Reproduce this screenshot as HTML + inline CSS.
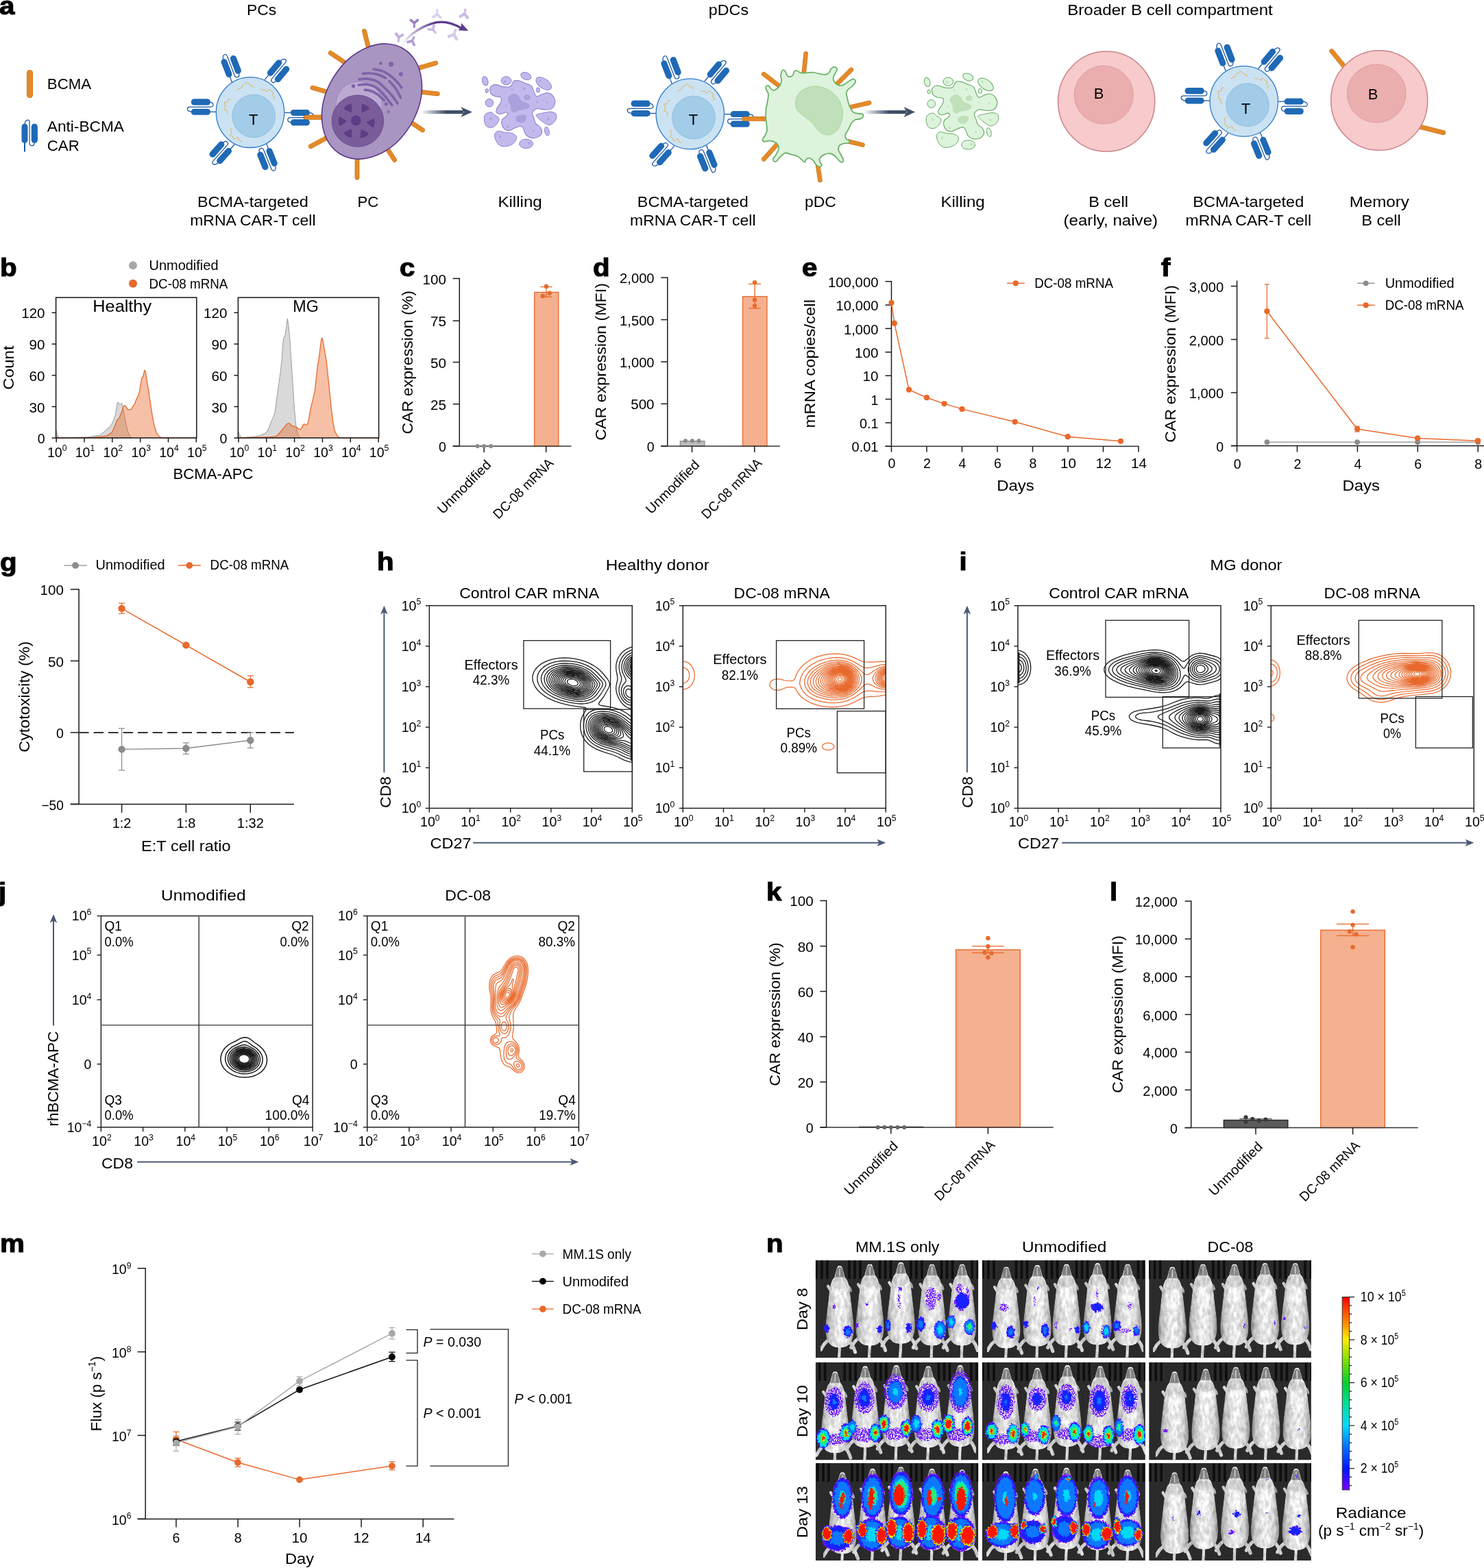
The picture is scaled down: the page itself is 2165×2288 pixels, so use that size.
<!DOCTYPE html>
<html lang="en">
<head>
<meta charset="utf-8">
<title>Figure</title>
<style>
html,body{margin:0;padding:0;background:#fff;}
body{width:2165px;height:2288px;overflow:hidden;}
svg{display:block;font-family:"Liberation Sans",sans-serif;}
svg text{white-space:pre;}
</style>
</head>
<body>
<svg width="2165" height="2288" viewBox="0 0 2165 2288">
<defs>
<g id="car"><path d="M0,0 H10.4" stroke="#1A56A6" stroke-width="1.3" fill="none"/><path d="M34.4,0 C39.4,0 42.0,1.6 42.0,4.6 C42.0,6.6 40.4,7.1 38.4,7.1 L7.9,7.1 C5.4,7.1 4.4,8.6 4.4,10.6 C4.4,13 6.9,14.2 10.4,14.2" stroke="#1A56A6" stroke-width="1.25" fill="none"/><rect x="8.4" y="-4.5" width="28.2" height="9" rx="4.4" fill="#1F69B6"/><rect x="8.4" y="9.7" width="28.2" height="9.2" rx="4.5" fill="#1F69B6"/></g>
<g id="tcell"><use href="#car" transform="translate(-49.6,-0.9) rotate(180)"/><use href="#car" transform="translate(-26.4,-43.7) rotate(-111)"/><use href="#car" transform="translate(21.1,-47.8) rotate(-50)"/><use href="#car" transform="translate(50.4,0.3) rotate(0)"/><use href="#car" transform="translate(-22.9,46.6) rotate(131.8)"/><use href="#car" transform="translate(23.2,44.4) rotate(68)"/><ellipse cx="0" cy="0" rx="49.7" ry="51.4" fill="#CBE2F3" stroke="#2C7BC9" stroke-width="1.3"/><circle cx="5.2" cy="5.2" r="31.3" fill="#A2CCE8" stroke="#8DBFE3" stroke-width="1"/><path d="M-19.4,-32.6 C-18.8,-33.0 -17.0,-34.3 -15.9,-34.9 C-14.7,-35.5 -13.1,-35.2 -12.4,-36.1 C-11.6,-37.0 -12.0,-39.3 -11.2,-40.2 C-10.4,-41.1 -8.6,-40.8 -7.7,-41.4 C-6.7,-41.9 -6.3,-43.6 -5.3,-43.7 C-4.3,-43.8 -2.7,-42.7 -1.8,-41.9 C-0.9,-41.2 -0.9,-39.4 -0.0,-39.0 C0.8,-38.6 2.8,-40.1 3.5,-39.6 C4.2,-39.1 4.0,-36.7 4.1,-36.1" fill="none" stroke="#E5A93C" stroke-width="0.9"/><path d="M15.2,-34.3 C15.7,-34.0 17.1,-32.8 18.1,-32.6 C19.2,-32.4 20.7,-33.5 21.7,-33.1 C22.6,-32.8 23.1,-30.1 24.0,-30.2 C24.9,-30.3 26.0,-33.5 26.9,-33.7 C27.9,-33.9 28.8,-32.2 29.9,-31.4 C30.9,-30.6 32.9,-30.2 33.4,-29.0 C33.9,-27.9 32.4,-25.5 32.8,-24.4 C33.2,-23.2 35.7,-22.9 35.7,-22.0 C35.7,-21.1 33.3,-19.6 32.8,-19.1" fill="none" stroke="#E5A93C" stroke-width="0.9"/><path d="M-28.8,-19.1 C-29.3,-19.2 -30.9,-20.3 -31.7,-19.7 C-32.5,-19.0 -32.5,-15.9 -33.5,-15.0 C-34.4,-14.1 -37.1,-15.4 -37.6,-14.4 C-38.1,-13.4 -36.4,-10.8 -36.4,-9.1 C-36.4,-7.4 -38.0,-5.4 -37.6,-4.4 C-37.2,-3.4 -34.7,-4.2 -34.0,-3.2 C-33.4,-2.3 -33.9,0.3 -33.5,1.4 C-33.1,2.6 -32.0,3.4 -31.7,3.8" fill="none" stroke="#E5A93C" stroke-width="0.9"/><path d="M-25.8,23.1 C-26.3,23.4 -28.6,23.8 -28.8,24.9 C-29.0,26.0 -27.0,28.2 -27.0,29.6 C-27.0,31.0 -29.1,32.1 -28.8,33.1 C-28.5,34.1 -26.0,34.5 -25.3,35.5 C-24.5,36.4 -24.9,38.6 -24.1,39.0 C-23.3,39.4 -21.6,38.2 -20.6,37.8 C-19.5,37.4 -18.4,36.1 -17.6,36.6 C-16.8,37.1 -16.8,39.8 -15.9,40.7 C-15.0,41.7 -12.9,42.2 -12.4,42.5" fill="none" stroke="#E5A93C" stroke-width="0.9"/></g>
<linearGradient id="arrg" x1="0" y1="0" x2="1" y2="0"><stop offset="0" stop-color="#3F4F69" stop-opacity="0"/><stop offset="0.6" stop-color="#3F4F69" stop-opacity="1"/><stop offset="1" stop-color="#3F4F69"/></linearGradient>
<linearGradient id="carr" gradientUnits="userSpaceOnUse" x1="585" y1="60" x2="680" y2="40"><stop offset="0" stop-color="#5B3A8C" stop-opacity="0"/><stop offset="0.55" stop-color="#5B3A8C" stop-opacity="1"/><stop offset="1" stop-color="#5B3A8C"/></linearGradient>
<g id="bigarrow"><rect x="614" y="161" width="62" height="5.1" fill="url(#arrg)"/><path d="M688.9,163.5 L672.2,156.1 L676.9,163.5 L672.2,171 Z" fill="#3F4F69"/></g>
<g id="killp"><ellipse cx="707.8" cy="118.3" rx="4.1" ry="6.7" transform="rotate(-15 707.8 118.3)" fill="#C4B9EC" stroke="#8E80CC" stroke-width="1"/><ellipse cx="738.5" cy="117.7" rx="7.4" ry="6.1" transform="rotate(0 738.5 117.7)" fill="#C4B9EC" stroke="#8E80CC" stroke-width="1"/><ellipse cx="767.3" cy="111.0" rx="7.7" ry="5.1" transform="rotate(20 767.3 111.0)" fill="#C4B9EC" stroke="#8E80CC" stroke-width="1"/><ellipse cx="793.2" cy="121.9" rx="12.8" ry="7.0" transform="rotate(35 793.2 121.9)" fill="#C4B9EC" stroke="#8E80CC" stroke-width="1"/><ellipse cx="784.9" cy="131.4" rx="2.6" ry="3.6" transform="rotate(0 784.9 131.4)" fill="#C4B9EC" stroke="#8E80CC" stroke-width="1"/><ellipse cx="710.3" cy="132.4" rx="2.2" ry="2.9" transform="rotate(0 710.3 132.4)" fill="#C4B9EC" stroke="#8E80CC" stroke-width="1"/><ellipse cx="713.9" cy="150.1" rx="5.8" ry="5.8" transform="rotate(0 713.9 150.1)" fill="#C4B9EC" stroke="#8E80CC" stroke-width="1"/><ellipse cx="797.9" cy="191.6" rx="3.2" ry="6.4" transform="rotate(-15 797.9 191.6)" fill="#C4B9EC" stroke="#8E80CC" stroke-width="1"/><ellipse cx="767.6" cy="209.8" rx="10.0" ry="6.7" transform="rotate(0 767.6 209.8)" fill="#C4B9EC" stroke="#8E80CC" stroke-width="1"/><path d="M706.2,172.7 C706.2,169.9 707.0,167.8 708.7,166.3 C710.4,164.8 714.3,163.5 716.4,163.7 C718.5,164.0 719.6,166.1 721.5,167.6 C723.4,169.1 727.2,170.8 727.9,172.7 C728.7,174.6 727.1,177.2 726.0,179.1 C724.9,181.0 723.3,183.0 721.5,184.2 C719.7,185.4 717.3,186.3 715.1,186.1 C713.0,185.9 710.2,185.2 708.7,182.9 C707.2,180.7 706.2,175.5 706.2,172.7 Z" fill="#C4B9EC" stroke="#8E80CC" stroke-width="1"/><path d="M782.3,167.6 C783.4,166.3 788.4,165.8 791.9,165.0 C795.4,164.3 800.2,162.9 803.4,163.1 C806.6,163.3 809.8,164.5 811.1,166.3 C812.4,168.1 811.9,171.6 811.1,174.0 C810.2,176.3 807.9,179.0 806.0,180.4 C804.0,181.8 801.9,182.7 799.6,182.3 C797.2,181.9 794.2,179.4 791.9,177.8 C789.5,176.2 787.1,174.4 785.5,172.7 C783.9,171.0 781.2,168.9 782.3,167.6 Z" fill="#C4B9EC" stroke="#8E80CC" stroke-width="1"/><path d="M721.5,197.0 C721.7,194.1 724.3,191.9 726.6,191.2 C729.0,190.6 732.2,192.6 735.6,193.2 C739.0,193.7 744.1,193.4 747.1,194.4 C750.1,195.5 752.9,197.4 753.5,199.6 C754.2,201.7 752.7,205.1 751.0,207.2 C749.2,209.4 746.3,211.3 743.3,212.4 C740.3,213.4 736.0,214.3 733.0,213.6 C730.1,213.0 727.3,211.3 725.4,208.5 C723.4,205.7 721.3,199.9 721.5,197.0 Z" fill="#C4B9EC" stroke="#8E80CC" stroke-width="1"/><path d="M715.1,127.9 C716.2,125.7 719.6,123.7 722.8,123.4 C726.0,123.2 730.7,126.2 734.3,126.6 C737.9,127.1 742.0,127.4 744.6,126.0 C747.1,124.6 747.5,119.7 749.7,118.3 C751.8,116.9 754.6,117.2 757.3,117.7 C760.1,118.2 763.3,120.3 766.3,121.5 C769.3,122.8 773.1,123.2 775.3,125.4 C777.4,127.5 777.8,131.8 779.1,134.3 C780.4,136.9 781.0,140.2 782.9,140.7 C784.9,141.3 787.8,138.4 790.6,137.5 C793.4,136.7 796.8,135.1 799.6,135.6 C802.3,136.1 805.5,138.4 807.2,140.7 C808.9,143.1 810.2,146.7 809.8,149.7 C809.4,152.7 807.2,156.9 804.7,158.6 C802.1,160.3 798.1,159.9 794.4,159.9 C790.8,159.9 785.9,157.8 782.9,158.6 C779.9,159.5 777.2,162.7 776.5,165.0 C775.9,167.4 778.2,170.1 779.1,172.7 C779.9,175.3 780.2,178.2 781.7,180.4 C783.1,182.5 786.6,183.4 788.1,185.5 C789.5,187.6 791.0,190.8 790.6,193.2 C790.2,195.5 787.8,198.2 785.5,199.6 C783.1,201.0 779.5,201.9 776.5,201.5 C773.6,201.1 769.7,199.2 767.6,197.0 C765.5,194.8 765.0,190.2 763.7,188.1 C762.5,185.9 762.0,184.4 759.9,184.2 C757.8,184.0 753.7,185.7 751.0,186.8 C748.2,187.8 745.8,190.4 743.3,190.6 C740.7,190.8 737.5,189.8 735.6,188.1 C733.7,186.3 732.2,182.7 731.8,180.4 C731.3,178.0 731.6,176.1 733.0,174.0 C734.5,171.8 739.9,169.3 740.7,167.6 C741.6,165.9 739.9,164.0 738.2,163.7 C736.5,163.5 732.8,166.3 730.5,166.3 C728.1,166.3 724.9,165.2 724.1,163.7 C723.2,162.3 724.3,159.7 725.4,157.3 C726.4,155.0 729.6,152.2 730.5,149.7 C731.3,147.1 731.8,143.5 730.5,142.0 C729.2,140.5 725.2,141.6 722.8,140.7 C720.5,139.9 717.7,139.0 716.4,136.9 C715.1,134.7 714.1,130.2 715.1,127.9 Z" fill="#C4B9EC" stroke="#8E80CC" stroke-width="1.1"/><path d="M740.7,143.3 C741.4,140.5 745.8,137.5 748.4,136.9 C751.0,136.2 753.9,137.7 756.1,139.4 C758.2,141.1 758.8,145.2 761.2,147.1 C763.5,149.0 768.2,149.5 770.1,151.0 C772.1,152.4 773.6,154.6 772.7,156.1 C771.8,157.6 767.8,159.1 765.0,159.9 C762.3,160.8 758.4,160.4 756.1,161.2 C753.7,161.9 752.7,164.4 751.0,164.4 C749.2,164.4 746.9,163.0 745.8,161.2 C744.8,159.4 745.4,156.5 744.6,153.5 C743.7,150.5 740.1,146.0 740.7,143.3 Z" fill="#A9A0DC"/><path d="M753.5,170.1 C754.8,168.6 758.8,167.8 761.2,167.6 C763.5,167.4 766.7,167.4 767.6,168.9 C768.4,170.4 767.6,174.8 766.3,176.5 C765.0,178.2 762.0,179.1 759.9,179.1 C757.8,179.1 754.6,178.0 753.5,176.5 C752.4,175.0 752.2,171.6 753.5,170.1 Z" fill="#A9A0DC"/><ellipse cx="768.9" cy="142.0" rx="4.9" ry="4.1" fill="#A9A0DC"/><circle cx="736.6" cy="118.7" r="1.8" fill="#ADA2E0"/><circle cx="788.1" cy="117.9" r="1.8" fill="#ADA2E0"/><circle cx="765.0" cy="129.2" r="1.9" fill="#ADA2E0"/><circle cx="747.1" cy="130.5" r="1.3" fill="#ADA2E0"/><circle cx="798.3" cy="149.4" r="1.5" fill="#ADA2E0"/><circle cx="715.8" cy="173.0" r="1.9" fill="#ADA2E0"/><circle cx="799.8" cy="173.7" r="1.8" fill="#ADA2E0"/><circle cx="740.7" cy="185.1" r="1.7" fill="#ADA2E0"/><circle cx="778.5" cy="190.9" r="1.5" fill="#ADA2E0"/><circle cx="729.8" cy="199.8" r="1.7" fill="#ADA2E0"/><circle cx="772.1" cy="209.3" r="2.0" fill="#ADA2E0"/><circle cx="738.2" cy="154.2" r="1.3" fill="#ADA2E0"/><circle cx="783.2" cy="148.4" r="1.2" fill="#ADA2E0"/></g>
<g id="killg"><ellipse cx="707.8" cy="118.3" rx="4.1" ry="6.7" transform="rotate(-15 707.8 118.3)" fill="#DDF3DC" stroke="#62A95F" stroke-width="1"/><ellipse cx="738.5" cy="117.7" rx="7.4" ry="6.1" transform="rotate(0 738.5 117.7)" fill="#DDF3DC" stroke="#62A95F" stroke-width="1"/><ellipse cx="767.3" cy="111.0" rx="7.7" ry="5.1" transform="rotate(20 767.3 111.0)" fill="#DDF3DC" stroke="#62A95F" stroke-width="1"/><ellipse cx="793.2" cy="121.9" rx="12.8" ry="7.0" transform="rotate(35 793.2 121.9)" fill="#DDF3DC" stroke="#62A95F" stroke-width="1"/><ellipse cx="784.9" cy="131.4" rx="2.6" ry="3.6" transform="rotate(0 784.9 131.4)" fill="#DDF3DC" stroke="#62A95F" stroke-width="1"/><ellipse cx="710.3" cy="132.4" rx="2.2" ry="2.9" transform="rotate(0 710.3 132.4)" fill="#DDF3DC" stroke="#62A95F" stroke-width="1"/><ellipse cx="713.9" cy="150.1" rx="5.8" ry="5.8" transform="rotate(0 713.9 150.1)" fill="#DDF3DC" stroke="#62A95F" stroke-width="1"/><ellipse cx="797.9" cy="191.6" rx="3.2" ry="6.4" transform="rotate(-15 797.9 191.6)" fill="#DDF3DC" stroke="#62A95F" stroke-width="1"/><ellipse cx="767.6" cy="209.8" rx="10.0" ry="6.7" transform="rotate(0 767.6 209.8)" fill="#DDF3DC" stroke="#62A95F" stroke-width="1"/><path d="M706.2,172.7 C706.2,169.9 707.0,167.8 708.7,166.3 C710.4,164.8 714.3,163.5 716.4,163.7 C718.5,164.0 719.6,166.1 721.5,167.6 C723.4,169.1 727.2,170.8 727.9,172.7 C728.7,174.6 727.1,177.2 726.0,179.1 C724.9,181.0 723.3,183.0 721.5,184.2 C719.7,185.4 717.3,186.3 715.1,186.1 C713.0,185.9 710.2,185.2 708.7,182.9 C707.2,180.7 706.2,175.5 706.2,172.7 Z" fill="#DDF3DC" stroke="#62A95F" stroke-width="1"/><path d="M782.3,167.6 C783.4,166.3 788.4,165.8 791.9,165.0 C795.4,164.3 800.2,162.9 803.4,163.1 C806.6,163.3 809.8,164.5 811.1,166.3 C812.4,168.1 811.9,171.6 811.1,174.0 C810.2,176.3 807.9,179.0 806.0,180.4 C804.0,181.8 801.9,182.7 799.6,182.3 C797.2,181.9 794.2,179.4 791.9,177.8 C789.5,176.2 787.1,174.4 785.5,172.7 C783.9,171.0 781.2,168.9 782.3,167.6 Z" fill="#DDF3DC" stroke="#62A95F" stroke-width="1"/><path d="M721.5,197.0 C721.7,194.1 724.3,191.9 726.6,191.2 C729.0,190.6 732.2,192.6 735.6,193.2 C739.0,193.7 744.1,193.4 747.1,194.4 C750.1,195.5 752.9,197.4 753.5,199.6 C754.2,201.7 752.7,205.1 751.0,207.2 C749.2,209.4 746.3,211.3 743.3,212.4 C740.3,213.4 736.0,214.3 733.0,213.6 C730.1,213.0 727.3,211.3 725.4,208.5 C723.4,205.7 721.3,199.9 721.5,197.0 Z" fill="#DDF3DC" stroke="#62A95F" stroke-width="1"/><path d="M715.1,127.9 C716.2,125.7 719.6,123.7 722.8,123.4 C726.0,123.2 730.7,126.2 734.3,126.6 C737.9,127.1 742.0,127.4 744.6,126.0 C747.1,124.6 747.5,119.7 749.7,118.3 C751.8,116.9 754.6,117.2 757.3,117.7 C760.1,118.2 763.3,120.3 766.3,121.5 C769.3,122.8 773.1,123.2 775.3,125.4 C777.4,127.5 777.8,131.8 779.1,134.3 C780.4,136.9 781.0,140.2 782.9,140.7 C784.9,141.3 787.8,138.4 790.6,137.5 C793.4,136.7 796.8,135.1 799.6,135.6 C802.3,136.1 805.5,138.4 807.2,140.7 C808.9,143.1 810.2,146.7 809.8,149.7 C809.4,152.7 807.2,156.9 804.7,158.6 C802.1,160.3 798.1,159.9 794.4,159.9 C790.8,159.9 785.9,157.8 782.9,158.6 C779.9,159.5 777.2,162.7 776.5,165.0 C775.9,167.4 778.2,170.1 779.1,172.7 C779.9,175.3 780.2,178.2 781.7,180.4 C783.1,182.5 786.6,183.4 788.1,185.5 C789.5,187.6 791.0,190.8 790.6,193.2 C790.2,195.5 787.8,198.2 785.5,199.6 C783.1,201.0 779.5,201.9 776.5,201.5 C773.6,201.1 769.7,199.2 767.6,197.0 C765.5,194.8 765.0,190.2 763.7,188.1 C762.5,185.9 762.0,184.4 759.9,184.2 C757.8,184.0 753.7,185.7 751.0,186.8 C748.2,187.8 745.8,190.4 743.3,190.6 C740.7,190.8 737.5,189.8 735.6,188.1 C733.7,186.3 732.2,182.7 731.8,180.4 C731.3,178.0 731.6,176.1 733.0,174.0 C734.5,171.8 739.9,169.3 740.7,167.6 C741.6,165.9 739.9,164.0 738.2,163.7 C736.5,163.5 732.8,166.3 730.5,166.3 C728.1,166.3 724.9,165.2 724.1,163.7 C723.2,162.3 724.3,159.7 725.4,157.3 C726.4,155.0 729.6,152.2 730.5,149.7 C731.3,147.1 731.8,143.5 730.5,142.0 C729.2,140.5 725.2,141.6 722.8,140.7 C720.5,139.9 717.7,139.0 716.4,136.9 C715.1,134.7 714.1,130.2 715.1,127.9 Z" fill="#DDF3DC" stroke="#62A95F" stroke-width="1.1"/><path d="M740.7,143.3 C741.4,140.5 745.8,137.5 748.4,136.9 C751.0,136.2 753.9,137.7 756.1,139.4 C758.2,141.1 758.8,145.2 761.2,147.1 C763.5,149.0 768.2,149.5 770.1,151.0 C772.1,152.4 773.6,154.6 772.7,156.1 C771.8,157.6 767.8,159.1 765.0,159.9 C762.3,160.8 758.4,160.4 756.1,161.2 C753.7,161.9 752.7,164.4 751.0,164.4 C749.2,164.4 746.9,163.0 745.8,161.2 C744.8,159.4 745.4,156.5 744.6,153.5 C743.7,150.5 740.1,146.0 740.7,143.3 Z" fill="#BFE0B8"/><path d="M753.5,170.1 C754.8,168.6 758.8,167.8 761.2,167.6 C763.5,167.4 766.7,167.4 767.6,168.9 C768.4,170.4 767.6,174.8 766.3,176.5 C765.0,178.2 762.0,179.1 759.9,179.1 C757.8,179.1 754.6,178.0 753.5,176.5 C752.4,175.0 752.2,171.6 753.5,170.1 Z" fill="#BFE0B8"/><ellipse cx="768.9" cy="142.0" rx="4.9" ry="4.1" fill="#BFE0B8"/><circle cx="736.6" cy="118.7" r="1.8" fill="#BFE3BA"/><circle cx="788.1" cy="117.9" r="1.8" fill="#BFE3BA"/><circle cx="765.0" cy="129.2" r="1.9" fill="#BFE3BA"/><circle cx="747.1" cy="130.5" r="1.3" fill="#BFE3BA"/><circle cx="798.3" cy="149.4" r="1.5" fill="#BFE3BA"/><circle cx="715.8" cy="173.0" r="1.9" fill="#BFE3BA"/><circle cx="799.8" cy="173.7" r="1.8" fill="#BFE3BA"/><circle cx="740.7" cy="185.1" r="1.7" fill="#BFE3BA"/><circle cx="778.5" cy="190.9" r="1.5" fill="#BFE3BA"/><circle cx="729.8" cy="199.8" r="1.7" fill="#BFE3BA"/><circle cx="772.1" cy="209.3" r="2.0" fill="#BFE3BA"/><circle cx="738.2" cy="154.2" r="1.3" fill="#BFE3BA"/><circle cx="783.2" cy="148.4" r="1.2" fill="#BFE3BA"/></g>
<clipPath id="cp1"><rect x="626.3" y="883.7" width="296.0" height="295.7"/></clipPath>
<clipPath id="cp2"><rect x="996.3" y="883.7" width="296.0" height="295.7"/></clipPath>
<clipPath id="cp3"><rect x="1485.0" y="883.7" width="296.0" height="295.7"/></clipPath>
<clipPath id="cp4"><rect x="1854.3" y="883.7" width="296.0" height="295.7"/></clipPath>
<clipPath id="cp5"><rect x="147.4" y="1336.5" width="308.7" height="308.3"/></clipPath>
<clipPath id="cp6"><rect x="535.7" y="1336.5" width="308.7" height="308.3"/></clipPath>
<linearGradient id="mbody" x1="0" y1="0" x2="1" y2="0"><stop offset="0" stop-color="#858585"/><stop offset="0.12" stop-color="#c2c2c2"/><stop offset="0.35" stop-color="#e6e6e6"/><stop offset="0.55" stop-color="#f2f2f2"/><stop offset="0.82" stop-color="#d6d6d6"/><stop offset="1" stop-color="#909090"/></linearGradient>
<g id="mouse"><path d="M-95,840 C-150,860 -175,900 -205,955" fill="none" stroke="#d2d2d2" stroke-width="40" stroke-linecap="round"/><path d="M95,860 C135,890 150,930 170,985" fill="none" stroke="#d2d2d2" stroke-width="40" stroke-linecap="round"/><path d="M0,900 L-8,1090" fill="none" stroke="#d8d8d8" stroke-width="34"/><path d="M-85,330 L-128,262" fill="none" stroke="#d0d0d0" stroke-width="34" stroke-linecap="round"/><ellipse cx="112" cy="290" rx="17" ry="42" transform="rotate(-25 112 290)" fill="#a8a8a8"/><path d="M0.0,40.0 C8.3,40.0 17.5,38.3 25.0,50.0 C32.5,61.7 39.5,91.7 45.0,110.0 C50.5,128.3 51.8,145.8 58.0,160.0 C64.2,174.2 74.7,179.2 82.0,195.0 C89.3,210.8 96.7,232.5 102.0,255.0 C107.3,277.5 110.3,302.5 114.0,330.0 C117.7,357.5 120.3,388.3 124.0,420.0 C127.7,451.7 132.0,486.7 136.0,520.0 C140.0,553.3 144.8,586.7 148.0,620.0 C151.2,653.3 154.7,690.0 155.0,720.0 C155.3,750.0 154.5,775.0 150.0,800.0 C145.5,825.0 139.3,850.3 128.0,870.0 C116.7,889.7 99.2,907.5 82.0,918.0 C64.8,928.5 42.8,930.5 25.0,933.0 C7.2,935.5 -7.2,935.5 -25.0,933.0 C-42.8,930.5 -64.8,928.5 -82.0,918.0 C-99.2,907.5 -116.7,889.7 -128.0,870.0 C-139.3,850.3 -145.5,825.0 -150.0,800.0 C-154.5,775.0 -155.3,750.0 -155.0,720.0 C-154.7,690.0 -151.2,653.3 -148.0,620.0 C-144.8,586.7 -140.0,553.3 -136.0,520.0 C-132.0,486.7 -127.7,451.7 -124.0,420.0 C-120.3,388.3 -117.7,357.5 -114.0,330.0 C-110.3,302.5 -107.3,277.5 -102.0,255.0 C-96.7,232.5 -89.3,210.8 -82.0,195.0 C-74.7,179.2 -64.2,174.2 -58.0,160.0 C-51.8,145.8 -50.5,128.3 -45.0,110.0 C-39.5,91.7 -32.5,61.7 -25.0,50.0 C-17.5,38.3 -8.3,40.0 0.0,40.0 Z" fill="url(#mbody)"/><ellipse cx="5" cy="400" rx="75" ry="140" fill="#fff" opacity="0.45"/><ellipse cx="0" cy="235" rx="85" ry="60" fill="#8a8a8a" opacity="0.2"/><path d="M-50,165 L-33,75 Q0,30 33,75 L50,165 Z" fill="#858585"/><rect x="-4" y="70" width="8" height="85" fill="#fff" opacity="0.8"/><path d="M-52,166 H52" stroke="#bdbdbd" stroke-width="8"/></g>
<filter id="msoft" x="0" y="0" width="100%" height="100%" color-interpolation-filters="sRGB"><feTurbulence type="fractalNoise" baseFrequency="0.22 0.1" numOctaves="3" seed="7" result="t"/><feColorMatrix in="t" type="matrix" values="1 0 0 0 0  1 0 0 0 0  1 0 0 0 0  0 0 0 0 1" result="g"/><feGaussianBlur in="SourceGraphic" stdDeviation="0.7" result="b"/><feComposite in="b" in2="g" operator="arithmetic" k1="0.4" k2="0.78" k3="0" k4="0" result="m"/><feComposite in="m" in2="b" operator="in"/></filter>
<filter id="rough" x="-10%" y="-10%" width="120%" height="120%"><feTurbulence type="fractalNoise" baseFrequency="0.35" numOctaves="2" seed="3" result="n"/><feDisplacementMap in="SourceGraphic" in2="n" scale="7" xChannelSelector="R" yChannelSelector="G"/></filter>
<filter id="speck" x="-10%" y="-10%" width="120%" height="120%"><feTurbulence type="fractalNoise" baseFrequency="0.55" numOctaves="1" seed="11" result="n"/><feColorMatrix in="n" type="matrix" values="0 0 0 0 0  0 0 0 0 0  0 0 0 0 0  0 0 0 10 -4.3" result="m"/><feDisplacementMap in="SourceGraphic" in2="n" scale="6" xChannelSelector="R" yChannelSelector="G" result="d"/><feComposite in="d" in2="m" operator="in"/></filter>
<clipPath id="cp7"><rect x="1189.9" y="1839.1" width="237.3" height="142.3"/></clipPath>
<clipPath id="cp8"><rect x="1189.9" y="1988.0" width="237.3" height="142.5"/></clipPath>
<clipPath id="cp9"><rect x="1189.9" y="2135.0" width="237.3" height="142.3"/></clipPath>
<clipPath id="cp10"><rect x="1432.9" y="1839.1" width="238.0" height="142.3"/></clipPath>
<clipPath id="cp11"><rect x="1432.9" y="1988.0" width="238.0" height="142.5"/></clipPath>
<clipPath id="cp12"><rect x="1432.9" y="2135.0" width="238.0" height="142.3"/></clipPath>
<clipPath id="cp13"><rect x="1676.2" y="1839.1" width="236.7" height="142.3"/></clipPath>
<clipPath id="cp14"><rect x="1676.2" y="1988.0" width="236.7" height="142.5"/></clipPath>
<clipPath id="cp15"><rect x="1676.2" y="2135.0" width="236.7" height="142.3"/></clipPath>
<linearGradient id="cb" x1="0" y1="0" x2="0" y2="1"><stop offset="0" stop-color="#f00"/><stop offset="0.12" stop-color="#ff7a00"/><stop offset="0.22" stop-color="#ffee00"/><stop offset="0.33" stop-color="#7be000"/><stop offset="0.45" stop-color="#00d030"/><stop offset="0.56" stop-color="#00e0a0"/><stop offset="0.67" stop-color="#00d8ff"/><stop offset="0.78" stop-color="#0070ff"/><stop offset="0.89" stop-color="#0018ff"/><stop offset="1" stop-color="#7a00ff"/></linearGradient>
</defs>
<rect width="2165" height="2288" fill="#fff"/>
<!-- panel_a -->
<text font-size="36" font-weight="bold" textLength="22.4" lengthAdjust="spacingAndGlyphs" x="-1.0" y="21.0" stroke="#000" stroke-width="1.1" stroke-linejoin="round">a</text>
<text font-size="22.5" text-anchor="middle" textLength="43.3" lengthAdjust="spacingAndGlyphs" x="381.6" y="21.6" >PCs</text>
<text font-size="22.5" text-anchor="middle" textLength="58.3" lengthAdjust="spacingAndGlyphs" x="1062.9" y="21.6" >pDCs</text>
<text font-size="22.5" text-anchor="middle" textLength="299.7" lengthAdjust="spacingAndGlyphs" x="1707.0" y="21.6" >Broader B cell compartment</text>
<text font-size="22.5" text-anchor="middle" textLength="161.9" lengthAdjust="spacingAndGlyphs" x="368.9" y="301.6" >BCMA-targeted</text>
<text font-size="22.5" text-anchor="middle" textLength="183.4" lengthAdjust="spacingAndGlyphs" x="368.9" y="329.4" >mRNA CAR-T cell</text>
<text font-size="22.5" text-anchor="middle" textLength="161.9" lengthAdjust="spacingAndGlyphs" x="1010.8" y="301.6" >BCMA-targeted</text>
<text font-size="22.5" text-anchor="middle" textLength="183.4" lengthAdjust="spacingAndGlyphs" x="1010.8" y="329.4" >mRNA CAR-T cell</text>
<text font-size="22.5" text-anchor="middle" textLength="161.9" lengthAdjust="spacingAndGlyphs" x="1821.3" y="301.6" >BCMA-targeted</text>
<text font-size="22.5" text-anchor="middle" textLength="183.4" lengthAdjust="spacingAndGlyphs" x="1821.3" y="329.4" >mRNA CAR-T cell</text>
<text font-size="22.5" text-anchor="middle" textLength="30.9" lengthAdjust="spacingAndGlyphs" x="536.9" y="301.6" >PC</text>
<text font-size="22.5" text-anchor="middle" textLength="64.4" lengthAdjust="spacingAndGlyphs" x="758.6" y="301.6" >Killing</text>
<text font-size="22.5" text-anchor="middle" textLength="45.9" lengthAdjust="spacingAndGlyphs" x="1196.9" y="301.6" >pDC</text>
<text font-size="22.5" text-anchor="middle" textLength="64.4" lengthAdjust="spacingAndGlyphs" x="1404.6" y="301.6" >Killing</text>
<text font-size="22.5" text-anchor="middle" textLength="57.6" lengthAdjust="spacingAndGlyphs" x="1617.1" y="301.6" >B cell</text>
<text font-size="22.5" text-anchor="middle" textLength="137.6" lengthAdjust="spacingAndGlyphs" x="1620.3" y="329.4" >(early, naive)</text>
<text font-size="22.5" text-anchor="middle" textLength="87.3" lengthAdjust="spacingAndGlyphs" x="2012.3" y="301.6" >Memory</text>
<text font-size="22.5" text-anchor="middle" textLength="57.6" lengthAdjust="spacingAndGlyphs" x="2015.0" y="329.4" >B cell</text>
<line x1="43.5" y1="106.5" x2="43.5" y2="138.5" stroke="#C5761E" stroke-width="9.1" stroke-linecap="round"/>
<line x1="43.5" y1="106.5" x2="43.5" y2="138.5" stroke="#E58A27" stroke-width="7.8999999999999995" stroke-linecap="round"/>
<text font-size="22.5" textLength="64.4" lengthAdjust="spacingAndGlyphs" x="68.8" y="130.0" >BCMA</text>
<g transform="translate(36,221.4) rotate(-90)"><path d="M0,0 H14.7" stroke="#1A56A6" stroke-width="2" fill="none"/><path d="M38.7,0 C43.7,0 46.3,1.6 46.3,4.6 C46.3,6.6 44.7,7.1 42.7,7.1 L12.2,7.1 C9.7,7.1 8.7,8.6 8.7,10.6 C8.7,13 11.2,14.2 14.7,14.2" stroke="#1A56A6" stroke-width="1.25" fill="none"/><rect x="12.7" y="-4.5" width="28.2" height="9" rx="4.4" fill="#1F69B6"/><rect x="12.7" y="9.7" width="28.2" height="9.2" rx="4.5" fill="#1F69B6"/></g>
<text font-size="22.5" textLength="112.1" lengthAdjust="spacingAndGlyphs" x="68.8" y="192.0" >Anti-BCMA</text>
<text font-size="22.5" textLength="47.0" lengthAdjust="spacingAndGlyphs" x="68.8" y="220.0" >CAR</text>
<line x1="537.2" y1="68.4" x2="531.5" y2="45.4" stroke="#C5761E" stroke-width="6.800000000000001" stroke-linecap="round"/>
<line x1="537.2" y1="68.4" x2="531.5" y2="45.4" stroke="#E58A27" stroke-width="5.6000000000000005" stroke-linecap="round"/>
<line x1="504.0" y1="92.0" x2="482.2" y2="77.3" stroke="#C5761E" stroke-width="6.800000000000001" stroke-linecap="round"/>
<line x1="504.0" y1="92.0" x2="482.2" y2="77.3" stroke="#E58A27" stroke-width="5.6000000000000005" stroke-linecap="round"/>
<line x1="478.4" y1="134.6" x2="456.0" y2="127.9" stroke="#C5761E" stroke-width="6.800000000000001" stroke-linecap="round"/>
<line x1="478.4" y1="134.6" x2="456.0" y2="127.9" stroke="#E58A27" stroke-width="5.6000000000000005" stroke-linecap="round"/>
<line x1="470.7" y1="171.1" x2="445.8" y2="171.1" stroke="#C5761E" stroke-width="6.800000000000001" stroke-linecap="round"/>
<line x1="470.7" y1="171.1" x2="445.8" y2="171.1" stroke="#E58A27" stroke-width="5.6000000000000005" stroke-linecap="round"/>
<line x1="475.8" y1="201.4" x2="453.4" y2="213.6" stroke="#C5761E" stroke-width="6.800000000000001" stroke-linecap="round"/>
<line x1="475.8" y1="201.4" x2="453.4" y2="213.6" stroke="#E58A27" stroke-width="5.6000000000000005" stroke-linecap="round"/>
<line x1="521.0" y1="230.8" x2="521.0" y2="259.0" stroke="#C5761E" stroke-width="6.800000000000001" stroke-linecap="round"/>
<line x1="521.0" y1="230.8" x2="521.0" y2="259.0" stroke="#E58A27" stroke-width="5.6000000000000005" stroke-linecap="round"/>
<line x1="562.2" y1="212.9" x2="575.6" y2="233.4" stroke="#C5761E" stroke-width="6.800000000000001" stroke-linecap="round"/>
<line x1="562.2" y1="212.9" x2="575.6" y2="233.4" stroke="#E58A27" stroke-width="5.6000000000000005" stroke-linecap="round"/>
<line x1="594.8" y1="175.2" x2="616.5" y2="189.9" stroke="#C5761E" stroke-width="6.800000000000001" stroke-linecap="round"/>
<line x1="594.8" y1="175.2" x2="616.5" y2="189.9" stroke="#E58A27" stroke-width="5.6000000000000005" stroke-linecap="round"/>
<line x1="612.7" y1="134.1" x2="638.3" y2="136.8" stroke="#C5761E" stroke-width="6.800000000000001" stroke-linecap="round"/>
<line x1="612.7" y1="134.1" x2="638.3" y2="136.8" stroke="#E58A27" stroke-width="5.6000000000000005" stroke-linecap="round"/>
<line x1="610.1" y1="99.5" x2="635.7" y2="92.0" stroke="#C5761E" stroke-width="6.800000000000001" stroke-linecap="round"/>
<line x1="610.1" y1="99.5" x2="635.7" y2="92.0" stroke="#E58A27" stroke-width="5.6000000000000005" stroke-linecap="round"/>
<use href="#tcell" transform="translate(365,164.1)"/>
<line x1="470.7" y1="171.1" x2="447.0" y2="171.1" stroke="#C5761E" stroke-width="6.800000000000001" stroke-linecap="round"/>
<line x1="470.7" y1="171.1" x2="447.0" y2="171.1" stroke="#E58A27" stroke-width="5.6000000000000005" stroke-linecap="round"/>
<ellipse cx="542.5" cy="148" rx="89.6" ry="66.1" transform="rotate(-59.2 542.5 148)" fill="#A995C1" stroke="#5A388B" stroke-width="1.6"/>
<circle cx="523.8" cy="152.8" r="33.9" fill="#BBA9D2" stroke="#9A83BA" stroke-width="0.8"/>
<path d="M544.9,101.0 C547.0,101.4 553.9,102.2 557.7,103.6 C561.5,104.9 564.5,106.9 567.9,109.3 C571.3,111.8 575.2,115.2 578.2,118.3 C581.1,121.4 584.6,126.3 585.8,127.9" fill="none" stroke="#7E63A6" stroke-width="3.6" stroke-linecap="round"/>
<path d="M529.5,107.4 C531.3,107.3 536.2,106.5 539.8,106.8 C543.4,107.0 547.5,107.5 551.3,108.7 C555.1,109.8 560.9,112.9 562.8,113.8" fill="none" stroke="#7E63A6" stroke-width="3.6" stroke-linecap="round"/>
<path d="M567.9,118.3 C569.4,120.0 574.1,124.5 576.9,128.5 C579.7,132.6 583.3,140.2 584.6,142.6" fill="none" stroke="#7E63A6" stroke-width="3.6" stroke-linecap="round"/>
<path d="M523.8,115.7 C526.0,115.6 532.6,114.4 537.2,115.1 C541.8,115.7 546.6,116.7 551.3,119.5 C556.0,122.4 561.5,128.5 565.4,132.3 C569.2,136.2 571.9,139.5 574.3,142.6 C576.8,145.7 579.1,149.5 580.1,150.9" fill="none" stroke="#7E63A6" stroke-width="3.6" stroke-linecap="round"/>
<path d="M523.2,124.0 C525.5,123.9 532.7,122.6 537.2,123.4 C541.7,124.1 546.0,125.7 550.0,128.5 C554.1,131.3 557.9,135.9 561.5,140.0 C565.2,144.2 570.1,151.2 571.8,153.4" fill="none" stroke="#7E63A6" stroke-width="3.6" stroke-linecap="round"/>
<path d="M532.1,131.1 C533.8,131.4 539.1,131.8 542.3,133.0 C545.5,134.2 548.3,135.9 551.3,138.1 C554.3,140.3 558.8,145.0 560.3,146.4" fill="none" stroke="#7E63A6" stroke-width="3.6" stroke-linecap="round"/>
<circle cx="555.4" cy="92.4" r="2.3" fill="#7E63A6" stroke="none" stroke-width="0" />
<circle cx="570.5" cy="93.6" r="3.6" fill="#7E63A6" stroke="none" stroke-width="0" />
<circle cx="584.9" cy="108.3" r="3.1" fill="#7E63A6" stroke="none" stroke-width="0" />
<circle cx="515.5" cy="125.6" r="2.6" fill="#7E63A6" stroke="none" stroke-width="0" />
<circle cx="563.4" cy="151.9" r="2.6" fill="#7E63A6" stroke="none" stroke-width="0" />
<circle cx="566.9" cy="163.0" r="1.9" fill="#7E63A6" stroke="none" stroke-width="0" />
<circle cx="521.9" cy="176.5" r="37.7" fill="#785A99" stroke="#6B4D8E" stroke-width="1" fill-opacity="0.96"/>
<circle cx="519.3" cy="175.8" r="7.4" fill="#5B3E85"/>
<path d="M-4.6,0 L3.6,-5.2 Q6,0 3.6,5.2 Z" transform="translate(509.4,158.9) rotate(-122)" fill="#5B3E85" stroke="#5B3E85" stroke-width="2.6" stroke-linejoin="round"/>
<path d="M-4.6,0 L3.6,-5.2 Q6,0 3.6,5.2 Z" transform="translate(531.2,158.9) rotate(-58)" fill="#5B3E85" stroke="#5B3E85" stroke-width="2.6" stroke-linejoin="round"/>
<path d="M-4.6,0 L3.6,-5.2 Q6,0 3.6,5.2 Z" transform="translate(499.8,177.0) rotate(178)" fill="#5B3E85" stroke="#5B3E85" stroke-width="2.6" stroke-linejoin="round"/>
<path d="M-4.6,0 L3.6,-5.2 Q6,0 3.6,5.2 Z" transform="translate(540.6,179.2) rotate(8)" fill="#5B3E85" stroke="#5B3E85" stroke-width="2.6" stroke-linejoin="round"/>
<path d="M-4.6,0 L3.6,-5.2 Q6,0 3.6,5.2 Z" transform="translate(509.4,193.7) rotate(122)" fill="#5B3E85" stroke="#5B3E85" stroke-width="2.6" stroke-linejoin="round"/>
<path d="M-4.6,0 L3.6,-5.2 Q6,0 3.6,5.2 Z" transform="translate(529.9,194.4) rotate(62)" fill="#5B3E85" stroke="#5B3E85" stroke-width="2.6" stroke-linejoin="round"/>
<path d="M584.7,66.5 C596,52 611,38.5 636.8,32.6 C650,30.5 662,34.5 673,41" fill="none" stroke="url(#carr)" stroke-width="3.2"/>
<path d="M683.2,45 L668.5,44.3 L672.8,39.6 L673,33.5 Z" fill="#5B3A8C"/>
<g transform="translate(582.2,53.2) rotate(8) scale(0.95)" fill="none" stroke="#B8A5D8" opacity="1"><path d="M0,0.5 V8.5" stroke-width="3"/><path d="M0.6,1.6 L-6.4,-4.4 M-0.6,1.6 L6.4,-4.4" stroke-width="3.7"/><path d="M0,2 V8.5 M-0.4,0.6 L-6.2,-4.4 M0.4,0.6 L6.2,-4.4" stroke="#fff" stroke-width="0.6" opacity="0.55"/></g>
<g transform="translate(604.3,32.5) rotate(0) scale(0.95)" fill="none" stroke="#8E6FC0" opacity="1"><path d="M0,0.5 V8.5" stroke-width="3"/><path d="M0.6,1.6 L-6.4,-4.4 M-0.6,1.6 L6.4,-4.4" stroke-width="3.7"/><path d="M0,2 V8.5 M-0.4,0.6 L-6.2,-4.4 M0.4,0.6 L6.2,-4.4" stroke="#fff" stroke-width="0.6" opacity="0.55"/></g>
<g transform="translate(600.9,60.5) rotate(205) scale(0.95)" fill="none" stroke="#A58AD0" opacity="1"><path d="M0,0.5 V8.5" stroke-width="3"/><path d="M0.6,1.6 L-6.4,-4.4 M-0.6,1.6 L6.4,-4.4" stroke-width="3.7"/><path d="M0,2 V8.5 M-0.4,0.6 L-6.2,-4.4 M0.4,0.6 L6.2,-4.4" stroke="#fff" stroke-width="0.6" opacity="0.55"/></g>
<g transform="translate(637.5,21.8) rotate(182) scale(1.0)" fill="none" stroke="#D8CDEC" opacity="1"><path d="M0,0.5 V8.5" stroke-width="3"/><path d="M0.6,1.6 L-6.4,-4.4 M-0.6,1.6 L6.4,-4.4" stroke-width="3.7"/><path d="M0,2 V8.5 M-0.4,0.6 L-6.2,-4.4 M0.4,0.6 L6.2,-4.4" stroke="#fff" stroke-width="0.6" opacity="0.55"/></g>
<g transform="translate(631.0,42.3) rotate(-38) scale(0.95)" fill="none" stroke="#C0AEDD" opacity="1"><path d="M0,0.5 V8.5" stroke-width="3"/><path d="M0.6,1.6 L-6.4,-4.4 M-0.6,1.6 L6.4,-4.4" stroke-width="3.7"/><path d="M0,2 V8.5 M-0.4,0.6 L-6.2,-4.4 M0.4,0.6 L6.2,-4.4" stroke="#fff" stroke-width="0.6" opacity="0.55"/></g>
<g transform="translate(677.5,21.5) rotate(190) scale(1.05)" fill="none" stroke="#C4B2E0" opacity="1"><path d="M0,0.5 V8.5" stroke-width="3"/><path d="M0.6,1.6 L-6.4,-4.4 M-0.6,1.6 L6.4,-4.4" stroke-width="3.7"/><path d="M0,2 V8.5 M-0.4,0.6 L-6.2,-4.4 M0.4,0.6 L6.2,-4.4" stroke="#fff" stroke-width="0.6" opacity="0.55"/></g>
<g transform="translate(661.8,51.5) rotate(200) scale(1.15)" fill="none" stroke="#CFC3E8" opacity="1"><path d="M0,0.5 V8.5" stroke-width="3"/><path d="M0.6,1.6 L-6.4,-4.4 M-0.6,1.6 L6.4,-4.4" stroke-width="3.7"/><path d="M0,2 V8.5 M-0.4,0.6 L-6.2,-4.4 M0.4,0.6 L6.2,-4.4" stroke="#fff" stroke-width="0.6" opacity="0.55"/></g>
<use href="#bigarrow"/>
<use href="#killp"/>
<use href="#tcell" transform="translate(1006.8,166.3)"/>
<line x1="1172.7" y1="106.3" x2="1175.6" y2="78.4" stroke="#C5761E" stroke-width="6.6000000000000005" stroke-linecap="round"/>
<line x1="1172.7" y1="106.3" x2="1175.6" y2="78.4" stroke="#E58A27" stroke-width="5.4" stroke-linecap="round"/>
<line x1="1137.6" y1="126.1" x2="1114.3" y2="108.2" stroke="#C5761E" stroke-width="6.6000000000000005" stroke-linecap="round"/>
<line x1="1137.6" y1="126.1" x2="1114.3" y2="108.2" stroke="#E58A27" stroke-width="5.4" stroke-linecap="round"/>
<line x1="1118.4" y1="173.4" x2="1085.8" y2="173.4" stroke="#C5761E" stroke-width="6.6000000000000005" stroke-linecap="round"/>
<line x1="1118.4" y1="173.4" x2="1085.8" y2="173.4" stroke="#E58A27" stroke-width="5.4" stroke-linecap="round"/>
<line x1="1133.1" y1="211.2" x2="1114.3" y2="232.3" stroke="#C5761E" stroke-width="6.6000000000000005" stroke-linecap="round"/>
<line x1="1133.1" y1="211.2" x2="1114.3" y2="232.3" stroke="#E58A27" stroke-width="5.4" stroke-linecap="round"/>
<line x1="1193.2" y1="241.9" x2="1196.4" y2="263.0" stroke="#C5761E" stroke-width="6.6000000000000005" stroke-linecap="round"/>
<line x1="1193.2" y1="241.9" x2="1196.4" y2="263.0" stroke="#E58A27" stroke-width="5.4" stroke-linecap="round"/>
<line x1="1237.3" y1="206.3" x2="1258.5" y2="211.4" stroke="#C5761E" stroke-width="6.6000000000000005" stroke-linecap="round"/>
<line x1="1237.3" y1="206.3" x2="1258.5" y2="211.4" stroke="#E58A27" stroke-width="5.4" stroke-linecap="round"/>
<line x1="1240.5" y1="156.4" x2="1268.1" y2="150.0" stroke="#C5761E" stroke-width="6.6000000000000005" stroke-linecap="round"/>
<line x1="1240.5" y1="156.4" x2="1268.1" y2="150.0" stroke="#E58A27" stroke-width="5.4" stroke-linecap="round"/>
<line x1="1220.7" y1="122.9" x2="1241.8" y2="101.8" stroke="#C5761E" stroke-width="6.6000000000000005" stroke-linecap="round"/>
<line x1="1220.7" y1="122.9" x2="1241.8" y2="101.8" stroke="#E58A27" stroke-width="5.4" stroke-linecap="round"/>
<path d="M1140.1,105.0 C1140.7,103.6 1141.7,101.9 1142.7,101.8 C1143.6,101.7 1144.9,103.0 1145.9,104.4 C1146.8,105.8 1147.3,108.8 1148.4,110.1 C1149.6,111.4 1151.5,112.2 1152.9,112.0 C1154.3,111.9 1155.8,110.8 1156.8,109.5 C1157.7,108.2 1157.7,105.4 1158.7,104.4 C1159.6,103.3 1160.9,102.8 1162.5,103.1 C1164.1,103.4 1165.8,105.8 1168.3,106.3 C1170.7,106.8 1174.2,106.4 1177.2,106.3 C1180.2,106.2 1183.2,105.4 1186.2,105.6 C1189.2,105.9 1192.1,107.0 1195.1,107.6 C1198.1,108.1 1201.7,109.1 1204.1,108.8 C1206.4,108.6 1207.8,107.7 1209.2,106.3 C1210.6,104.9 1211.1,102.0 1212.4,100.5 C1213.7,99.1 1215.4,97.6 1216.9,97.6 C1218.4,97.6 1221.0,99.1 1221.4,100.5 C1221.7,102.0 1219.8,104.0 1218.8,106.3 C1217.8,108.5 1215.7,111.5 1215.6,114.0 C1215.5,116.4 1216.7,119.2 1218.2,121.0 C1219.7,122.8 1222.4,124.4 1224.6,124.8 C1226.7,125.3 1228.6,124.6 1231.0,123.6 C1233.3,122.5 1236.3,119.8 1238.6,118.4 C1241.0,117.1 1243.4,115.1 1245.0,115.2 C1246.6,115.3 1248.4,117.4 1248.2,119.1 C1248.0,120.8 1245.6,123.6 1243.7,125.5 C1241.9,127.4 1238.8,128.9 1237.3,130.6 C1235.9,132.3 1234.9,133.2 1234.8,135.7 C1234.7,138.3 1235.9,142.5 1236.7,145.9 C1237.6,149.4 1238.5,153.2 1239.9,156.2 C1241.3,159.2 1242.9,162.3 1245.0,163.9 C1247.2,165.5 1250.5,165.3 1252.7,165.8 C1254.9,166.2 1257.4,165.7 1258.5,166.4 C1259.5,167.2 1259.6,169.1 1259.1,170.3 C1258.6,171.4 1257.2,172.7 1255.3,173.4 C1253.3,174.2 1249.7,173.8 1247.6,174.7 C1245.5,175.7 1244.2,176.8 1242.5,179.2 C1240.8,181.7 1238.9,186.3 1237.3,189.4 C1235.8,192.5 1233.2,195.4 1232.9,197.8 C1232.6,200.1 1234.4,202.2 1235.4,203.5 C1236.5,204.8 1238.8,204.6 1239.3,205.4 C1239.7,206.3 1239.4,208.0 1238.0,208.6 C1236.6,209.3 1233.2,208.6 1231.0,209.3 C1228.7,209.9 1225.8,210.9 1224.6,212.5 C1223.3,214.1 1222.9,216.5 1223.3,218.9 C1223.7,221.2 1225.9,224.2 1227.1,226.5 C1228.3,228.9 1230.1,231.2 1230.3,232.9 C1230.5,234.7 1229.5,236.8 1228.4,237.0 C1227.3,237.2 1225.6,235.7 1223.9,234.2 C1222.2,232.7 1220.2,229.5 1218.2,227.8 C1216.1,226.1 1214.3,224.4 1211.8,224.0 C1209.2,223.6 1205.4,224.2 1202.8,225.3 C1200.3,226.3 1197.6,228.7 1196.4,230.4 C1195.2,232.1 1195.3,233.8 1195.8,235.5 C1196.2,237.2 1199.0,239.3 1199.0,240.6 C1199.0,241.9 1197.1,243.3 1195.8,243.4 C1194.5,243.5 1192.9,242.8 1191.3,241.2 C1189.7,239.7 1188.1,236.0 1186.2,234.2 C1184.3,232.4 1181.5,230.6 1179.8,230.4 C1178.1,230.2 1176.9,231.9 1175.9,232.9 C1175.0,234.0 1175.1,236.8 1174.0,236.8 C1173.0,236.8 1171.4,234.4 1169.5,232.9 C1167.7,231.4 1165.7,229.1 1163.2,227.8 C1160.6,226.5 1157.2,226.0 1154.2,225.3 C1151.2,224.5 1147.8,222.8 1145.2,223.3 C1142.7,223.9 1141.0,226.4 1138.8,228.5 C1136.7,230.5 1134.2,234.4 1132.4,235.5 C1130.7,236.6 1129.4,235.5 1128.6,234.9 C1127.9,234.2 1127.3,233.3 1128.0,231.7 C1128.6,230.1 1131.1,227.8 1132.4,225.3 C1133.8,222.7 1136.1,218.9 1136.3,216.3 C1136.5,213.7 1135.0,211.5 1133.7,209.9 C1132.4,208.3 1130.5,207.5 1128.6,206.7 C1126.7,206.0 1124.6,205.4 1122.2,205.4 C1119.9,205.4 1116.1,207.1 1114.5,206.7 C1112.9,206.3 1112.4,204.3 1112.6,202.9 C1112.8,201.5 1114.8,200.4 1115.8,198.4 C1116.9,196.4 1118.6,193.5 1119.0,190.7 C1119.4,187.9 1118.7,185.0 1118.4,181.8 C1118.1,178.6 1117.2,175.4 1117.1,171.5 C1117.0,167.7 1117.2,163.2 1117.7,158.7 C1118.3,154.3 1119.8,148.3 1120.3,144.7 C1120.8,141.0 1121.3,139.1 1120.9,137.0 C1120.6,134.9 1119.0,133.6 1118.4,131.9 C1117.7,130.2 1116.7,127.9 1117.1,126.8 C1117.5,125.6 1119.7,124.4 1120.9,124.8 C1122.2,125.3 1123.5,128.1 1124.8,129.3 C1126.1,130.5 1127.1,131.9 1128.6,131.9 C1130.1,131.9 1132.1,130.6 1133.7,129.3 C1135.3,128.0 1137.1,126.1 1138.2,124.2 C1139.3,122.3 1140.0,120.1 1140.1,117.8 C1140.3,115.5 1139.1,112.3 1139.1,110.1 C1139.1,108.0 1139.5,106.4 1140.1,105.0 Z" fill="#DDF3DC" stroke="#6BB269" stroke-width="1.8" stroke-linejoin="round"/>
<path d="M1160.6,149.8 C1160.8,146.6 1161.2,142.7 1163.2,139.5 C1165.1,136.4 1168.5,132.8 1172.1,130.6 C1175.7,128.4 1180.6,126.8 1184.9,126.1 C1189.2,125.5 1193.2,125.6 1197.7,126.8 C1202.2,127.9 1207.5,130.2 1211.8,133.2 C1216.0,136.1 1220.4,140.2 1223.3,144.7 C1226.2,149.1 1228.2,154.9 1229.0,160.0 C1229.9,165.1 1229.6,170.5 1228.4,175.4 C1227.2,180.3 1224.8,185.9 1222.0,189.4 C1219.2,193.0 1215.2,195.4 1211.8,196.5 C1208.4,197.5 1204.7,197.0 1201.5,195.8 C1198.3,194.7 1195.1,192.0 1192.6,189.4 C1190.0,186.9 1188.7,183.3 1186.2,180.5 C1183.6,177.7 1180.4,175.4 1177.2,172.8 C1174.0,170.3 1169.5,167.5 1167.0,165.1 C1164.4,162.8 1162.9,161.3 1161.9,158.7 C1160.8,156.2 1160.4,153.0 1160.6,149.8 Z" fill="#BFE0B8" stroke="#ACD6A6" stroke-width="1"/>
<use href="#bigarrow" transform="translate(646.2,0)"/>
<use href="#killg" transform="translate(644.9,1.4)"/>
<ellipse cx="1614.2" cy="148.1" rx="70.6" ry="73" fill="#F7CACC" stroke="#CB8287" stroke-width="1.5"/>
<ellipse cx="1610.3" cy="138.4" rx="43" ry="42.4" fill="#EBAEAF" stroke="#DA9C9E" stroke-width="1"/>
<text font-size="22" text-anchor="middle" x="1603.1" y="143.6" >B</text>
<use href="#tcell" transform="translate(1814.8,147.8)"/>
<line x1="1964.0" y1="100.5" x2="1942.8" y2="74.7" stroke="#C5761E" stroke-width="6.800000000000001" stroke-linecap="round"/>
<line x1="1964.0" y1="100.5" x2="1942.8" y2="74.7" stroke="#E58A27" stroke-width="5.6000000000000005" stroke-linecap="round"/>
<line x1="2070.0" y1="184.6" x2="2105.8" y2="193.6" stroke="#C5761E" stroke-width="6.800000000000001" stroke-linecap="round"/>
<line x1="2070.0" y1="184.6" x2="2105.8" y2="193.6" stroke="#E58A27" stroke-width="5.6000000000000005" stroke-linecap="round"/>
<ellipse cx="2012.2" cy="146.5" rx="70.5" ry="72.8" fill="#F7CACC" stroke="#CB8287" stroke-width="1.5"/>
<ellipse cx="2008.2" cy="136.4" rx="42.9" ry="42.4" fill="#EBAEAF" stroke="#DA9C9E" stroke-width="1"/>
<text font-size="22" text-anchor="middle" x="2003.0" y="145.2" >B</text>
<text font-size="22" text-anchor="middle" x="369.7" y="182.0" >T</text>
<text font-size="22" text-anchor="middle" x="1011.5" y="182.3" >T</text>
<text font-size="22" text-anchor="middle" x="1817.6" y="165.6" >T</text>
<!-- panels_bf -->
<text font-size="36" font-weight="bold" textLength="24.6" lengthAdjust="spacingAndGlyphs" x="0.0" y="403.0" stroke="#000" stroke-width="1.1" stroke-linejoin="round">b</text>
<circle cx="194.0" cy="387.2" r="6" fill="#A6A6A6" stroke="none" stroke-width="0" />
<circle cx="194.0" cy="413.7" r="6" fill="#E8692B" stroke="none" stroke-width="0" />
<text font-size="19.6" textLength="101.0" lengthAdjust="spacingAndGlyphs" x="217.5" y="393.8" >Unmodified</text>
<text font-size="19.6" textLength="114.8" lengthAdjust="spacingAndGlyphs" x="217.5" y="420.8" >DC-08 mRNA</text>
<text font-size="22.5" text-anchor="middle" textLength="64.3" lengthAdjust="spacingAndGlyphs" transform="translate(19.8,536.5) rotate(-90)" >Count</text>
<text font-size="22.5" text-anchor="middle" textLength="116.9" lengthAdjust="spacingAndGlyphs" x="311.0" y="699.0" >BCMA-APC</text>
<path d="M81.6,638.9 L81.6,627.3 L83.5,633.4 L85.3,638.9 L130.1,637.7 L138.7,636.1 L146.0,634.9 L150.9,631.0 L155.8,626.1 L160.7,622.6 L164.4,616.2 L168.1,606.4 L169.9,596.6 L171.1,588.1 L172.4,586.6 L174.0,589.9 L175.7,589.3 L177.4,588.3 L178.6,590.5 L179.7,596.6 L181.6,606.4 L184.0,618.7 L186.5,629.7 L189.5,635.9 L192.6,638.9 Z" fill="#D9D9D9" stroke="#9A9A9A" stroke-width="1" stroke-linejoin="round"/>
<path d="M81.6,638.9 L81.6,637.1 L84.7,638.9 L131.3,638.6 L143.6,637.7 L155.8,635.9 L163.2,631.0 L166.8,623.6 L170.5,613.8 L174.2,608.9 L177.9,600.3 L179.7,593.6 L181.8,591.5 L184.0,593.6 L186.5,597.6 L188.9,597.9 L191.4,597.2 L193.8,593.0 L196.3,589.9 L198.7,583.1 L201.8,577.0 L203.6,570.9 L204.9,562.3 L206.7,552.5 L208.5,550.0 L210.0,543.9 L211.2,540.0 L212.2,542.1 L214.0,553.7 L216.5,568.4 L219.0,585.6 L222.0,605.2 L225.1,621.2 L228.1,631.0 L231.8,636.5 L235.5,638.9 L286.7,638.9 Z" fill="#E8692B" stroke="none" stroke-width="0" fill-opacity="0.42"/>
<path d="M81.6,637.1 L84.7,638.9 L131.3,638.6 L143.6,637.7 L155.8,635.9 L163.2,631.0 L166.8,623.6 L170.5,613.8 L174.2,608.9 L177.9,600.3 L179.7,593.6 L181.8,591.5 L184.0,593.6 L186.5,597.6 L188.9,597.9 L191.4,597.2 L193.8,593.0 L196.3,589.9 L198.7,583.1 L201.8,577.0 L203.6,570.9 L204.9,562.3 L206.7,552.5 L208.5,550.0 L210.0,543.9 L211.2,540.0 L212.2,542.1 L214.0,553.7 L216.5,568.4 L219.0,585.6 L222.0,605.2 L225.1,621.2 L228.1,631.0 L231.8,636.5 L235.5,638.9 L286.7,638.9" fill="none" stroke="#E8692B" stroke-width="1.3" stroke-linejoin="round"/>
<rect x="81.6" y="434.2" width="205.2" height="204.8" fill="none" stroke="#222" stroke-width="1.6" />
<text font-size="23.5" text-anchor="middle" textLength="85.8" lengthAdjust="spacingAndGlyphs" x="178.2" y="454.8" >Healthy</text>
<line x1="75.6" y1="639.1" x2="81.6" y2="639.1" stroke="#1a1a1a" stroke-width="1.5" />
<text font-size="19.6" text-anchor="end" x="65.6" y="647.2" >0</text>
<line x1="75.6" y1="593.4" x2="81.6" y2="593.4" stroke="#1a1a1a" stroke-width="1.5" />
<text font-size="19.6" text-anchor="end" textLength="23.0" lengthAdjust="spacingAndGlyphs" x="65.6" y="601.5" >30</text>
<line x1="75.6" y1="547.7" x2="81.6" y2="547.7" stroke="#1a1a1a" stroke-width="1.5" />
<text font-size="19.6" text-anchor="end" textLength="23.0" lengthAdjust="spacingAndGlyphs" x="65.6" y="555.8" >60</text>
<line x1="75.6" y1="502.0" x2="81.6" y2="502.0" stroke="#1a1a1a" stroke-width="1.5" />
<text font-size="19.6" text-anchor="end" textLength="23.0" lengthAdjust="spacingAndGlyphs" x="65.6" y="510.1" >90</text>
<line x1="75.6" y1="456.3" x2="81.6" y2="456.3" stroke="#1a1a1a" stroke-width="1.5" />
<text font-size="19.6" text-anchor="end" textLength="34.4" lengthAdjust="spacingAndGlyphs" x="65.6" y="464.4" >120</text>
<line x1="82.2" y1="639.0" x2="82.2" y2="645.5" stroke="#1a1a1a" stroke-width="1.5" />
<text font-size="19.6" text-anchor="middle" x="83.2" y="666.6" >10<tspan font-size="12.2" dy="-8.2">0</tspan></text>
<line x1="123.0" y1="639.0" x2="123.0" y2="645.5" stroke="#1a1a1a" stroke-width="1.5" />
<text font-size="19.6" text-anchor="middle" x="124.0" y="666.6" >10<tspan font-size="12.2" dy="-8.2">1</tspan></text>
<line x1="163.8" y1="639.0" x2="163.8" y2="645.5" stroke="#1a1a1a" stroke-width="1.5" />
<text font-size="19.6" text-anchor="middle" x="164.8" y="666.6" >10<tspan font-size="12.2" dy="-8.2">2</tspan></text>
<line x1="204.7" y1="639.0" x2="204.7" y2="645.5" stroke="#1a1a1a" stroke-width="1.5" />
<text font-size="19.6" text-anchor="middle" x="205.7" y="666.6" >10<tspan font-size="12.2" dy="-8.2">3</tspan></text>
<line x1="245.5" y1="639.0" x2="245.5" y2="645.5" stroke="#1a1a1a" stroke-width="1.5" />
<text font-size="19.6" text-anchor="middle" x="246.5" y="666.6" >10<tspan font-size="12.2" dy="-8.2">4</tspan></text>
<line x1="286.3" y1="639.0" x2="286.3" y2="645.5" stroke="#1a1a1a" stroke-width="1.5" />
<text font-size="19.6" text-anchor="middle" x="287.3" y="666.6" >10<tspan font-size="12.2" dy="-8.2">5</tspan></text>
<path d="M347.3,638.9 L347.3,628.5 L349.1,633.4 L351.6,638.6 L364.4,637.7 L376.7,636.5 L384.0,633.4 L388.9,631.0 L392.6,623.6 L396.3,613.8 L400.6,604.0 L402.4,593.0 L404.3,577.0 L406.7,561.1 L409.2,542.7 L411.0,525.5 L412.5,504.7 L413.7,493.7 L415.9,489.4 L417.4,480.2 L419.3,464.8 L420.8,474.0 L422.7,493.7 L424.5,520.6 L426.3,547.6 L428.2,578.2 L430.0,602.8 L431.8,621.2 L434.3,633.4 L436.8,637.7 L439.8,638.9 Z" fill="#D9D9D9" stroke="#9A9A9A" stroke-width="1" stroke-linejoin="round"/>
<path d="M347.3,638.9 L347.3,637.7 L349.7,638.9 L392.6,637.7 L401.2,637.1 L404.9,635.2 L408.6,631.0 L413.5,624.8 L418.4,618.7 L422.0,617.5 L425.7,621.2 L429.4,622.4 L433.1,623.6 L436.1,626.1 L438.6,627.0 L440.4,623.6 L442.3,619.9 L444.1,618.5 L445.9,620.2 L447.8,619.9 L449.6,616.2 L451.5,606.4 L453.3,595.4 L456.4,583.1 L459.4,569.7 L461.3,552.5 L463.1,535.3 L465.6,520.6 L467.4,505.9 L468.6,496.1 L469.6,493.0 L471.1,497.3 L472.9,508.4 L476.0,525.5 L478.4,547.6 L480.9,572.1 L483.3,595.4 L485.8,616.2 L488.2,628.5 L491.9,635.9 L495.6,638.9 L552.6,638.9 Z" fill="#E8692B" stroke="none" stroke-width="0" fill-opacity="0.42"/>
<path d="M347.3,637.7 L349.7,638.9 L392.6,637.7 L401.2,637.1 L404.9,635.2 L408.6,631.0 L413.5,624.8 L418.4,618.7 L422.0,617.5 L425.7,621.2 L429.4,622.4 L433.1,623.6 L436.1,626.1 L438.6,627.0 L440.4,623.6 L442.3,619.9 L444.1,618.5 L445.9,620.2 L447.8,619.9 L449.6,616.2 L451.5,606.4 L453.3,595.4 L456.4,583.1 L459.4,569.7 L461.3,552.5 L463.1,535.3 L465.6,520.6 L467.4,505.9 L468.6,496.1 L469.6,493.0 L471.1,497.3 L472.9,508.4 L476.0,525.5 L478.4,547.6 L480.9,572.1 L483.3,595.4 L485.8,616.2 L488.2,628.5 L491.9,635.9 L495.6,638.9 L552.6,638.9" fill="none" stroke="#E8692B" stroke-width="1.3" stroke-linejoin="round"/>
<rect x="347.4" y="434.2" width="205.2" height="204.8" fill="none" stroke="#222" stroke-width="1.6" />
<text font-size="23.5" text-anchor="middle" textLength="37.5" lengthAdjust="spacingAndGlyphs" x="446.0" y="454.8" >MG</text>
<line x1="341.4" y1="639.1" x2="347.4" y2="639.1" stroke="#1a1a1a" stroke-width="1.5" />
<text font-size="19.6" text-anchor="end" x="331.4" y="647.2" >0</text>
<line x1="341.4" y1="593.4" x2="347.4" y2="593.4" stroke="#1a1a1a" stroke-width="1.5" />
<text font-size="19.6" text-anchor="end" textLength="23.0" lengthAdjust="spacingAndGlyphs" x="331.4" y="601.5" >30</text>
<line x1="341.4" y1="547.7" x2="347.4" y2="547.7" stroke="#1a1a1a" stroke-width="1.5" />
<text font-size="19.6" text-anchor="end" textLength="23.0" lengthAdjust="spacingAndGlyphs" x="331.4" y="555.8" >60</text>
<line x1="341.4" y1="502.0" x2="347.4" y2="502.0" stroke="#1a1a1a" stroke-width="1.5" />
<text font-size="19.6" text-anchor="end" textLength="23.0" lengthAdjust="spacingAndGlyphs" x="331.4" y="510.1" >90</text>
<line x1="341.4" y1="456.3" x2="347.4" y2="456.3" stroke="#1a1a1a" stroke-width="1.5" />
<text font-size="19.6" text-anchor="end" textLength="34.4" lengthAdjust="spacingAndGlyphs" x="331.4" y="464.4" >120</text>
<line x1="348.0" y1="639.0" x2="348.0" y2="645.5" stroke="#1a1a1a" stroke-width="1.5" />
<text font-size="19.6" text-anchor="middle" x="349.0" y="666.6" >10<tspan font-size="12.2" dy="-8.2">0</tspan></text>
<line x1="388.8" y1="639.0" x2="388.8" y2="645.5" stroke="#1a1a1a" stroke-width="1.5" />
<text font-size="19.6" text-anchor="middle" x="389.8" y="666.6" >10<tspan font-size="12.2" dy="-8.2">1</tspan></text>
<line x1="429.6" y1="639.0" x2="429.6" y2="645.5" stroke="#1a1a1a" stroke-width="1.5" />
<text font-size="19.6" text-anchor="middle" x="430.6" y="666.6" >10<tspan font-size="12.2" dy="-8.2">2</tspan></text>
<line x1="470.5" y1="639.0" x2="470.5" y2="645.5" stroke="#1a1a1a" stroke-width="1.5" />
<text font-size="19.6" text-anchor="middle" x="471.5" y="666.6" >10<tspan font-size="12.2" dy="-8.2">3</tspan></text>
<line x1="511.3" y1="639.0" x2="511.3" y2="645.5" stroke="#1a1a1a" stroke-width="1.5" />
<text font-size="19.6" text-anchor="middle" x="512.3" y="666.6" >10<tspan font-size="12.2" dy="-8.2">4</tspan></text>
<line x1="552.1" y1="639.0" x2="552.1" y2="645.5" stroke="#1a1a1a" stroke-width="1.5" />
<text font-size="19.6" text-anchor="middle" x="553.1" y="666.6" >10<tspan font-size="12.2" dy="-8.2">5</tspan></text>
<text font-size="36" font-weight="bold" textLength="22.4" lengthAdjust="spacingAndGlyphs" x="583.0" y="403.0" stroke="#000" stroke-width="1.1" stroke-linejoin="round">c</text>
<text font-size="22.5" text-anchor="middle" textLength="209.5" lengthAdjust="spacingAndGlyphs" transform="translate(601.6,528.7) rotate(-90)" >CAR expression (%)</text>
<rect x="779.6" y="426.5" width="35.2" height="224.5" fill="#F5B08F" stroke="#E8692B" stroke-width="1.3" />
<line x1="670.3" y1="405.7" x2="670.3" y2="651.0" stroke="#1a1a1a" stroke-width="1.5" />
<line x1="660.7" y1="651.0" x2="833.4" y2="651.0" stroke="#333" stroke-width="1.5" />
<line x1="660.7" y1="406.4" x2="670.3" y2="406.4" stroke="#1a1a1a" stroke-width="1.5" />
<text font-size="19.6" text-anchor="end" textLength="34.4" lengthAdjust="spacingAndGlyphs" x="651.0" y="414.5" >100</text>
<line x1="660.7" y1="468.1" x2="670.3" y2="468.1" stroke="#1a1a1a" stroke-width="1.5" />
<text font-size="19.6" text-anchor="end" textLength="23.0" lengthAdjust="spacingAndGlyphs" x="651.0" y="476.2" >75</text>
<line x1="660.7" y1="528.5" x2="670.3" y2="528.5" stroke="#1a1a1a" stroke-width="1.5" />
<text font-size="19.6" text-anchor="end" textLength="23.0" lengthAdjust="spacingAndGlyphs" x="651.0" y="536.6" >50</text>
<line x1="660.7" y1="589.6" x2="670.3" y2="589.6" stroke="#1a1a1a" stroke-width="1.5" />
<text font-size="19.6" text-anchor="end" textLength="23.0" lengthAdjust="spacingAndGlyphs" x="651.0" y="597.7" >25</text>
<line x1="660.7" y1="651.0" x2="670.3" y2="651.0" stroke="#1a1a1a" stroke-width="1.5" />
<text font-size="19.6" text-anchor="end" x="651.0" y="659.1" >0</text>
<line x1="706.2" y1="651.0" x2="706.2" y2="660.0" stroke="#1a1a1a" stroke-width="1.5" />
<line x1="796.7" y1="651.0" x2="796.7" y2="660.0" stroke="#1a1a1a" stroke-width="1.5" />
<circle cx="696.6" cy="651.0" r="3.1" fill="#8C8C8C" stroke="none" stroke-width="0" />
<circle cx="706.2" cy="651.0" r="3.1" fill="#8C8C8C" stroke="none" stroke-width="0" />
<circle cx="716.1" cy="651.0" r="3.1" fill="#8C8C8C" stroke="none" stroke-width="0" />
<line x1="797.0" y1="418.5" x2="797.0" y2="433.2" stroke="#E8692B" stroke-width="1.3" />
<line x1="788.4" y1="418.5" x2="805.6" y2="418.5" stroke="#E8692B" stroke-width="1.3" />
<line x1="788.4" y1="433.2" x2="805.6" y2="433.2" stroke="#E8692B" stroke-width="1.3" />
<circle cx="797.0" cy="417.9" r="3.2" fill="#E8692B" stroke="none" stroke-width="0" />
<circle cx="801.8" cy="427.8" r="3.2" fill="#E8692B" stroke="none" stroke-width="0" />
<circle cx="791.9" cy="432.0" r="3.2" fill="#E8692B" stroke="none" stroke-width="0" />
<text font-size="19.6" text-anchor="end" textLength="101.0" lengthAdjust="spacingAndGlyphs" transform="translate(717.5,679.5) rotate(-45)" >Unmodified</text>
<text font-size="19.6" text-anchor="end" textLength="114.8" lengthAdjust="spacingAndGlyphs" transform="translate(808.5,677.0) rotate(-45)" >DC-08 mRNA</text>
<text font-size="36" font-weight="bold" textLength="24.6" lengthAdjust="spacingAndGlyphs" x="865.0" y="403.0" stroke="#000" stroke-width="1.1" stroke-linejoin="round">d</text>
<text font-size="22.5" text-anchor="middle" textLength="229.8" lengthAdjust="spacingAndGlyphs" transform="translate(884.0,527.9) rotate(-90)" >CAR expression (MFI)</text>
<rect x="992.4" y="643.7" width="35.5" height="7.3" fill="#BDBDBD" stroke="#8C8C8C" stroke-width="1.3" />
<rect x="1083.5" y="432.6" width="35.5" height="218.4" fill="#F5B08F" stroke="#E8692B" stroke-width="1.3" />
<line x1="973.8" y1="404.4" x2="973.8" y2="651.0" stroke="#1a1a1a" stroke-width="1.5" />
<line x1="964.2" y1="651.0" x2="1137.9" y2="651.0" stroke="#333" stroke-width="1.5" />
<line x1="964.2" y1="405.1" x2="973.8" y2="405.1" stroke="#1a1a1a" stroke-width="1.5" />
<text font-size="19.6" text-anchor="end" textLength="50.5" lengthAdjust="spacingAndGlyphs" x="954.6" y="413.2" >2,000</text>
<line x1="964.2" y1="466.5" x2="973.8" y2="466.5" stroke="#1a1a1a" stroke-width="1.5" />
<text font-size="19.6" text-anchor="end" textLength="50.5" lengthAdjust="spacingAndGlyphs" x="954.6" y="474.6" >1,500</text>
<line x1="964.2" y1="527.9" x2="973.8" y2="527.9" stroke="#1a1a1a" stroke-width="1.5" />
<text font-size="19.6" text-anchor="end" textLength="50.5" lengthAdjust="spacingAndGlyphs" x="954.6" y="536.0" >1,000</text>
<line x1="964.2" y1="589.3" x2="973.8" y2="589.3" stroke="#1a1a1a" stroke-width="1.5" />
<text font-size="19.6" text-anchor="end" textLength="34.4" lengthAdjust="spacingAndGlyphs" x="954.6" y="597.4" >500</text>
<line x1="964.2" y1="651.0" x2="973.8" y2="651.0" stroke="#1a1a1a" stroke-width="1.5" />
<text font-size="19.6" text-anchor="end" x="954.6" y="659.1" >0</text>
<line x1="1009.6" y1="651.0" x2="1009.6" y2="660.0" stroke="#1a1a1a" stroke-width="1.5" />
<line x1="1100.8" y1="651.0" x2="1100.8" y2="660.0" stroke="#1a1a1a" stroke-width="1.5" />
<circle cx="1000.0" cy="643.3" r="3.1" fill="#8C8C8C" stroke="none" stroke-width="0" />
<circle cx="1010.0" cy="643.3" r="3.1" fill="#8C8C8C" stroke="none" stroke-width="0" />
<circle cx="1019.5" cy="643.3" r="3.1" fill="#8C8C8C" stroke="none" stroke-width="0" />
<line x1="1101.1" y1="414.4" x2="1101.1" y2="449.9" stroke="#E8692B" stroke-width="1.3" />
<line x1="1092.1" y1="414.4" x2="1110.1" y2="414.4" stroke="#E8692B" stroke-width="1.3" />
<line x1="1092.1" y1="449.9" x2="1110.1" y2="449.9" stroke="#E8692B" stroke-width="1.3" />
<circle cx="1101.1" cy="412.1" r="3.2" fill="#E8692B" stroke="none" stroke-width="0" />
<circle cx="1101.1" cy="437.4" r="3.2" fill="#E8692B" stroke="none" stroke-width="0" />
<circle cx="1101.1" cy="446.3" r="3.2" fill="#E8692B" stroke="none" stroke-width="0" />
<text font-size="19.6" text-anchor="end" textLength="101.0" lengthAdjust="spacingAndGlyphs" transform="translate(1021.5,679.5) rotate(-45)" >Unmodified</text>
<text font-size="19.6" text-anchor="end" textLength="114.8" lengthAdjust="spacingAndGlyphs" transform="translate(1112.5,677.0) rotate(-45)" >DC-08 mRNA</text>
<text font-size="36" font-weight="bold" textLength="22.4" lengthAdjust="spacingAndGlyphs" x="1170.0" y="403.0" stroke="#000" stroke-width="1.1" stroke-linejoin="round">e</text>
<text font-size="22.5" text-anchor="middle" textLength="187.6" lengthAdjust="spacingAndGlyphs" transform="translate(1188.8,530.8) rotate(-90)" >mRNA copies/cell</text>
<line x1="1300.5" y1="410.0" x2="1300.5" y2="651.3" stroke="#1a1a1a" stroke-width="1.5" />
<line x1="1291.5" y1="651.3" x2="1661.6" y2="651.3" stroke="#333" stroke-width="1.5" />
<line x1="1291.5" y1="410.7" x2="1300.5" y2="410.7" stroke="#1a1a1a" stroke-width="1.5" />
<text font-size="19.6" text-anchor="end" textLength="73.5" lengthAdjust="spacingAndGlyphs" x="1281.5" y="418.8" >100,000</text>
<line x1="1291.5" y1="445.1" x2="1300.5" y2="445.1" stroke="#1a1a1a" stroke-width="1.5" />
<text font-size="19.6" text-anchor="end" textLength="62.0" lengthAdjust="spacingAndGlyphs" x="1281.5" y="453.2" >10,000</text>
<line x1="1291.5" y1="479.4" x2="1300.5" y2="479.4" stroke="#1a1a1a" stroke-width="1.5" />
<text font-size="19.6" text-anchor="end" textLength="50.5" lengthAdjust="spacingAndGlyphs" x="1281.5" y="487.5" >1,000</text>
<line x1="1291.5" y1="513.8" x2="1300.5" y2="513.8" stroke="#1a1a1a" stroke-width="1.5" />
<text font-size="19.6" text-anchor="end" textLength="34.4" lengthAdjust="spacingAndGlyphs" x="1281.5" y="521.9" >100</text>
<line x1="1291.5" y1="548.2" x2="1300.5" y2="548.2" stroke="#1a1a1a" stroke-width="1.5" />
<text font-size="19.6" text-anchor="end" textLength="23.0" lengthAdjust="spacingAndGlyphs" x="1281.5" y="556.3" >10</text>
<line x1="1291.5" y1="582.5" x2="1300.5" y2="582.5" stroke="#1a1a1a" stroke-width="1.5" />
<text font-size="19.6" text-anchor="end" x="1281.5" y="590.6" >1</text>
<line x1="1291.5" y1="616.9" x2="1300.5" y2="616.9" stroke="#1a1a1a" stroke-width="1.5" />
<text font-size="19.6" text-anchor="end" textLength="27.6" lengthAdjust="spacingAndGlyphs" x="1281.5" y="625.0" >0.1</text>
<line x1="1291.5" y1="651.3" x2="1300.5" y2="651.3" stroke="#1a1a1a" stroke-width="1.5" />
<text font-size="19.6" text-anchor="end" textLength="39.0" lengthAdjust="spacingAndGlyphs" x="1281.5" y="659.4" >0.01</text>
<line x1="1300.5" y1="651.3" x2="1300.5" y2="659.6" stroke="#1a1a1a" stroke-width="1.5" />
<text font-size="19.6" text-anchor="middle" x="1301.0" y="683.0" >0</text>
<line x1="1352.0" y1="651.3" x2="1352.0" y2="659.6" stroke="#1a1a1a" stroke-width="1.5" />
<text font-size="19.6" text-anchor="middle" x="1352.5" y="683.0" >2</text>
<line x1="1403.5" y1="651.3" x2="1403.5" y2="659.6" stroke="#1a1a1a" stroke-width="1.5" />
<text font-size="19.6" text-anchor="middle" x="1404.0" y="683.0" >4</text>
<line x1="1455.0" y1="651.3" x2="1455.0" y2="659.6" stroke="#1a1a1a" stroke-width="1.5" />
<text font-size="19.6" text-anchor="middle" x="1455.5" y="683.0" >6</text>
<line x1="1506.5" y1="651.3" x2="1506.5" y2="659.6" stroke="#1a1a1a" stroke-width="1.5" />
<text font-size="19.6" text-anchor="middle" x="1507.0" y="683.0" >8</text>
<line x1="1558.0" y1="651.3" x2="1558.0" y2="659.6" stroke="#1a1a1a" stroke-width="1.5" />
<text font-size="19.6" text-anchor="middle" textLength="23.0" lengthAdjust="spacingAndGlyphs" x="1558.5" y="683.0" >10</text>
<line x1="1609.5" y1="651.3" x2="1609.5" y2="659.6" stroke="#1a1a1a" stroke-width="1.5" />
<text font-size="19.6" text-anchor="middle" textLength="23.0" lengthAdjust="spacingAndGlyphs" x="1610.0" y="683.0" >12</text>
<line x1="1661.0" y1="651.3" x2="1661.0" y2="659.6" stroke="#1a1a1a" stroke-width="1.5" />
<text font-size="19.6" text-anchor="middle" textLength="23.0" lengthAdjust="spacingAndGlyphs" x="1661.5" y="683.0" >14</text>
<text font-size="22.5" text-anchor="middle" textLength="54.6" lengthAdjust="spacingAndGlyphs" x="1481.5" y="715.6" >Days</text>
<path d="M1300.5,441.8 L1304.8,471.7 L1326.1,568.7 L1352.0,580.2 L1377.6,589.1 L1403.5,596.9 L1480.7,615.6 L1557.8,637.2 L1635.0,643.8" fill="none" stroke="#E8692B" stroke-width="1.5" />
<circle cx="1300.5" cy="441.8" r="4.1" fill="#E8692B" stroke="none" stroke-width="0" />
<circle cx="1304.8" cy="471.7" r="4.1" fill="#E8692B" stroke="none" stroke-width="0" />
<circle cx="1326.1" cy="568.7" r="4.1" fill="#E8692B" stroke="none" stroke-width="0" />
<circle cx="1352.0" cy="580.2" r="4.1" fill="#E8692B" stroke="none" stroke-width="0" />
<circle cx="1377.6" cy="589.1" r="4.1" fill="#E8692B" stroke="none" stroke-width="0" />
<circle cx="1403.5" cy="596.9" r="4.1" fill="#E8692B" stroke="none" stroke-width="0" />
<circle cx="1480.7" cy="615.6" r="4.1" fill="#E8692B" stroke="none" stroke-width="0" />
<circle cx="1557.8" cy="637.2" r="4.1" fill="#E8692B" stroke="none" stroke-width="0" />
<circle cx="1635.0" cy="643.8" r="4.1" fill="#E8692B" stroke="none" stroke-width="0" />
<line x1="1469.2" y1="413.3" x2="1494.8" y2="413.3" stroke="#E8692B" stroke-width="1.5" />
<circle cx="1481.8" cy="413.3" r="4.1" fill="#E8692B" stroke="none" stroke-width="0" />
<text font-size="19.6" textLength="114.8" lengthAdjust="spacingAndGlyphs" x="1509.2" y="420.0" >DC-08 mRNA</text>
<text font-size="36" font-weight="bold" textLength="13.4" lengthAdjust="spacingAndGlyphs" x="1694.0" y="403.0" stroke="#000" stroke-width="1.1" stroke-linejoin="round">f</text>
<text font-size="22.5" text-anchor="middle" textLength="229.8" lengthAdjust="spacingAndGlyphs" transform="translate(1714.6,530.9) rotate(-90)" >CAR expression (MFI)</text>
<line x1="1804.6" y1="409.5" x2="1804.6" y2="650.5" stroke="#1a1a1a" stroke-width="1.5" />
<line x1="1795.9" y1="650.5" x2="2165.0" y2="650.5" stroke="#1a1a1a" stroke-width="1.5" />
<line x1="1795.9" y1="417.6" x2="1804.6" y2="417.6" stroke="#1a1a1a" stroke-width="1.5" />
<text font-size="19.6" text-anchor="end" textLength="50.5" lengthAdjust="spacingAndGlyphs" x="1785.2" y="425.7" >3,000</text>
<line x1="1795.9" y1="495.4" x2="1804.6" y2="495.4" stroke="#1a1a1a" stroke-width="1.5" />
<text font-size="19.6" text-anchor="end" textLength="50.5" lengthAdjust="spacingAndGlyphs" x="1785.2" y="503.5" >2,000</text>
<line x1="1795.9" y1="572.9" x2="1804.6" y2="572.9" stroke="#1a1a1a" stroke-width="1.5" />
<text font-size="19.6" text-anchor="end" textLength="50.5" lengthAdjust="spacingAndGlyphs" x="1785.2" y="581.0" >1,000</text>
<line x1="1795.9" y1="650.5" x2="1804.6" y2="650.5" stroke="#1a1a1a" stroke-width="1.5" />
<text font-size="19.6" text-anchor="end" x="1785.2" y="658.6" >0</text>
<line x1="1804.6" y1="650.5" x2="1804.6" y2="659.4" stroke="#1a1a1a" stroke-width="1.5" />
<text font-size="19.6" text-anchor="middle" x="1805.1" y="683.6" >0</text>
<line x1="1892.5" y1="650.5" x2="1892.5" y2="659.4" stroke="#1a1a1a" stroke-width="1.5" />
<text font-size="19.6" text-anchor="middle" x="1893.0" y="683.6" >2</text>
<line x1="1980.4" y1="650.5" x2="1980.4" y2="659.4" stroke="#1a1a1a" stroke-width="1.5" />
<text font-size="19.6" text-anchor="middle" x="1980.9" y="683.6" >4</text>
<line x1="2068.3" y1="650.5" x2="2068.3" y2="659.4" stroke="#1a1a1a" stroke-width="1.5" />
<text font-size="19.6" text-anchor="middle" x="2068.8" y="683.6" >6</text>
<line x1="2156.2" y1="650.5" x2="2156.2" y2="659.4" stroke="#1a1a1a" stroke-width="1.5" />
<text font-size="19.6" text-anchor="middle" x="2156.7" y="683.6" >8</text>
<text font-size="22.5" text-anchor="middle" textLength="54.6" lengthAdjust="spacingAndGlyphs" x="1985.7" y="716.2" >Days</text>
<path d="M1848.4,645.1 L1980.1,645.1 L2068.1,645.1 L2156.1,645.1" fill="none" stroke="#8C8C8C" stroke-width="1.4" />
<circle cx="1848.4" cy="645.1" r="3.9" fill="#8C8C8C" stroke="none" stroke-width="0" />
<circle cx="1980.1" cy="645.1" r="3.9" fill="#8C8C8C" stroke="none" stroke-width="0" />
<circle cx="2068.1" cy="645.1" r="3.9" fill="#8C8C8C" stroke="none" stroke-width="0" />
<circle cx="2156.1" cy="645.1" r="3.9" fill="#8C8C8C" stroke="none" stroke-width="0" />
<line x1="1848.4" y1="414.9" x2="1848.4" y2="493.5" stroke="#E8692B" stroke-width="1.2" />
<line x1="1844.8" y1="414.9" x2="1852.0" y2="414.9" stroke="#E8692B" stroke-width="1.2" />
<line x1="1844.8" y1="493.5" x2="1852.0" y2="493.5" stroke="#E8692B" stroke-width="1.2" />
<line x1="1980.1" y1="622.0" x2="1980.1" y2="630.0" stroke="#E8692B" stroke-width="1.2" />
<line x1="1976.5" y1="622.0" x2="1983.7" y2="622.0" stroke="#E8692B" stroke-width="1.2" />
<line x1="1976.5" y1="630.0" x2="1983.7" y2="630.0" stroke="#E8692B" stroke-width="1.2" />
<path d="M1848.4,454.2 L1980.1,626.0 L2068.1,639.4 L2156.1,643.2" fill="none" stroke="#E8692B" stroke-width="1.5" />
<circle cx="1848.4" cy="454.2" r="4.1" fill="#E8692B" stroke="none" stroke-width="0" />
<circle cx="1980.1" cy="626.0" r="4.1" fill="#E8692B" stroke="none" stroke-width="0" />
<circle cx="2068.1" cy="639.4" r="4.1" fill="#E8692B" stroke="none" stroke-width="0" />
<circle cx="2156.1" cy="643.2" r="4.1" fill="#E8692B" stroke="none" stroke-width="0" />
<line x1="1980.1" y1="413.3" x2="2005.4" y2="413.3" stroke="#8C8C8C" stroke-width="1.4" />
<circle cx="1992.7" cy="413.3" r="3.9" fill="#8C8C8C" stroke="none" stroke-width="0" />
<text font-size="19.6" textLength="101.0" lengthAdjust="spacingAndGlyphs" x="2020.7" y="420.0" >Unmodified</text>
<line x1="1980.1" y1="445.3" x2="2005.4" y2="445.3" stroke="#E8692B" stroke-width="1.5" />
<circle cx="1992.7" cy="445.3" r="4.1" fill="#E8692B" stroke="none" stroke-width="0" />
<text font-size="19.6" textLength="114.8" lengthAdjust="spacingAndGlyphs" x="2020.7" y="452.2" >DC-08 mRNA</text>
<!-- panels_gi -->
<text font-size="36" font-weight="bold" textLength="24.6" lengthAdjust="spacingAndGlyphs" x="0.0" y="832.5" stroke="#000" stroke-width="1.1" stroke-linejoin="round">g</text>
<line x1="93.6" y1="825.1" x2="126.7" y2="825.1" stroke="#8C8C8C" stroke-width="1.4" />
<circle cx="110.0" cy="825.1" r="4.9" fill="#8C8C8C" stroke="none" stroke-width="0" />
<text font-size="19.6" textLength="101.0" lengthAdjust="spacingAndGlyphs" x="139.6" y="831.4" >Unmodified</text>
<line x1="259.9" y1="825.1" x2="293.0" y2="825.1" stroke="#E8692B" stroke-width="1.5" />
<circle cx="276.3" cy="825.1" r="4.9" fill="#E8692B" stroke="none" stroke-width="0" />
<text font-size="19.6" textLength="114.8" lengthAdjust="spacingAndGlyphs" x="306.6" y="831.4" >DC-08 mRNA</text>
<text font-size="22.5" text-anchor="middle" textLength="161.9" lengthAdjust="spacingAndGlyphs" transform="translate(43.2,1016.7) rotate(-90)" >Cytotoxicity (%)</text>
<line x1="115.1" y1="859.3" x2="115.1" y2="1173.4" stroke="#1a1a1a" stroke-width="1.5" />
<line x1="102.8" y1="1173.4" x2="428.9" y2="1173.4" stroke="#1a1a1a" stroke-width="1.5" />
<line x1="102.8" y1="860.0" x2="115.1" y2="860.0" stroke="#1a1a1a" stroke-width="1.5" />
<text font-size="19.6" text-anchor="end" textLength="34.4" lengthAdjust="spacingAndGlyphs" x="93.0" y="868.1" >100</text>
<line x1="102.8" y1="964.4" x2="115.1" y2="964.4" stroke="#1a1a1a" stroke-width="1.5" />
<text font-size="19.6" text-anchor="end" textLength="23.0" lengthAdjust="spacingAndGlyphs" x="93.0" y="972.5" >50</text>
<line x1="102.8" y1="1068.9" x2="115.1" y2="1068.9" stroke="#1a1a1a" stroke-width="1.5" />
<text font-size="19.6" text-anchor="end" x="93.0" y="1077.0" >0</text>
<line x1="102.8" y1="1173.4" x2="115.1" y2="1173.4" stroke="#1a1a1a" stroke-width="1.5" />
<text font-size="19.6" text-anchor="end" textLength="32.6" lengthAdjust="spacingAndGlyphs" x="93.0" y="1181.5" >−50</text>
<line x1="177.6" y1="1173.4" x2="177.6" y2="1185.8" stroke="#1a1a1a" stroke-width="1.5" />
<text font-size="19.6" text-anchor="middle" textLength="27.6" lengthAdjust="spacingAndGlyphs" x="177.6" y="1207.5" >1:2</text>
<line x1="271.4" y1="1173.4" x2="271.4" y2="1185.8" stroke="#1a1a1a" stroke-width="1.5" />
<text font-size="19.6" text-anchor="middle" textLength="27.6" lengthAdjust="spacingAndGlyphs" x="271.4" y="1207.5" >1:8</text>
<line x1="365.3" y1="1173.4" x2="365.3" y2="1185.8" stroke="#1a1a1a" stroke-width="1.5" />
<text font-size="19.6" text-anchor="middle" textLength="39.0" lengthAdjust="spacingAndGlyphs" x="365.3" y="1207.5" >1:32</text>
<text font-size="22.5" text-anchor="middle" textLength="130.6" lengthAdjust="spacingAndGlyphs" x="271.4" y="1242.0" >E:T cell ratio</text>
<line x1="115.1" y1="1068.9" x2="428.9" y2="1068.9" stroke="#333" stroke-width="2" stroke-dasharray="14.5 7"/>
<line x1="177.6" y1="1062.9" x2="177.6" y2="1123.9" stroke="#8C8C8C" stroke-width="1.2" />
<line x1="173.0" y1="1062.9" x2="182.2" y2="1062.9" stroke="#8C8C8C" stroke-width="1.2" />
<line x1="173.0" y1="1123.9" x2="182.2" y2="1123.9" stroke="#8C8C8C" stroke-width="1.2" />
<line x1="271.4" y1="1083.9" x2="271.4" y2="1100.3" stroke="#8C8C8C" stroke-width="1.2" />
<line x1="266.8" y1="1083.9" x2="276.0" y2="1083.9" stroke="#8C8C8C" stroke-width="1.2" />
<line x1="266.8" y1="1100.3" x2="276.0" y2="1100.3" stroke="#8C8C8C" stroke-width="1.2" />
<line x1="365.3" y1="1069.2" x2="365.3" y2="1091.4" stroke="#8C8C8C" stroke-width="1.2" />
<line x1="360.7" y1="1069.2" x2="369.9" y2="1069.2" stroke="#8C8C8C" stroke-width="1.2" />
<line x1="360.7" y1="1091.4" x2="369.9" y2="1091.4" stroke="#8C8C8C" stroke-width="1.2" />
<path d="M177.6,1093.4 L271.4,1092.0 L365.3,1080.2" fill="none" stroke="#8C8C8C" stroke-width="1.4" />
<circle cx="177.6" cy="1093.4" r="5.2" fill="#8C8C8C" stroke="none" stroke-width="0" />
<circle cx="271.4" cy="1092.0" r="5.2" fill="#8C8C8C" stroke="none" stroke-width="0" />
<circle cx="365.3" cy="1080.2" r="5.2" fill="#8C8C8C" stroke="none" stroke-width="0" />
<line x1="177.6" y1="880.1" x2="177.6" y2="895.4" stroke="#E8692B" stroke-width="1.2" />
<line x1="173.0" y1="880.1" x2="182.2" y2="880.1" stroke="#E8692B" stroke-width="1.2" />
<line x1="173.0" y1="895.4" x2="182.2" y2="895.4" stroke="#E8692B" stroke-width="1.2" />
<line x1="365.3" y1="986.0" x2="365.3" y2="1003.3" stroke="#E8692B" stroke-width="1.2" />
<line x1="360.7" y1="986.0" x2="369.9" y2="986.0" stroke="#E8692B" stroke-width="1.2" />
<line x1="360.7" y1="1003.3" x2="369.9" y2="1003.3" stroke="#E8692B" stroke-width="1.2" />
<path d="M177.6,887.9 L271.4,941.4 L365.3,995.0" fill="none" stroke="#E8692B" stroke-width="1.5" />
<circle cx="177.6" cy="887.9" r="5.2" fill="#E8692B" stroke="none" stroke-width="0" />
<circle cx="271.4" cy="941.4" r="5.2" fill="#E8692B" stroke="none" stroke-width="0" />
<circle cx="365.3" cy="995.0" r="5.2" fill="#E8692B" stroke="none" stroke-width="0" />
<text font-size="36" font-weight="bold" textLength="24.6" lengthAdjust="spacingAndGlyphs" x="550.0" y="832.2" stroke="#000" stroke-width="1.1" stroke-linejoin="round">h</text>
<text font-size="22.5" text-anchor="middle" textLength="151.1" lengthAdjust="spacingAndGlyphs" x="959.3" y="831.8" >Healthy donor</text>
<text font-size="22.5" text-anchor="middle" textLength="203.9" lengthAdjust="spacingAndGlyphs" x="772.1" y="873.4" >Control CAR mRNA</text>
<text font-size="22.5" text-anchor="middle" textLength="140.2" lengthAdjust="spacingAndGlyphs" x="1140.7" y="873.4" >DC-08 mRNA</text>
<line x1="560.4" y1="1127.2" x2="560.4" y2="891.7" stroke="#4A5B76" stroke-width="2" />
<path d="M560.4,883.7 L565.7,896.5 L560.4,893.3 L555.1,896.5 Z" fill="#4A5B76"/>
<text font-size="22.5" textLength="46.2" lengthAdjust="spacingAndGlyphs" transform="translate(569.6,1179.0) rotate(-90)" >CD8</text>
<text font-size="22.5" textLength="60.2" lengthAdjust="spacingAndGlyphs" x="627.5" y="1238.2" >CD27</text>
<line x1="690.1" y1="1229.7" x2="1284.2" y2="1229.7" stroke="#4A5B76" stroke-width="2" />
<path d="M1292.2,1229.7 L1279.4,1224.4 L1282.6,1229.7 L1279.4,1235.0 Z" fill="#4A5B76"/>
<path d="M924.0,1033.8L920.5,1033.8L917.5,1033.3L914.5,1032.0L911.5,1030.1L908.5,1027.3L905.7,1024.0L903.2,1020.0L901.3,1016.0L899.6,1011.0L899.1,1008.5L898.7,1005.5L898.9,1001.0L900.7,993.0L900.9,990.0L900.7,987.0L899.1,979.0L898.7,974.0L898.8,971.0L899.1,968.5L900.4,963.5L901.4,961.0L902.7,958.5L904.3,956.0L905.9,954.0L909.5,950.4L911.5,948.9L914.0,947.3L918.5,945.1L921.0,944.3L924.0,943.6 M924.0,1112.4L919.0,1111.8L914.0,1110.4L910.0,1108.8L900.2,1104.0L895.5,1102.0L879.5,1096.8L873.0,1094.4L868.5,1092.3L864.5,1090.1L861.0,1087.7L858.0,1085.3L855.7,1083.0L853.6,1080.5L851.9,1078.0L850.2,1075.0L848.8,1071.5L847.8,1068.5L847.1,1065.0L846.8,1061.5L846.7,1058.0L847.0,1055.0L847.4,1052.0L848.2,1049.0L849.3,1046.0L850.4,1043.5L854.9,1036.0L855.4,1034.5L855.1,1033.5L854.0,1032.7L852.0,1032.1L838.5,1030.4L832.0,1029.3L823.5,1027.4L816.0,1025.3L809.5,1023.1L803.5,1020.6L798.0,1017.8L793.0,1014.6L788.4,1011.0L784.4,1007.0L781.0,1002.5L778.7,998.0L777.3,993.5L776.9,989.0L777.1,986.5L777.5,984.5L778.9,980.5L780.9,977.0L783.8,973.5L787.2,970.5L791.0,967.9L795.5,965.6L800.5,963.6L805.5,962.1L811.5,960.9L817.5,960.2L823.5,960.0L830.0,960.2L836.0,960.9L841.5,961.8L848.0,963.4L853.5,965.2L859.5,967.7L864.5,970.3L868.5,972.8L872.5,975.7L876.0,978.8L879.9,983.0L886.4,991.0L888.3,994.0L889.2,996.5L889.4,998.0L889.3,1000.0L888.7,1002.0L887.8,1004.0L881.1,1016.0L874.0,1025.5L873.5,1027.0L873.8,1028.0L875.0,1028.8L877.2,1029.5L889.0,1031.4L895.0,1032.7L900.0,1034.1L904.5,1035.7L909.0,1037.7L913.5,1040.3L917.0,1042.7L924.0,1048.1 M819.2,964.5L826.5,964.3L834.0,964.8L842.0,966.2L849.0,968.2L855.5,970.7L862.0,974.1L867.5,978.0L871.9,982.0L881.9,993.0L882.8,994.5L883.5,996.0L883.9,998.5L883.4,1001.0L882.0,1004.0L875.7,1014.0L873.7,1016.5L871.9,1018.5L869.0,1021.0L865.5,1023.2L862.0,1024.8L858.0,1026.0L853.5,1026.7L849.0,1027.0L843.5,1026.8L838.0,1026.2L830.5,1024.9L823.5,1023.2L817.0,1021.3L810.5,1018.9L805.0,1016.3L800.0,1013.5L795.5,1010.3L791.8,1007.0L789.2,1004.0L786.8,1000.5L785.1,997.0L784.1,993.5L783.8,990.0L784.1,986.5L785.2,983.0L786.7,980.0L789.0,977.0L792.0,974.1L795.5,971.6L799.5,969.4L803.5,967.7L808.5,966.2L813.5,965.2Z M924.0,1029.1L922.5,1029.3L920.5,1029.2L917.0,1028.4L913.5,1026.5L911.5,1025.0L910.0,1023.5L907.2,1020.0L904.8,1015.5L903.4,1011.0L902.9,1006.5L903.1,1004.0L903.6,1001.5L904.4,999.0L906.3,994.0L906.8,991.5L906.5,988.5L904.2,980.5L903.3,975.5L903.2,972.5L903.4,970.0L903.9,967.5L904.8,964.5L906.1,961.5L907.6,959.0L909.5,956.5L912.0,954.0L914.5,952.1L917.5,950.3L921.0,948.8L924.0,948.0 M924.0,1108.0L919.5,1107.4L914.5,1105.9L910.5,1104.2L902.2,1100.0L897.5,1098.0L893.1,1096.5L880.5,1092.8L875.0,1090.8L869.5,1088.2L865.5,1085.8L862.0,1083.1L859.4,1080.5L856.9,1077.5L854.8,1074.0L853.2,1070.5L852.2,1067.0L851.4,1062.5L851.2,1058.5L851.6,1053.5L852.8,1049.0L854.8,1045.0L857.5,1041.5L859.0,1040.1L861.0,1038.6L864.5,1036.8L869.0,1035.4L874.0,1034.8L880.5,1034.8L887.5,1035.4L894.0,1036.6L899.5,1038.3L905.0,1040.7L910.5,1043.9L915.5,1047.3L924.0,1053.9 M820.5,968.0L827.0,967.8L834.0,968.3L840.5,969.4L847.0,971.1L853.0,973.5L858.5,976.3L863.0,979.4L867.1,983.0L877.2,993.5L878.8,996.0L879.3,998.0L879.2,999.0L878.9,1000.5L877.7,1003.0L871.6,1012.0L868.7,1015.5L866.0,1017.8L863.0,1019.8L859.5,1021.4L856.0,1022.5L852.0,1023.2L847.5,1023.5L843.0,1023.4L838.0,1022.9L832.0,1021.9L825.5,1020.3L819.0,1018.3L813.5,1016.2L808.5,1013.9L804.2,1011.5L800.5,1008.9L797.0,1005.9L794.3,1003.0L792.3,1000.0L790.8,997.0L789.8,994.0L789.4,990.5L789.7,987.5L790.6,984.5L792.0,981.7L794.0,979.0L796.5,976.6L799.5,974.4L803.0,972.5L807.0,970.8L811.0,969.6L815.5,968.6Z M924.0,1024.9L922.5,1025.3L921.0,1025.4L918.0,1024.9L915.0,1023.5L912.4,1021.5L910.0,1018.8L908.1,1015.5L906.9,1012.0L906.4,1008.0L906.6,1005.0L907.6,1002.0L909.0,999.4L912.5,995.0L913.0,994.0L913.1,993.0L913.1,992.0L912.6,990.5L908.9,982.5L908.0,980.0L907.4,977.5L907.1,975.0L907.0,972.0L907.4,969.0L908.0,966.5L909.0,964.0L910.4,961.5L912.0,959.3L914.0,957.1L916.0,955.5L918.5,953.9L921.0,952.7L924.0,951.7 M924.0,1104.2L920.0,1103.7L916.0,1102.5L912.5,1101.0L904.8,1097.0L900.5,1095.1L895.8,1093.5L884.0,1090.3L879.0,1088.7L873.0,1086.2L868.5,1083.7L865.5,1081.5L862.9,1079.0L860.3,1076.0L858.5,1073.0L856.9,1069.5L855.8,1066.0L855.2,1062.5L854.9,1058.5L855.4,1054.0L856.0,1051.5L856.7,1049.5L858.7,1046.0L861.5,1043.1L865.0,1040.8L869.0,1039.3L873.5,1038.4L879.0,1038.1L885.0,1038.4L890.5,1039.2L896.0,1040.6L901.0,1042.6L905.5,1044.9L910.0,1047.8L924.0,1058.7 M819.8,971.0L825.5,970.6L831.5,970.8L837.5,971.6L843.0,972.8L848.5,974.7L853.5,976.9L858.5,979.9L862.4,983.0L865.0,985.5L873.1,994.0L874.4,996.0L875.1,998.0L874.9,1000.0L874.0,1002.0L868.9,1009.5L866.6,1012.5L864.0,1015.0L861.5,1016.8L858.5,1018.4L855.5,1019.4L852.0,1020.2L848.5,1020.7L844.5,1020.8L840.0,1020.5L834.5,1019.7L828.5,1018.3L823.0,1016.8L817.5,1014.8L813.0,1012.9L809.0,1010.8L805.4,1008.5L802.0,1005.8L799.2,1003.0L797.3,1000.5L795.8,998.0L794.6,995.0L794.1,992.0L794.1,989.5L794.7,986.5L795.8,984.0L797.4,981.5L799.5,979.2L802.0,977.2L805.0,975.4L808.5,973.8L812.0,972.6L816.0,971.6Z M924.0,992.2L921.5,991.6L919.0,990.2L916.5,988.1L914.3,985.5L912.5,982.5L911.2,979.5L910.3,976.0L910.1,973.0L910.4,970.0L911.1,967.0L912.2,964.5L914.0,961.7L916.0,959.5L918.5,957.4L921.0,956.0L924.0,954.8 M924.0,1020.4L922.0,1021.5L921.0,1021.7L919.5,1021.7L917.0,1021.0L914.6,1019.5L912.6,1017.5L911.0,1014.9L909.9,1012.0L909.5,1009.0L909.9,1006.0L911.1,1003.5L913.0,1001.7L914.0,1001.1L915.5,1000.6L917.0,1000.6L918.0,1000.8L920.0,1001.7L922.0,1003.5L924.0,1006.2 M924.0,1100.9L920.5,1100.5L916.5,1099.3L913.0,1097.7L905.0,1093.5L900.0,1091.6L896.0,1090.4L885.0,1087.7L879.0,1085.9L874.0,1083.7L870.0,1081.3L867.0,1079.0L864.5,1076.5L862.2,1073.5L860.6,1070.5L859.2,1067.0L858.4,1063.5L858.1,1060.0L858.2,1056.5L859.0,1052.5L860.6,1049.0L861.6,1047.5L863.0,1046.0L866.0,1043.8L869.5,1042.3L874.0,1041.2L879.5,1040.8L885.0,1041.1L889.5,1041.7L894.0,1042.8L898.0,1044.2L902.5,1046.4L906.0,1048.5L909.5,1051.0L919.8,1059.5L924.0,1062.8 M823.1,973.0L828.0,972.8L833.5,973.2L839.0,974.1L844.0,975.4L849.0,977.3L853.5,979.5L857.5,982.1L861.0,985.1L869.2,994.0L870.6,996.0L871.3,998.0L871.2,1000.0L870.1,1002.5L866.2,1008.5L863.7,1011.5L861.5,1013.5L859.0,1015.2L856.0,1016.7L853.0,1017.6L849.5,1018.3L846.0,1018.6L842.5,1018.5L838.5,1018.2L833.5,1017.4L828.5,1016.2L823.5,1014.7L818.5,1012.8L814.0,1010.8L810.5,1008.8L807.1,1006.5L804.1,1004.0L801.8,1001.5L800.0,999.0L798.8,996.5L798.0,994.0L797.7,991.5L797.9,989.0L798.6,986.5L799.8,984.0L801.3,982.0L803.5,979.9L806.0,978.1L809.0,976.5L812.0,975.3L815.5,974.2L819.5,973.4Z M924.0,989.0L921.5,988.0L919.5,986.7L917.6,985.0L915.9,983.0L914.5,980.5L913.5,978.0L912.9,975.5L912.7,973.0L912.9,970.5L913.5,968.0L914.6,965.5L915.8,963.5L917.5,961.5L919.5,959.8L921.5,958.5L924.0,957.4 M915.5,1005.5L916.5,1005.3L917.5,1005.4L919.5,1006.2L921.0,1007.6L922.4,1010.0L923.1,1012.5L923.0,1014.5L922.7,1015.5L922.2,1016.5L921.0,1017.5L920.0,1017.8L919.0,1017.9L917.0,1017.2L915.0,1015.6L913.6,1013.5L912.9,1011.0L913.0,1008.5L913.4,1007.5L914.0,1006.5Z M924.0,1098.1L920.5,1097.6L917.0,1096.5L914.0,1095.2L906.5,1091.2L902.0,1089.5L897.5,1088.2L886.0,1085.8L880.5,1084.1L876.0,1082.3L872.0,1080.0L869.0,1077.7L866.5,1075.3L864.4,1072.5L862.8,1069.5L861.6,1066.5L860.9,1063.0L860.6,1059.5L860.8,1056.0L861.8,1052.5L863.5,1049.5L865.9,1047.0L869.0,1045.1L873.0,1043.8L877.5,1043.1L882.5,1043.0L888.0,1043.6L892.0,1044.4L896.0,1045.7L899.5,1047.2L903.0,1049.2L908.5,1053.1L918.5,1061.9L924.0,1066.2 M822.9,975.0L827.5,974.7L832.5,975.0L837.5,975.7L842.0,976.7L846.5,978.3L850.5,980.1L854.5,982.5L857.8,985.0L861.3,988.5L865.6,993.5L867.2,996.0L867.9,998.0L867.8,1000.0L866.9,1002.5L864.5,1006.5L862.3,1009.5L860.3,1011.5L858.0,1013.2L855.5,1014.5L853.0,1015.5L850.0,1016.2L846.5,1016.6L843.0,1016.7L839.5,1016.5L835.0,1015.8L830.5,1014.9L825.5,1013.4L821.0,1011.8L817.0,1010.0L813.5,1008.2L810.5,1006.3L807.6,1004.0L805.5,1002.0L803.5,999.5L802.4,997.5L801.4,995.0L800.9,992.5L800.9,990.5L801.3,988.0L802.1,986.0L803.4,984.0L805.2,982.0L807.5,980.1L810.0,978.6L813.0,977.3L816.0,976.3L819.5,975.5Z M924.0,986.4L922.2,985.5L920.5,984.4L919.0,983.0L917.4,981.0L916.3,979.0L915.6,977.0L915.1,975.0L915.0,973.0L915.2,971.0L915.6,969.0L916.4,967.0L917.5,965.0L918.7,963.5L920.3,962.0L922.0,960.8L924.0,959.8 M924.0,1095.4L921.0,1095.1L917.5,1094.0L908.0,1089.2L904.0,1087.6L899.9,1086.5L889.0,1084.5L883.5,1083.2L878.0,1081.2L873.5,1078.7L871.0,1076.9L868.5,1074.5L866.5,1072.0L864.8,1069.0L863.7,1066.0L863.0,1062.5L862.8,1059.0L863.2,1056.0L864.2,1053.0L866.0,1050.2L868.4,1048.0L871.5,1046.4L875.5,1045.3L880.0,1044.9L885.0,1045.0L890.0,1045.8L893.5,1046.8L897.0,1048.1L900.5,1049.9L903.5,1051.8L908.5,1055.8L918.0,1064.7L924.0,1069.3 M826.2,976.5L830.5,976.5L835.0,976.9L839.5,977.8L844.0,979.1L848.0,980.8L851.5,982.6L854.9,985.0L857.7,987.5L860.4,990.5L863.1,994.0L864.5,996.5L864.9,998.5L864.6,1001.0L863.6,1003.5L861.8,1006.5L859.5,1009.3L857.6,1011.0L855.5,1012.3L853.0,1013.5L850.5,1014.3L847.5,1014.8L844.5,1015.0L841.0,1015.0L837.5,1014.6L833.5,1013.9L829.0,1012.8L825.0,1011.5L821.0,1010.0L817.5,1008.3L814.3,1006.5L811.4,1004.5L809.0,1002.4L807.2,1000.5L805.8,998.5L804.7,996.5L803.9,994.0L803.6,991.5L803.9,989.5L804.5,987.5L805.6,985.5L807.2,983.5L808.9,982.0L811.0,980.6L813.5,979.3L816.5,978.2L819.5,977.4L823.0,976.8Z M924.0,984.0L921.2,982.0L919.1,979.5L917.7,976.5L917.4,975.0L917.2,973.0L917.4,971.0L917.7,969.5L919.2,966.5L921.3,964.0L924.0,962.1 M924.0,1092.7L921.5,1092.5L918.5,1091.7L915.9,1090.5L909.5,1087.1L905.5,1085.6L901.5,1084.6L890.5,1083.0L885.0,1081.8L879.5,1080.0L875.0,1077.7L872.5,1075.9L870.0,1073.5L868.0,1071.0L866.4,1068.0L865.4,1065.0L864.9,1062.0L864.9,1059.0L865.4,1056.0L866.7,1053.0L868.5,1050.7L871.0,1048.9L874.0,1047.6L878.0,1046.8L882.5,1046.6L887.0,1046.9L891.5,1047.9L894.5,1048.8L897.5,1050.2L900.5,1051.9L903.0,1053.6L907.6,1057.5L917.0,1067.0L920.0,1069.5L924.0,1072.4 M822.7,978.5L826.5,978.1L831.0,978.1L835.0,978.5L839.0,979.2L843.0,980.4L846.5,981.8L850.0,983.6L853.0,985.7L855.7,988.0L858.4,991.0L860.9,994.5L862.0,997.0L862.3,999.0L861.9,1001.5L860.8,1004.0L859.3,1006.5L857.5,1008.5L856.0,1009.7L854.0,1011.0L851.5,1012.1L849.0,1012.9L846.5,1013.3L843.5,1013.5L840.5,1013.4L837.0,1013.1L833.5,1012.4L829.5,1011.4L826.0,1010.3L822.5,1008.9L819.0,1007.3L816.0,1005.5L813.5,1003.8L809.9,1000.5L808.4,998.5L807.3,996.5L806.6,994.5L806.3,992.5L806.4,990.5L806.9,988.5L807.9,986.5L809.0,985.0L810.6,983.5L812.5,982.1L814.5,981.0L817.0,979.9L819.5,979.2Z M924.0,981.4L922.0,979.7L920.5,977.5L919.7,975.5L919.4,973.0L919.8,970.5L920.5,968.5L922.0,966.4L924.0,964.6 M924.0,1089.5L921.5,1089.5L919.0,1088.8L911.0,1084.8L907.5,1083.5L903.5,1082.7L892.5,1081.6L887.0,1080.7L881.5,1079.2L879.0,1078.1L876.5,1076.8L873.9,1075.0L871.5,1072.7L869.5,1070.1L868.1,1067.5L867.1,1064.5L866.7,1061.5L866.9,1058.5L867.5,1056.0L868.8,1053.5L870.7,1051.5L873.5,1049.8L876.5,1048.8L880.5,1048.2L884.5,1048.2L889.0,1048.8L893.0,1049.9L896.0,1051.1L898.5,1052.5L901.0,1054.1L903.4,1056.0L907.6,1060.0L913.5,1067.0L916.0,1069.7L919.0,1072.2L924.0,1075.9 M924.0,978.4L923.0,977.1L922.4,976.0L922.0,974.5L921.8,973.0L922.0,971.5L922.4,970.0L923.0,968.9L924.0,967.6 M823.4,980.0L827.0,979.6L831.0,979.5L835.0,979.9L838.5,980.6L842.0,981.6L845.5,982.9L848.5,984.5L851.5,986.5L854.4,989.0L856.5,991.4L858.3,994.0L859.4,996.5L859.9,998.5L859.7,1001.0L858.7,1003.5L857.5,1005.5L856.3,1007.0L854.5,1008.6L852.5,1009.8L850.5,1010.7L848.5,1011.3L846.0,1011.8L843.5,1012.0L840.5,1012.0L837.5,1011.7L834.0,1011.1L827.5,1009.3L824.1,1008.0L821.0,1006.6L815.9,1003.5L814.0,1001.9L812.1,1000.0L810.9,998.5L809.8,996.5L809.2,995.0L808.8,993.0L808.8,991.0L809.1,989.5L809.8,988.0L811.0,986.2L812.5,984.6L814.0,983.5L816.0,982.3L818.0,981.4L820.5,980.6Z M878.8,1050.0L881.5,1049.7L884.5,1049.7L887.5,1050.0L890.0,1050.5L893.0,1051.5L895.5,1052.5L898.0,1053.9L900.5,1055.6L903.8,1058.5L906.5,1061.5L909.1,1065.0L913.5,1071.5L915.5,1074.1L917.5,1076.0L921.2,1079.0L922.5,1080.3L923.2,1081.5L923.5,1082.5L923.3,1083.5L923.0,1084.0L922.0,1084.5L920.0,1084.5L918.5,1084.0L913.5,1081.6L909.5,1080.6L906.0,1080.4L894.0,1080.1L890.5,1079.8L887.0,1079.2L883.5,1078.3L880.5,1077.2L878.0,1075.9L875.5,1074.3L873.5,1072.6L872.1,1071.0L871.0,1069.4L869.9,1067.5L869.2,1065.5L868.7,1063.5L868.5,1061.5L868.6,1059.5L869.1,1057.5L869.7,1056.0L870.6,1054.5L872.0,1053.0L873.3,1052.0L875.0,1051.1Z M828.0,981.0L831.5,981.0L835.0,981.3L838.5,982.0L841.5,982.9L844.5,984.0L847.4,985.5L850.0,987.2L852.1,989.0L854.0,991.0L855.8,993.5L857.1,996.0L857.6,998.0L857.6,1000.0L857.1,1002.0L856.2,1004.0L854.6,1006.0L853.0,1007.4L851.5,1008.4L849.5,1009.3L847.5,1010.0L843.0,1010.6L837.5,1010.4L831.5,1009.1L825.0,1006.9L822.1,1005.5L819.5,1004.0L815.6,1001.0L813.0,998.0L812.1,996.5L811.4,994.5L811.1,992.5L811.3,991.0L811.7,989.5L812.4,988.0L813.6,986.5L815.0,985.2L816.8,984.0L818.5,983.1L823.0,981.7Z M879.5,1051.5L882.0,1051.2L884.5,1051.1L887.5,1051.4L890.0,1052.0L892.5,1052.8L895.0,1053.9L897.5,1055.3L899.8,1057.0L902.0,1059.0L904.2,1061.5L906.3,1064.5L907.9,1067.5L908.9,1070.0L909.5,1072.5L909.4,1074.0L908.7,1075.5L907.5,1076.4L906.2,1077.0L902.5,1077.9L897.0,1078.5L891.5,1078.4L887.0,1077.7L882.6,1076.5L879.0,1074.8L876.0,1072.8L873.3,1070.0L871.5,1066.9L870.5,1063.5L870.3,1061.5L870.5,1059.7L871.4,1057.0L872.3,1055.5L873.2,1054.5L874.5,1053.4L876.0,1052.6Z M827.5,982.5L830.5,982.4L833.5,982.5L836.5,983.0L839.5,983.7L842.5,984.7L845.0,985.8L847.5,987.3L849.8,989.0L851.9,991.0L853.4,993.0L854.6,995.0L855.3,997.0L855.5,999.0L855.3,1001.0L854.4,1003.0L853.4,1004.5L851.0,1006.7L849.5,1007.5L847.5,1008.3L843.5,1009.1L838.5,1009.1L833.0,1008.2L827.5,1006.4L822.4,1004.0L820.1,1002.5L818.1,1001.0L816.6,999.5L815.4,998.0L814.5,996.5L813.9,995.0L813.6,993.5L813.6,992.0L814.3,989.5L815.0,988.3L816.1,987.0L817.3,986.0L819.0,984.9L820.9,984.0L823.0,983.3Z M880.1,1053.0L882.5,1052.7L885.0,1052.6L887.5,1052.9L890.0,1053.4L892.5,1054.3L894.5,1055.2L896.6,1056.5L898.6,1058.0L900.7,1060.0L902.3,1062.0L903.6,1064.0L904.9,1066.5L905.5,1068.5L905.7,1070.5L905.4,1072.0L904.6,1073.5L902.6,1075.0L899.5,1076.1L895.5,1076.8L891.0,1076.8L887.0,1076.2L883.0,1075.1L879.6,1073.5L877.0,1071.7L874.5,1069.0L873.1,1066.5L872.3,1063.5L872.3,1060.5L873.0,1058.0L874.0,1056.5L874.9,1055.5L877.2,1054.0Z M827.5,984.0L830.0,983.8L833.0,983.9L836.0,984.3L838.5,984.8L841.0,985.6L843.5,986.6L845.9,988.0L848.0,989.5L849.7,991.0L851.4,993.0L852.5,994.9L853.1,996.5L853.4,998.5L853.3,1000.0L852.7,1002.0L851.7,1003.5L849.5,1005.5L846.4,1007.0L842.5,1007.8L838.5,1007.7L834.0,1007.0L829.0,1005.5L824.5,1003.5L820.7,1001.0L818.2,998.5L816.6,996.0L816.1,994.5L815.9,993.0L816.1,991.5L816.4,990.5L817.0,989.4L818.0,988.1L820.5,986.2L823.5,984.9Z M881.0,1054.5L883.0,1054.2L885.0,1054.1L887.5,1054.4L889.5,1054.8L891.6,1055.5L893.7,1056.5L895.5,1057.6L897.3,1059.0L898.8,1060.5L900.4,1062.5L901.6,1064.5L902.2,1066.0L902.6,1068.0L902.6,1069.5L902.2,1071.0L901.5,1072.0L899.7,1073.5L897.2,1074.5L894.0,1075.1L890.5,1075.2L887.0,1074.7L884.0,1073.9L881.0,1072.6L878.5,1070.9L876.5,1068.9L875.0,1066.5L874.4,1065.0L874.1,1063.5L874.2,1061.0L874.8,1059.0L876.2,1057.0L878.2,1055.5Z M828.1,985.5L830.5,985.3L833.0,985.3L837.5,986.0L842.0,987.5L844.0,988.6L846.2,990.0L847.9,991.5L849.2,993.0L850.2,994.5L851.0,996.5L851.3,998.0L851.2,999.5L850.8,1001.0L849.9,1002.5L848.0,1004.3L845.5,1005.5L842.0,1006.3L838.5,1006.3L834.5,1005.7L830.0,1004.4L826.0,1002.6L822.8,1000.5L820.7,998.5L819.0,996.0L818.4,993.5L818.7,991.5L819.8,989.5L820.7,988.5L822.0,987.6L825.0,986.2Z M882.3,1056.0L884.0,1055.8L886.0,1055.8L889.5,1056.4L893.0,1057.9L895.9,1060.0L897.3,1061.5L898.4,1063.0L899.2,1064.5L899.7,1066.0L899.9,1067.5L899.8,1068.5L899.2,1070.0L898.5,1071.0L897.0,1072.1L894.5,1073.0L892.0,1073.4L889.0,1073.4L886.0,1072.9L883.5,1072.1L881.4,1071.0L879.4,1069.5L877.6,1067.5L876.6,1065.5L876.1,1063.5L876.2,1061.5L876.9,1059.5L878.1,1058.0L880.0,1056.8Z M829.5,987.0L833.5,986.9L837.5,987.5L841.5,989.0L844.8,991.0L847.3,993.5L848.2,995.0L848.8,996.5L849.0,998.0L849.0,999.0L848.5,1000.5L847.9,1001.5L846.3,1003.0L844.0,1004.1L841.0,1004.7L838.0,1004.8L834.5,1004.2L831.0,1003.2L828.0,1001.9L825.0,1000.0L822.9,998.0L821.6,996.0L821.0,994.0L821.3,992.0L822.1,990.5L824.0,988.8L826.5,987.7Z M882.4,1058.0L885.0,1057.5L888.0,1057.8L891.0,1058.8L893.6,1060.5L895.5,1062.5L896.8,1065.0L897.0,1066.5L896.9,1067.5L896.6,1068.5L896.0,1069.3L894.5,1070.5L893.0,1071.1L891.0,1071.5L889.0,1071.6L886.5,1071.2L884.5,1070.6L882.5,1069.6L881.0,1068.5L879.7,1067.0L878.8,1065.5L878.4,1064.0L878.4,1062.5L878.8,1061.0L879.5,1059.9L880.5,1059.0Z M829.1,989.0L832.5,988.6L836.0,988.9L839.5,989.9L842.4,991.5L844.7,993.5L846.0,995.5L846.4,997.0L846.5,998.0L846.3,999.0L845.9,1000.0L844.5,1001.5L843.0,1002.3L841.0,1002.9L838.5,1003.1L836.0,1002.9L833.0,1002.2L830.5,1001.2L828.3,1000.0L826.3,998.5L825.0,997.0L824.1,995.0L824.0,993.5L824.5,992.0L825.5,990.8L827.0,989.8Z M884.4,1060.0L886.0,1059.8L888.0,1060.0L890.0,1060.8L891.7,1062.0L893.0,1063.5L893.6,1065.0L893.6,1066.5L893.0,1067.6L892.0,1068.5L891.0,1068.9L888.5,1069.3L887.0,1069.1L885.5,1068.6L884.2,1068.0L883.0,1067.1L882.0,1066.0L881.5,1065.0L881.2,1064.0L881.3,1063.0L881.6,1062.0L882.4,1061.0L883.1,1060.5Z M831.2,991.0L833.5,990.7L836.0,991.0L838.5,991.8L840.5,992.8L842.3,994.5L843.1,996.0L843.3,997.5L842.8,999.0L841.7,1000.0L840.6,1000.5L839.0,1000.9L837.5,1000.9L835.5,1000.7L833.5,1000.2L831.8,999.5L830.1,998.5L828.9,997.5L828.1,996.5L827.5,995.0L827.5,994.0L827.9,993.0L828.9,992.0Z" fill="none" stroke="#1a1a1a" stroke-width="1.3" stroke-linejoin="round" clip-path="url(#cp1)"/>
<line x1="921.2" y1="958.0" x2="921.2" y2="1110.0" stroke="#1a1a1a" stroke-width="2.4" />
<rect x="763.9" y="934.7" width="126.7" height="99.3" fill="none" stroke="#222" stroke-width="1.3" />
<rect x="851.7" y="1035.2" width="70.8" height="90.7" fill="none" stroke="#222" stroke-width="1.3" />
<rect x="626.3" y="883.7" width="296.0" height="295.7" fill="none" stroke="#222" stroke-width="1.5" />
<line x1="620.8" y1="1179.4" x2="626.3" y2="1179.4" stroke="#1a1a1a" stroke-width="1.4" />
<text font-size="19.6" text-anchor="end" x="614.3" y="1186.3" >10<tspan font-size="12.2" dy="-8.2">0</tspan></text>
<line x1="626.3" y1="1179.4" x2="626.3" y2="1185.4" stroke="#1a1a1a" stroke-width="1.4" />
<text font-size="19.6" text-anchor="middle" x="627.3" y="1205.8" >10<tspan font-size="12.2" dy="-8.2">0</tspan></text>
<line x1="620.8" y1="1120.3" x2="626.3" y2="1120.3" stroke="#1a1a1a" stroke-width="1.4" />
<text font-size="19.6" text-anchor="end" x="614.3" y="1127.2" >10<tspan font-size="12.2" dy="-8.2">1</tspan></text>
<line x1="685.5" y1="1179.4" x2="685.5" y2="1185.4" stroke="#1a1a1a" stroke-width="1.4" />
<text font-size="19.6" text-anchor="middle" x="686.5" y="1205.8" >10<tspan font-size="12.2" dy="-8.2">1</tspan></text>
<line x1="620.8" y1="1061.1" x2="626.3" y2="1061.1" stroke="#1a1a1a" stroke-width="1.4" />
<text font-size="19.6" text-anchor="end" x="614.3" y="1068.0" >10<tspan font-size="12.2" dy="-8.2">2</tspan></text>
<line x1="744.7" y1="1179.4" x2="744.7" y2="1185.4" stroke="#1a1a1a" stroke-width="1.4" />
<text font-size="19.6" text-anchor="middle" x="745.7" y="1205.8" >10<tspan font-size="12.2" dy="-8.2">2</tspan></text>
<line x1="620.8" y1="1002.0" x2="626.3" y2="1002.0" stroke="#1a1a1a" stroke-width="1.4" />
<text font-size="19.6" text-anchor="end" x="614.3" y="1008.9" >10<tspan font-size="12.2" dy="-8.2">3</tspan></text>
<line x1="803.9" y1="1179.4" x2="803.9" y2="1185.4" stroke="#1a1a1a" stroke-width="1.4" />
<text font-size="19.6" text-anchor="middle" x="804.9" y="1205.8" >10<tspan font-size="12.2" dy="-8.2">3</tspan></text>
<line x1="620.8" y1="942.9" x2="626.3" y2="942.9" stroke="#1a1a1a" stroke-width="1.4" />
<text font-size="19.6" text-anchor="end" x="614.3" y="949.8" >10<tspan font-size="12.2" dy="-8.2">4</tspan></text>
<line x1="863.1" y1="1179.4" x2="863.1" y2="1185.4" stroke="#1a1a1a" stroke-width="1.4" />
<text font-size="19.6" text-anchor="middle" x="864.1" y="1205.8" >10<tspan font-size="12.2" dy="-8.2">4</tspan></text>
<line x1="620.8" y1="883.8" x2="626.3" y2="883.8" stroke="#1a1a1a" stroke-width="1.4" />
<text font-size="19.6" text-anchor="end" x="614.3" y="890.6" >10<tspan font-size="12.2" dy="-8.2">5</tspan></text>
<line x1="922.3" y1="1179.4" x2="922.3" y2="1185.4" stroke="#1a1a1a" stroke-width="1.4" />
<text font-size="19.6" text-anchor="middle" x="923.3" y="1205.8" >10<tspan font-size="12.2" dy="-8.2">5</tspan></text>
<text font-size="19.5" text-anchor="middle" textLength="78.2" lengthAdjust="spacingAndGlyphs" x="716.6" y="976.8" >Effectors</text>
<text font-size="19.5" text-anchor="middle" textLength="53.5" lengthAdjust="spacingAndGlyphs" x="716.6" y="999.4" >42.3%</text>
<text font-size="19.5" text-anchor="middle" textLength="35.3" lengthAdjust="spacingAndGlyphs" x="805.6" y="1078.9" >PCs</text>
<text font-size="19.5" text-anchor="middle" textLength="53.5" lengthAdjust="spacingAndGlyphs" x="805.6" y="1101.5" >44.1%</text>
<path d="M994.0,965.2L997.5,965.1L1001.0,965.8L1003.0,966.7L1004.5,967.6L1007.5,970.1L1010.0,973.3L1011.8,977.0L1012.9,981.0L1013.3,985.5L1012.9,990.0L1011.8,994.0L1010.0,997.7L1007.5,1000.9L1004.5,1003.4L1003.0,1004.3L1001.0,1005.2L997.5,1005.9L994.0,1005.8 M1294.0,1013.6L1289.0,1014.7L1283.0,1015.6L1277.5,1016.1L1267.0,1016.6L1261.8,1017.5L1259.0,1018.4L1256.5,1019.4L1246.0,1024.7L1241.0,1026.8L1235.5,1028.8L1229.5,1030.3L1224.0,1031.2L1218.5,1031.6L1213.0,1031.7L1207.0,1031.4L1198.5,1030.3L1190.5,1028.4L1183.0,1025.7L1177.0,1022.7L1172.0,1019.3L1168.0,1015.7L1166.1,1013.5L1164.2,1011.0L1160.5,1004.7L1159.5,1003.8L1158.0,1003.0L1156.0,1002.6L1154.0,1002.5L1151.0,1002.6L1148.5,1002.9L1146.0,1003.5L1141.0,1005.8L1138.5,1006.7L1135.5,1007.2L1132.5,1007.1L1129.0,1006.3L1127.4,1005.5L1125.9,1004.5L1124.8,1003.5L1123.8,1002.0L1123.2,1000.5L1123.0,999.0L1123.2,997.5L1123.5,996.5L1124.4,995.0L1125.3,994.0L1126.5,993.0L1128.0,992.1L1129.5,991.5L1131.5,991.0L1134.0,990.7L1137.0,990.9L1139.5,991.4L1145.1,993.0L1149.0,993.5L1154.5,993.4L1156.5,993.1L1157.9,992.5L1159.0,991.5L1159.5,990.7L1162.2,983.5L1163.7,980.5L1165.3,978.0L1167.1,975.5L1169.3,973.0L1174.1,968.5L1180.0,964.3L1183.5,962.3L1187.5,960.3L1191.5,958.7L1195.5,957.3L1203.5,955.3L1210.5,954.3L1217.5,953.9L1224.0,954.1L1230.5,954.9L1235.0,955.9L1240.0,957.4L1245.0,959.4L1256.0,964.3L1259.5,965.5L1262.5,966.0L1268.0,966.2L1286.0,965.3L1290.0,965.4L1294.0,965.9 M1205.0,1084.5L1207.5,1084.1L1210.0,1084.2L1212.0,1084.6L1214.2,1085.5L1215.6,1086.5L1216.7,1088.0L1217.0,1089.5L1216.5,1091.0L1215.7,1092.0L1214.4,1093.0L1212.5,1093.8L1210.5,1094.3L1208.0,1094.5L1206.0,1094.3L1204.0,1093.8L1202.2,1093.0L1200.9,1092.0L1200.1,1091.0L1199.7,1090.0L1199.7,1088.5L1200.5,1087.0L1201.6,1086.0L1203.0,1085.2Z M994.0,974.4L996.0,974.0L998.5,974.3L1000.5,975.2L1002.2,976.5L1003.9,978.5L1004.9,980.5L1005.6,983.0L1005.8,985.5L1005.6,988.0L1004.9,990.5L1003.9,992.5L1002.2,994.5L1000.5,995.8L998.5,996.7L996.0,997.0L994.0,996.6 M1294.0,1009.0L1290.5,1009.4L1286.5,1009.5L1282.0,1009.3L1269.5,1008.0L1266.5,1008.0L1263.5,1008.3L1260.5,1009.2L1257.5,1010.6L1248.0,1016.7L1243.0,1019.5L1239.0,1021.3L1234.5,1022.9L1228.5,1024.4L1222.0,1025.4L1215.5,1025.6L1208.5,1025.3L1200.5,1024.2L1192.5,1022.3L1189.0,1021.1L1185.5,1019.6L1182.5,1018.1L1179.9,1016.5L1177.5,1014.8L1175.0,1012.6L1173.0,1010.5L1171.5,1008.5L1169.9,1006.0L1168.7,1003.5L1167.1,999.5L1166.6,997.5L1166.8,995.5L1168.0,990.0L1168.8,987.5L1169.8,985.0L1171.2,982.5L1173.0,979.9L1175.0,977.4L1177.5,974.9L1180.3,972.5L1183.5,970.2L1186.5,968.4L1190.0,966.5L1194.0,964.7L1198.0,963.2L1206.0,961.0L1213.0,959.9L1220.0,959.4L1226.5,959.7L1233.0,960.8L1237.5,962.1L1242.0,963.9L1247.0,966.4L1257.5,972.7L1260.5,974.0L1263.5,974.6L1266.5,974.7L1270.0,974.2L1281.0,971.1L1285.5,970.1L1290.0,969.7L1294.0,969.9 M1294.0,1005.8L1291.5,1006.1L1289.0,1006.0L1284.0,1005.2L1278.5,1003.3L1268.5,998.6L1266.5,998.0L1264.5,998.1L1262.5,998.8L1260.0,1000.5L1251.4,1008.5L1247.0,1012.1L1242.5,1015.0L1238.0,1017.2L1232.0,1019.3L1225.5,1020.6L1218.5,1021.1L1211.0,1020.8L1203.0,1019.7L1195.5,1017.9L1189.0,1015.4L1183.8,1012.5L1181.5,1010.7L1179.6,1009.0L1177.8,1007.0L1176.5,1005.0L1175.4,1003.0L1174.4,1000.5L1173.9,998.0L1173.7,995.5L1173.9,993.0L1174.4,990.5L1175.2,988.0L1176.4,985.5L1178.0,983.0L1179.6,981.0L1181.9,978.5L1184.2,976.5L1187.0,974.4L1189.9,972.5L1196.5,969.1L1204.0,966.3L1208.0,965.2L1212.0,964.3L1219.0,963.4L1225.5,963.4L1229.0,963.8L1232.0,964.4L1235.0,965.2L1238.0,966.2L1242.5,968.3L1246.5,970.8L1251.2,974.5L1260.0,982.4L1262.5,984.0L1264.5,984.5L1266.5,984.3L1268.5,983.4L1277.5,977.3L1280.5,975.6L1283.0,974.5L1285.5,973.6L1288.5,972.9L1291.5,972.7L1294.0,972.8 M1218.1,966.0L1222.5,965.7L1227.0,965.9L1231.5,966.6L1235.5,967.8L1239.5,969.4L1243.0,971.4L1246.5,974.0L1249.7,977.0L1252.3,980.0L1254.7,983.5L1256.4,987.0L1257.2,990.0L1257.2,992.5L1256.5,995.5L1255.2,998.5L1253.0,1002.0L1250.6,1005.0L1247.6,1008.0L1244.5,1010.6L1241.0,1012.9L1237.5,1014.6L1233.5,1016.2L1229.5,1017.2L1225.0,1018.0L1220.0,1018.3L1215.0,1018.2L1209.5,1017.6L1204.0,1016.6L1198.5,1015.2L1194.0,1013.6L1190.0,1011.8L1186.4,1009.5L1183.4,1007.0L1181.0,1004.0L1179.4,1001.0L1178.4,997.5L1178.3,994.0L1179.0,990.5L1180.5,987.0L1182.4,984.0L1185.0,981.0L1188.5,977.9L1192.6,975.0L1197.5,972.3L1203.0,969.8L1208.0,968.1L1213.0,966.8Z M1294.0,1003.9L1290.5,1004.0L1287.0,1003.5L1283.5,1002.4L1280.5,1000.8L1277.5,998.5L1275.3,996.0L1274.3,994.5L1273.7,993.0L1273.3,990.5L1273.4,989.0L1273.7,987.5L1275.1,984.5L1277.3,981.5L1280.5,978.6L1283.5,976.7L1287.0,975.3L1290.5,974.6L1294.0,974.6 M1218.7,968.0L1223.0,967.7L1227.0,967.9L1231.0,968.5L1235.0,969.6L1238.5,971.1L1242.0,973.1L1245.0,975.4L1247.6,978.0L1250.0,981.0L1251.7,984.0L1252.9,987.0L1253.5,990.5L1253.4,993.5L1252.6,996.5L1251.3,999.5L1249.4,1002.5L1247.0,1005.4L1244.5,1007.8L1241.5,1010.1L1238.5,1011.8L1235.0,1013.4L1231.5,1014.6L1228.0,1015.4L1224.0,1015.9L1219.5,1016.0L1215.0,1015.8L1210.5,1015.2L1205.5,1014.2L1200.5,1012.8L1196.5,1011.3L1192.7,1009.5L1189.6,1007.5L1186.7,1005.0L1184.7,1002.5L1183.4,1000.0L1182.6,997.0L1182.5,994.0L1183.0,991.0L1184.3,988.0L1186.2,985.0L1188.8,982.0L1192.0,979.2L1195.9,976.5L1200.2,974.0L1205.0,971.8L1209.5,970.1L1214.0,968.8Z M1294.0,1002.2L1291.0,1002.3L1288.0,1001.9L1285.0,1000.8L1282.5,999.3L1280.4,997.5L1278.5,995.0L1277.4,992.5L1277.0,990.0L1277.3,987.5L1278.4,984.5L1280.1,982.0L1282.5,979.7L1285.1,978.0L1288.0,976.8L1291.0,976.2L1294.0,976.2 M1221.2,969.5L1225.0,969.4L1229.0,969.8L1232.5,970.5L1236.0,971.8L1239.4,973.5L1242.3,975.5L1245.0,977.9L1247.2,980.5L1248.8,983.0L1250.1,986.0L1250.9,989.0L1251.0,992.0L1250.6,995.0L1249.6,998.0L1248.0,1001.0L1246.1,1003.5L1244.0,1005.7L1241.5,1007.8L1239.0,1009.5L1236.0,1011.1L1233.0,1012.3L1229.5,1013.2L1226.0,1013.8L1222.5,1014.1L1218.5,1014.0L1214.5,1013.6L1210.0,1012.8L1205.5,1011.7L1201.5,1010.4L1197.5,1008.6L1194.5,1007.0L1191.7,1005.0L1189.7,1003.0L1187.9,1000.5L1186.9,998.0L1186.4,995.5L1186.5,993.0L1187.4,990.0L1188.6,987.5L1190.4,985.0L1193.0,982.2L1196.2,979.5L1200.0,976.9L1204.5,974.4L1208.7,972.5L1213.0,971.0L1217.0,970.1Z M1294.0,1000.8L1291.0,1000.8L1288.5,1000.3L1286.0,999.4L1283.9,998.0L1281.8,996.0L1280.5,994.0L1279.8,992.0L1279.5,989.5L1279.8,987.0L1280.8,984.5L1282.2,982.5L1284.0,980.7L1286.0,979.3L1288.5,978.2L1291.0,977.7L1294.0,977.6 M1221.7,971.0L1225.0,970.9L1228.5,971.2L1232.0,971.9L1235.0,972.9L1238.0,974.4L1240.5,976.0L1243.0,978.1L1245.1,980.5L1246.8,983.0L1247.9,985.5L1248.7,988.0L1249.0,991.0L1248.8,994.0L1248.1,996.5L1246.8,999.5L1245.1,1002.0L1243.4,1004.0L1241.0,1006.2L1238.5,1008.0L1236.0,1009.3L1233.0,1010.6L1230.0,1011.5L1227.0,1012.0L1223.5,1012.4L1220.0,1012.4L1216.5,1012.1L1212.5,1011.4L1209.0,1010.5L1205.0,1009.2L1201.5,1007.7L1198.5,1006.1L1196.0,1004.4L1193.8,1002.5L1192.2,1000.5L1191.1,998.5L1190.4,996.0L1190.3,993.5L1190.8,991.0L1191.9,988.5L1193.5,986.0L1196.2,983.0L1199.0,980.5L1202.4,978.0L1206.5,975.6L1210.5,973.7L1214.0,972.5L1218.0,971.5Z M1294.0,999.4L1291.5,999.4L1289.5,999.1L1287.5,998.4L1285.2,997.0L1283.7,995.5L1282.4,993.5L1281.6,991.5L1281.4,989.5L1281.7,987.0L1282.5,985.0L1283.9,983.0L1285.4,981.5L1287.5,980.2L1289.5,979.4L1291.5,979.0L1294.0,979.0 M1220.8,972.5L1225.0,972.3L1229.5,972.7L1233.5,973.8L1237.5,975.7L1240.7,978.0L1243.6,981.0L1245.8,984.5L1246.9,988.0L1247.3,991.5L1246.8,995.0L1245.5,998.5L1243.6,1001.5L1240.7,1004.5L1237.5,1006.9L1233.5,1008.9L1229.5,1010.1L1224.5,1010.8L1219.0,1010.7L1213.0,1009.7L1207.5,1007.9L1202.4,1005.5L1200.1,1004.0L1198.2,1002.5L1196.7,1001.0L1195.6,999.5L1194.8,998.0L1194.1,996.0L1193.9,994.5L1194.0,992.5L1194.4,991.0L1195.2,989.0L1196.3,987.0L1197.8,985.0L1201.3,981.5L1205.5,978.3L1210.6,975.5L1215.5,973.6Z M1294.0,998.1L1292.0,998.1L1290.0,997.8L1288.0,997.0L1286.5,996.1L1285.0,994.6L1284.0,993.0L1283.4,991.5L1283.1,989.5L1283.3,987.5L1284.1,985.5L1285.0,984.0L1286.5,982.5L1288.0,981.5L1290.0,980.6L1292.0,980.2L1294.0,980.2 M1219.8,974.0L1223.5,973.6L1227.5,973.7L1231.5,974.5L1235.0,975.8L1238.0,977.5L1241.0,980.1L1243.3,983.0L1244.8,986.0L1245.6,989.0L1245.7,992.5L1245.1,995.5L1243.8,998.5L1242.0,1001.2L1239.5,1003.7L1236.5,1005.9L1233.0,1007.6L1228.5,1008.9L1223.5,1009.5L1218.5,1009.2L1213.0,1008.0L1207.5,1005.8L1205.1,1004.5L1203.0,1003.1L1201.1,1001.5L1199.7,1000.0L1198.7,998.5L1197.9,997.0L1197.5,995.5L1197.3,994.0L1197.4,992.5L1197.8,990.5L1198.4,989.0L1199.5,987.0L1202.2,983.5L1206.2,980.0L1210.5,977.3L1215.0,975.3Z M1294.0,996.7L1292.0,996.8L1290.5,996.5L1289.0,995.9L1287.6,995.0L1286.5,994.0L1285.5,992.5L1284.9,991.0L1284.7,989.5L1285.0,987.5L1285.5,986.1L1286.5,984.5L1287.5,983.5L1289.0,982.5L1290.5,981.9L1292.0,981.6L1294.0,981.6 M1221.4,975.0L1225.5,974.8L1229.0,975.1L1232.5,976.1L1235.5,977.4L1238.5,979.5L1241.0,982.0L1242.6,984.5L1243.8,987.5L1244.3,990.5L1244.1,993.5L1243.2,996.5L1241.6,999.5L1239.5,1002.0L1236.5,1004.4L1233.5,1006.0L1230.0,1007.3L1225.5,1008.1L1221.0,1008.0L1216.5,1007.3L1212.0,1005.9L1208.0,1004.0L1204.5,1001.4L1203.1,1000.0L1201.9,998.5L1201.1,997.0L1200.6,995.5L1200.3,994.0L1200.3,992.5L1201.0,989.5L1201.7,988.0L1202.9,986.0L1205.4,983.0L1209.0,980.0L1213.0,977.6L1217.0,976.0Z M1294.0,995.3L1292.5,995.4L1291.0,995.1L1289.5,994.5L1288.5,993.8L1287.5,992.7L1286.8,991.5L1286.5,990.5L1286.4,989.0L1286.6,987.5L1287.0,986.5L1287.7,985.5L1288.6,984.5L1290.0,983.6L1291.0,983.2L1292.5,982.9L1294.0,983.0 M1223.3,976.0L1227.0,976.0L1230.5,976.7L1233.5,977.7L1236.6,979.5L1239.0,981.6L1241.1,984.5L1242.4,987.5L1242.9,990.5L1242.7,993.5L1241.8,996.5L1240.4,999.0L1238.0,1001.7L1235.0,1003.9L1232.0,1005.4L1228.5,1006.4L1225.0,1006.8L1221.0,1006.7L1217.0,1006.0L1213.5,1004.9L1210.0,1003.1L1207.1,1001.0L1204.9,998.5L1203.5,996.0L1203.0,993.5L1203.3,990.5L1204.4,987.5L1206.5,984.5L1209.0,982.0L1212.0,979.8L1215.5,977.9L1219.5,976.6Z M1294.0,993.7L1292.0,993.7L1291.0,993.4L1290.0,992.8L1289.2,992.0L1288.5,991.0L1288.2,989.0L1288.3,988.0L1288.7,987.0L1290.0,985.5L1291.0,984.9L1292.0,984.6L1294.0,984.6 M1220.9,977.5L1224.0,977.1L1227.0,977.2L1230.0,977.7L1233.0,978.8L1235.5,980.2L1237.7,982.0L1239.4,984.0L1240.7,986.5L1241.4,989.0L1241.6,991.5L1241.3,994.0L1240.4,996.5L1238.8,999.0L1237.0,1000.9L1234.5,1002.8L1232.0,1004.1L1228.5,1005.2L1224.5,1005.6L1220.5,1005.4L1217.0,1004.6L1213.1,1003.0L1210.0,1001.0L1207.5,998.5L1206.0,996.0L1205.4,993.5L1205.3,992.0L1205.5,990.5L1206.7,987.5L1208.3,985.0L1210.7,982.5L1214.0,980.1L1217.4,978.5Z M1294.0,991.4L1292.5,991.5L1291.5,991.0L1290.7,990.0L1290.6,989.0L1291.0,987.8L1291.9,987.0L1293.0,986.7L1294.0,986.9 M1221.8,978.5L1224.5,978.2L1227.5,978.3L1230.5,979.0L1233.0,980.0L1235.0,981.2L1237.0,983.0L1238.6,985.0L1239.8,987.5L1240.3,990.0L1240.3,992.5L1239.6,995.0L1238.7,997.0L1237.2,999.0L1235.1,1001.0L1233.0,1002.3L1230.5,1003.4L1227.5,1004.2L1224.0,1004.5L1220.5,1004.1L1217.0,1003.2L1213.5,1001.5L1211.0,999.6L1209.1,997.5L1207.9,995.0L1207.5,992.5L1207.7,990.0L1208.7,987.5L1210.4,985.0L1212.9,982.5L1215.5,980.8L1218.5,979.4Z M1222.9,979.5L1225.5,979.3L1228.0,979.6L1230.5,980.2L1233.0,981.3L1235.0,982.7L1236.7,984.5L1238.0,986.5L1238.7,988.5L1239.0,990.5L1238.9,993.0L1238.3,995.0L1237.0,997.3L1235.5,999.0L1233.5,1000.6L1231.0,1002.0L1228.5,1002.8L1225.5,1003.2L1222.5,1003.2L1219.5,1002.6L1216.5,1001.5L1214.0,1000.0L1212.0,998.2L1210.4,996.0L1209.7,994.0L1209.4,992.0L1209.8,989.5L1210.9,987.0L1212.4,985.0L1214.5,983.0L1217.0,981.4L1220.0,980.2Z M1224.7,980.5L1227.5,980.6L1230.0,981.2L1232.0,982.1L1234.1,983.5L1235.5,985.0L1236.8,987.0L1237.5,989.0L1237.7,991.5L1237.4,993.5L1236.5,995.7L1235.3,997.5L1233.5,999.2L1231.5,1000.4L1229.0,1001.4L1226.5,1001.9L1224.0,1002.0L1221.5,1001.7L1219.0,1001.1L1216.7,1000.0L1215.0,998.8L1213.5,997.4L1212.2,995.5L1211.5,993.5L1211.3,991.5L1211.7,989.5L1212.5,987.5L1213.9,985.5L1215.5,984.0L1217.5,982.6L1219.8,981.5L1222.0,980.9Z M1222.5,982.0L1224.5,981.7L1226.5,981.7L1228.5,982.0L1230.5,982.7L1232.5,983.9L1233.8,985.0L1235.0,986.5L1235.8,988.0L1236.2,989.5L1236.4,991.5L1236.2,993.0L1235.5,994.8L1234.5,996.4L1233.5,997.5L1232.0,998.7L1230.0,999.8L1228.0,1000.4L1225.5,1000.8L1223.0,1000.7L1220.5,1000.1L1218.5,999.3L1216.4,998.0L1214.9,996.5L1213.7,994.5L1213.2,992.5L1213.3,990.5L1213.9,988.5L1214.7,987.0L1216.0,985.5L1218.0,983.9L1220.0,982.8Z M1224.5,983.0L1226.5,983.0L1228.0,983.2L1230.0,983.9L1231.5,984.8L1232.9,986.0L1234.0,987.5L1234.6,989.0L1234.9,990.5L1234.9,992.0L1234.5,993.6L1233.8,995.0L1232.6,996.5L1231.0,997.8L1229.5,998.5L1228.0,999.1L1226.0,999.4L1224.0,999.4L1222.0,999.1L1220.2,998.5L1218.5,997.6L1217.2,996.5L1216.0,995.0L1215.3,993.5L1215.0,992.0L1215.1,990.5L1215.5,989.0L1216.4,987.5L1217.6,986.0L1219.0,984.9L1220.6,984.0L1222.5,983.3Z M1224.0,984.5L1227.0,984.5L1228.5,984.9L1229.9,985.5L1231.0,986.3L1232.0,987.3L1232.8,988.5L1233.1,989.5L1233.3,990.5L1233.3,992.0L1232.8,993.5L1232.3,994.5L1230.5,996.3L1228.0,997.6L1226.5,997.9L1224.5,998.0L1223.0,997.8L1221.5,997.3L1220.0,996.5L1218.7,995.5L1217.9,994.5L1217.2,993.0L1217.0,991.5L1217.2,990.0L1217.8,988.5L1218.5,987.5L1219.5,986.5L1221.0,985.5L1222.5,984.9Z M1223.1,986.5L1225.5,986.1L1227.5,986.3L1229.0,987.0L1230.6,988.5L1231.3,990.0L1231.3,992.0L1230.7,993.5L1229.3,995.0L1227.0,996.1L1224.5,996.2L1223.3,996.0L1222.0,995.5L1221.0,994.8L1220.2,994.0L1219.6,993.0L1219.3,992.0L1219.3,991.0L1219.5,989.9L1219.9,989.0L1220.7,988.0L1222.0,987.0Z M1223.8,989.0L1225.5,988.5L1226.5,988.6L1227.5,989.1L1228.3,990.0L1228.6,991.0L1228.4,992.0L1228.0,992.6L1227.0,993.4L1225.5,993.8L1224.0,993.5L1223.2,993.0L1222.5,992.0L1222.4,991.0L1222.7,990.0Z" fill="none" stroke="#E8692B" stroke-width="1.25" stroke-linejoin="round" clip-path="url(#cp2)"/>
<rect x="1132.6" y="934.7" width="128.0" height="99.5" fill="none" stroke="#222" stroke-width="1.3" />
<rect x="1221.4" y="1037.6" width="70.8" height="90.1" fill="none" stroke="#222" stroke-width="1.3" />
<rect x="996.3" y="883.7" width="296.0" height="295.7" fill="none" stroke="#222" stroke-width="1.5" />
<line x1="990.8" y1="1179.4" x2="996.3" y2="1179.4" stroke="#1a1a1a" stroke-width="1.4" />
<text font-size="19.6" text-anchor="end" x="984.3" y="1186.3" >10<tspan font-size="12.2" dy="-8.2">0</tspan></text>
<line x1="996.3" y1="1179.4" x2="996.3" y2="1185.4" stroke="#1a1a1a" stroke-width="1.4" />
<text font-size="19.6" text-anchor="middle" x="997.3" y="1205.8" >10<tspan font-size="12.2" dy="-8.2">0</tspan></text>
<line x1="990.8" y1="1120.3" x2="996.3" y2="1120.3" stroke="#1a1a1a" stroke-width="1.4" />
<text font-size="19.6" text-anchor="end" x="984.3" y="1127.2" >10<tspan font-size="12.2" dy="-8.2">1</tspan></text>
<line x1="1055.5" y1="1179.4" x2="1055.5" y2="1185.4" stroke="#1a1a1a" stroke-width="1.4" />
<text font-size="19.6" text-anchor="middle" x="1056.5" y="1205.8" >10<tspan font-size="12.2" dy="-8.2">1</tspan></text>
<line x1="990.8" y1="1061.1" x2="996.3" y2="1061.1" stroke="#1a1a1a" stroke-width="1.4" />
<text font-size="19.6" text-anchor="end" x="984.3" y="1068.0" >10<tspan font-size="12.2" dy="-8.2">2</tspan></text>
<line x1="1114.7" y1="1179.4" x2="1114.7" y2="1185.4" stroke="#1a1a1a" stroke-width="1.4" />
<text font-size="19.6" text-anchor="middle" x="1115.7" y="1205.8" >10<tspan font-size="12.2" dy="-8.2">2</tspan></text>
<line x1="990.8" y1="1002.0" x2="996.3" y2="1002.0" stroke="#1a1a1a" stroke-width="1.4" />
<text font-size="19.6" text-anchor="end" x="984.3" y="1008.9" >10<tspan font-size="12.2" dy="-8.2">3</tspan></text>
<line x1="1173.9" y1="1179.4" x2="1173.9" y2="1185.4" stroke="#1a1a1a" stroke-width="1.4" />
<text font-size="19.6" text-anchor="middle" x="1174.9" y="1205.8" >10<tspan font-size="12.2" dy="-8.2">3</tspan></text>
<line x1="990.8" y1="942.9" x2="996.3" y2="942.9" stroke="#1a1a1a" stroke-width="1.4" />
<text font-size="19.6" text-anchor="end" x="984.3" y="949.8" >10<tspan font-size="12.2" dy="-8.2">4</tspan></text>
<line x1="1233.1" y1="1179.4" x2="1233.1" y2="1185.4" stroke="#1a1a1a" stroke-width="1.4" />
<text font-size="19.6" text-anchor="middle" x="1234.1" y="1205.8" >10<tspan font-size="12.2" dy="-8.2">4</tspan></text>
<line x1="990.8" y1="883.8" x2="996.3" y2="883.8" stroke="#1a1a1a" stroke-width="1.4" />
<text font-size="19.6" text-anchor="end" x="984.3" y="890.6" >10<tspan font-size="12.2" dy="-8.2">5</tspan></text>
<line x1="1292.3" y1="1179.4" x2="1292.3" y2="1185.4" stroke="#1a1a1a" stroke-width="1.4" />
<text font-size="19.6" text-anchor="middle" x="1293.3" y="1205.8" >10<tspan font-size="12.2" dy="-8.2">5</tspan></text>
<text font-size="19.5" text-anchor="middle" textLength="78.2" lengthAdjust="spacingAndGlyphs" x="1079.4" y="969.0" >Effectors</text>
<text font-size="19.5" text-anchor="middle" textLength="53.5" lengthAdjust="spacingAndGlyphs" x="1079.4" y="991.6" >82.1%</text>
<text font-size="19.5" text-anchor="middle" textLength="35.3" lengthAdjust="spacingAndGlyphs" x="1165.2" y="1075.7" >PCs</text>
<text font-size="19.5" text-anchor="middle" textLength="53.5" lengthAdjust="spacingAndGlyphs" x="1165.2" y="1098.3" >0.89%</text>
<text font-size="36" font-weight="bold" textLength="11.2" lengthAdjust="spacingAndGlyphs" x="1399.5" y="831.7" stroke="#000" stroke-width="1.1" stroke-linejoin="round">i</text>
<text font-size="22.5" text-anchor="middle" textLength="104.8" lengthAdjust="spacingAndGlyphs" x="1818.0" y="832.2" >MG donor</text>
<text font-size="22.5" text-anchor="middle" textLength="203.9" lengthAdjust="spacingAndGlyphs" x="1632.3" y="873.4" >Control CAR mRNA</text>
<text font-size="22.5" text-anchor="middle" textLength="140.2" lengthAdjust="spacingAndGlyphs" x="2001.7" y="873.4" >DC-08 mRNA</text>
<line x1="1410.9" y1="1127.2" x2="1410.9" y2="891.7" stroke="#4A5B76" stroke-width="2" />
<path d="M1410.9,883.7 L1416.2,896.5 L1410.9,893.3 L1405.6,896.5 Z" fill="#4A5B76"/>
<text font-size="22.5" textLength="46.2" lengthAdjust="spacingAndGlyphs" transform="translate(1418.7,1179.0) rotate(-90)" >CD8</text>
<text font-size="22.5" textLength="60.2" lengthAdjust="spacingAndGlyphs" x="1485.0" y="1238.2" >CD27</text>
<line x1="1549.2" y1="1229.7" x2="2142.3" y2="1229.7" stroke="#4A5B76" stroke-width="2" />
<path d="M2150.3,1229.7 L2137.5,1224.4 L2140.7,1229.7 L2137.5,1235.0 Z" fill="#4A5B76"/>
<path d="M1483.0,949.5L1486.5,949.4L1488.5,949.7L1490.5,950.4L1494.0,952.3L1496.0,954.0L1497.5,955.6L1500.2,959.5L1502.2,964.0L1503.4,969.0L1503.8,974.5L1503.4,979.5L1502.2,984.5L1500.2,989.0L1499.0,991.0L1497.5,993.0L1496.0,994.6L1494.0,996.3L1490.5,998.2L1487.0,999.1L1485.0,999.3L1483.0,999.1 M1783.0,987.8L1781.4,989.5L1779.5,991.1L1777.0,992.6L1774.5,993.7L1769.5,995.2L1759.0,997.8L1755.0,998.6L1750.5,998.9L1746.5,998.5L1742.5,997.6L1734.5,995.0L1733.0,994.8L1731.5,994.9L1730.1,995.5L1729.0,996.3L1723.9,1001.5L1721.0,1003.9L1718.0,1005.9L1714.5,1007.7L1710.0,1009.2L1705.0,1010.2L1699.5,1010.6L1693.5,1010.5L1687.0,1009.9L1680.5,1008.8L1655.0,1003.6L1644.0,1000.8L1639.0,999.2L1633.5,997.1L1628.0,994.7L1623.5,992.4L1619.5,989.9L1616.4,987.5L1613.9,985.0L1612.2,982.5L1611.2,980.0L1610.8,977.0L1611.1,974.5L1611.9,972.5L1613.5,970.0L1615.3,968.0L1617.6,966.0L1620.5,964.1L1624.0,962.1L1628.0,960.3L1633.0,958.4L1638.0,956.7L1644.5,954.8L1650.5,953.3L1666.0,950.2L1672.5,949.3L1678.5,948.6L1685.0,948.4L1691.5,948.7L1698.0,949.8L1703.5,951.3L1708.0,953.1L1712.0,955.2L1716.5,958.3L1723.0,963.7L1724.5,964.6L1726.0,965.0L1727.5,964.8L1729.0,964.1L1736.0,958.3L1738.5,956.6L1740.5,955.6L1743.0,954.6L1745.5,953.8L1748.0,953.4L1750.5,953.2L1754.0,953.4L1758.0,954.0L1773.5,958.0L1776.5,959.2L1779.0,960.7L1781.0,962.2L1783.0,964.3 M1783.0,1083.9L1781.0,1084.7L1779.5,1085.0L1778.0,1085.1L1776.0,1085.0L1772.5,1084.1L1765.0,1080.6L1761.5,1079.6L1758.0,1079.4L1748.0,1079.5L1743.0,1079.1L1735.0,1077.8L1726.5,1075.7L1721.5,1074.2L1716.5,1072.2L1711.5,1069.8L1701.8,1064.5L1698.4,1063.0L1694.2,1061.5L1688.8,1060.0L1682.1,1058.5L1661.5,1054.8L1658.0,1053.9L1655.0,1052.9L1651.5,1051.2L1649.3,1049.5L1647.9,1047.5L1647.4,1045.5L1647.7,1044.0L1648.2,1043.0L1650.0,1041.1L1653.0,1039.2L1656.5,1037.8L1662.5,1036.4L1682.1,1033.5L1690.2,1032.0L1696.5,1030.6L1703.5,1028.5L1718.5,1022.6L1723.0,1021.2L1727.0,1020.2L1735.0,1018.9L1743.0,1018.2L1748.5,1018.2L1758.5,1018.9L1762.0,1018.8L1765.9,1018.0L1773.0,1015.4L1776.5,1014.7L1778.5,1014.7L1780.0,1015.0L1783.0,1016.0 M1679.4,952.0L1686.5,951.8L1693.5,952.4L1700.0,953.9L1703.5,955.1L1706.5,956.4L1711.0,959.0L1715.3,962.5L1719.1,966.5L1725.0,974.1L1726.0,975.0L1727.0,975.4L1727.5,975.3L1728.5,974.4L1732.3,968.0L1735.4,964.0L1738.5,961.1L1741.5,959.2L1745.5,957.6L1747.5,957.2L1750.0,956.9L1754.5,957.1L1759.5,958.2L1770.0,961.3L1773.0,962.3L1776.0,963.8L1778.5,965.7L1780.8,968.5L1781.6,970.0L1782.4,972.0L1782.9,975.5L1782.9,977.5L1782.5,979.5L1781.4,982.5L1779.7,985.0L1777.5,987.2L1775.0,988.8L1771.0,990.5L1761.5,993.3L1757.0,994.5L1753.5,995.0L1750.5,995.2L1748.0,995.0L1745.0,994.4L1742.5,993.5L1740.0,992.4L1737.5,990.9L1730.5,985.6L1729.5,985.1L1728.5,985.2L1728.0,985.6L1727.0,987.1L1724.4,992.5L1722.3,996.0L1719.8,999.0L1716.5,1001.7L1714.5,1003.0L1712.0,1004.2L1707.5,1005.8L1702.5,1006.7L1697.0,1007.1L1693.0,1007.0L1688.5,1006.6L1678.0,1004.8L1656.0,999.7L1644.0,996.3L1634.5,992.8L1630.0,990.7L1626.5,988.8L1623.8,987.0L1621.4,985.0L1619.6,983.0L1618.4,981.0L1617.7,979.0L1617.5,976.5L1617.9,974.5L1618.9,972.5L1620.4,970.5L1622.6,968.5L1625.5,966.5L1629.0,964.6L1633.0,962.9L1638.0,961.1L1644.0,959.3L1651.5,957.3L1667.5,953.7L1673.5,952.7Z M1483.0,954.4L1484.5,954.2L1486.5,954.3L1489.5,955.1L1492.5,956.8L1495.0,959.2L1497.3,962.5L1498.8,966.0L1499.8,970.0L1500.2,974.5L1499.7,979.0L1498.7,983.0L1497.0,986.5L1494.9,989.5L1492.5,991.8L1489.5,993.5L1486.5,994.3L1484.5,994.4L1483.0,994.2 M1783.0,1078.3L1781.0,1079.2L1779.5,1079.6L1778.0,1079.8L1776.0,1079.8L1772.5,1078.9L1766.0,1076.3L1763.0,1075.7L1760.0,1075.5L1752.0,1075.9L1747.0,1075.8L1742.0,1075.2L1736.0,1073.9L1728.5,1071.6L1721.0,1068.8L1715.5,1066.2L1704.1,1060.0L1697.5,1057.2L1690.0,1054.9L1681.5,1052.9L1676.5,1052.0L1666.5,1050.8L1662.5,1050.0L1659.8,1049.0L1658.1,1048.0L1657.1,1047.0L1656.7,1045.5L1657.3,1044.0L1658.3,1043.0L1660.0,1042.1L1662.0,1041.4L1667.0,1040.4L1676.5,1039.6L1681.0,1039.1L1687.0,1037.9L1694.5,1036.2L1699.5,1034.9L1704.5,1033.3L1717.5,1028.2L1723.0,1026.2L1728.5,1024.7L1734.5,1023.3L1741.0,1022.3L1747.0,1022.0L1752.0,1022.1L1760.5,1023.0L1763.5,1022.9L1767.0,1022.4L1773.5,1020.4L1776.5,1020.0L1778.5,1020.1L1780.0,1020.3L1783.0,1021.6 M1679.4,954.5L1685.0,954.2L1690.5,954.5L1695.5,955.3L1700.5,956.7L1705.0,958.6L1709.0,961.0L1712.5,963.8L1715.5,967.0L1718.2,971.0L1720.4,975.5L1721.7,980.0L1722.1,984.0L1721.9,986.5L1721.6,988.5L1720.1,992.5L1717.8,996.0L1715.0,998.8L1712.0,1000.8L1708.5,1002.4L1704.5,1003.6L1700.5,1004.2L1696.0,1004.5L1691.0,1004.3L1686.0,1003.7L1680.0,1002.7L1669.5,1000.2L1656.5,996.8L1647.0,993.9L1639.5,991.1L1633.0,988.2L1628.5,985.5L1625.6,983.0L1624.4,981.5L1623.5,980.0L1623.1,978.5L1623.0,976.5L1623.5,974.5L1624.5,972.8L1626.1,971.0L1627.9,969.5L1630.5,967.9L1633.5,966.4L1637.5,964.8L1643.0,962.9L1658.0,958.7L1670.5,955.8Z M1483.0,958.4L1484.5,958.2L1486.0,958.2L1488.5,958.8L1491.0,960.3L1493.0,962.1L1494.7,964.5L1496.0,967.5L1496.9,971.0L1497.2,974.5L1496.9,978.0L1496.1,981.0L1494.7,984.0L1493.0,986.5L1491.0,988.3L1488.5,989.8L1486.0,990.4L1484.5,990.4L1483.0,990.2 M1747.7,960.0L1750.0,959.7L1752.5,959.7L1755.0,960.0L1758.0,960.7L1770.4,965.0L1773.0,966.2L1774.9,967.5L1776.5,969.0L1777.6,970.5L1778.6,972.5L1779.1,974.5L1779.2,976.5L1778.9,978.5L1778.2,980.5L1777.0,982.4L1776.0,983.6L1774.5,984.8L1771.0,986.7L1759.5,990.8L1754.5,992.1L1750.5,992.3L1746.5,991.8L1743.0,990.6L1739.6,988.5L1737.9,987.0L1736.2,985.0L1735.2,983.5L1734.2,981.5L1733.6,979.5L1733.4,977.5L1733.4,975.5L1733.9,973.0L1734.8,970.5L1735.8,968.5L1737.2,966.5L1739.0,964.5L1741.0,962.8L1743.0,961.6L1745.5,960.6Z M1783.0,1073.9L1781.5,1074.8L1780.0,1075.4L1778.5,1075.8L1776.5,1075.9L1773.5,1075.4L1767.5,1073.4L1764.5,1072.7L1761.5,1072.6L1753.0,1073.2L1748.5,1073.2L1743.0,1072.6L1737.0,1071.1L1728.0,1067.9L1719.5,1063.9L1705.5,1055.9L1692.8,1049.5L1691.2,1048.5L1690.1,1047.5L1689.4,1046.5L1689.4,1046.0L1689.7,1045.0L1691.4,1043.5L1696.5,1041.0L1722.5,1030.2L1729.5,1027.9L1736.5,1026.1L1742.5,1025.1L1748.5,1024.7L1753.0,1024.9L1761.5,1026.0L1765.0,1026.0L1768.0,1025.6L1774.0,1024.1L1776.5,1023.9L1778.5,1024.0L1780.0,1024.4L1781.5,1025.0L1783.0,1025.9 M1678.5,957.0L1683.5,956.6L1688.5,956.7L1693.0,957.2L1697.5,958.3L1701.5,959.7L1705.5,961.8L1709.0,964.3L1711.8,967.0L1714.4,970.5L1716.5,974.5L1717.8,978.5L1718.4,983.0L1718.1,987.0L1717.1,990.5L1715.4,993.5L1713.0,996.2L1710.5,998.1L1707.5,999.6L1704.0,1000.8L1700.0,1001.6L1696.0,1001.9L1691.5,1001.9L1686.5,1001.4L1681.0,1000.4L1673.5,998.7L1663.0,995.7L1652.0,992.1L1643.0,988.8L1637.9,986.5L1634.0,984.3L1631.3,982.0L1630.4,981.0L1629.6,979.5L1629.1,978.0L1629.1,976.5L1629.6,975.0L1630.5,973.5L1632.0,972.0L1633.3,971.0L1637.8,968.5L1646.0,965.4L1661.5,960.7L1671.0,958.3Z M1483.0,962.9L1485.0,962.6L1487.0,962.9L1489.0,963.9L1490.5,965.2L1491.9,967.0L1493.0,969.4L1493.6,972.0L1493.8,974.5L1493.6,977.0L1492.9,979.5L1491.9,981.5L1490.5,983.4L1489.0,984.7L1487.0,985.7L1485.0,986.0L1483.0,985.7 M1747.5,963.0L1749.5,962.7L1752.0,962.6L1754.0,962.8L1756.5,963.4L1762.5,965.7L1767.5,968.0L1770.2,969.5L1772.5,971.5L1773.5,972.8L1774.0,974.0L1774.3,975.5L1774.3,977.0L1773.8,978.5L1773.3,979.5L1771.5,981.5L1768.5,983.5L1760.5,987.2L1756.0,988.8L1752.5,989.4L1749.0,989.3L1746.0,988.6L1743.0,987.1L1741.5,986.0L1740.0,984.5L1738.8,983.0L1738.0,981.5L1737.4,980.0L1737.0,978.0L1736.9,976.0L1737.1,974.0L1737.6,972.0L1738.2,970.5L1739.4,968.5L1740.6,967.0L1742.0,965.7L1743.8,964.5L1745.5,963.7Z M1783.0,1069.5L1781.5,1070.6L1780.0,1071.3L1778.5,1071.8L1776.5,1072.0L1774.0,1071.7L1768.0,1070.1L1765.5,1069.7L1762.5,1069.7L1754.5,1070.6L1750.0,1070.8L1745.0,1070.3L1740.0,1069.1L1735.0,1067.4L1729.0,1064.7L1723.5,1061.8L1718.1,1058.5L1712.4,1054.5L1708.2,1051.0L1706.1,1048.5L1705.7,1047.5L1705.6,1046.5L1705.7,1045.5L1706.2,1044.5L1708.0,1042.5L1711.4,1040.0L1716.5,1037.1L1722.5,1034.2L1728.5,1031.8L1734.5,1029.7L1740.0,1028.3L1745.5,1027.4L1750.5,1027.3L1755.0,1027.7L1762.5,1028.9L1765.5,1029.1L1768.5,1028.9L1774.0,1027.8L1776.5,1027.7L1778.5,1028.0L1780.0,1028.5L1781.5,1029.2L1783.0,1030.3 M1683.1,958.5L1687.5,958.5L1692.0,959.0L1696.0,959.8L1700.0,961.2L1703.5,963.0L1706.5,965.0L1709.2,967.5L1711.6,970.5L1713.6,974.0L1714.9,977.5L1715.6,981.5L1715.6,985.0L1714.8,988.5L1713.5,991.4L1711.5,994.0L1709.1,996.0L1706.5,997.5L1703.5,998.6L1700.0,999.5L1696.5,999.9L1692.5,999.9L1688.5,999.7L1684.5,999.1L1679.5,998.1L1672.5,996.3L1664.5,993.8L1655.3,990.5L1647.0,987.2L1642.3,985.0L1639.0,983.0L1636.7,981.0L1635.3,979.0L1635.0,977.5L1635.1,976.5L1635.7,975.0L1636.5,974.0L1637.5,973.0L1639.5,971.6L1643.7,969.5L1655.0,965.3L1668.0,961.1L1676.0,959.3Z M1748.0,965.5L1749.5,965.2L1751.5,965.1L1755.0,965.6L1758.7,967.0L1763.0,969.5L1766.1,972.0L1767.7,974.0L1768.1,975.0L1768.2,976.0L1767.9,977.5L1767.4,978.5L1765.6,980.5L1762.3,983.0L1758.7,985.0L1755.5,986.3L1752.5,986.9L1749.5,986.8L1747.0,986.2L1744.5,985.0L1742.2,983.0L1740.6,980.5L1739.7,977.5L1739.7,974.5L1740.7,971.5L1742.5,968.8L1745.0,966.8Z M1483.0,967.9L1484.0,967.5L1485.5,967.4L1487.0,967.9L1488.0,968.6L1489.0,969.9L1489.6,971.0L1490.0,972.5L1490.2,974.5L1490.1,976.0L1489.6,977.5L1489.0,978.7L1488.0,980.0L1487.0,980.7L1485.5,981.2L1484.0,981.1L1483.0,980.7 M1783.0,1065.6L1781.5,1066.9L1780.0,1067.9L1778.5,1068.4L1776.5,1068.7L1774.0,1068.6L1768.8,1067.5L1766.0,1067.2L1763.0,1067.3L1755.5,1068.5L1751.5,1068.8L1747.0,1068.6L1742.5,1067.7L1738.0,1066.1L1733.0,1063.8L1727.5,1060.7L1722.7,1057.5L1719.0,1054.5L1716.0,1051.5L1714.5,1049.0L1714.0,1047.0L1714.5,1045.0L1715.0,1044.0L1716.2,1042.5L1718.6,1040.5L1722.4,1038.0L1727.5,1035.3L1733.0,1032.9L1738.0,1031.1L1743.0,1029.9L1747.5,1029.3L1752.0,1029.4L1756.0,1029.9L1763.5,1031.4L1766.5,1031.7L1769.0,1031.6L1774.0,1030.9L1776.5,1030.9L1778.5,1031.3L1780.0,1031.9L1781.5,1032.8L1783.0,1034.2 M1678.9,960.5L1683.0,960.1L1687.5,960.1L1691.5,960.5L1695.0,961.2L1698.5,962.4L1702.0,964.1L1705.0,966.1L1707.6,968.5L1710.0,971.5L1711.6,974.5L1712.8,978.0L1713.3,981.5L1713.2,985.0L1712.5,988.0L1711.0,990.9L1709.0,993.2L1706.6,995.0L1704.0,996.3L1701.0,997.3L1698.0,997.9L1694.5,998.2L1690.5,998.2L1686.0,997.7L1681.5,996.9L1675.5,995.4L1669.0,993.4L1662.0,990.8L1655.0,987.8L1649.1,985.0L1645.7,983.0L1643.1,981.0L1641.6,979.0L1641.3,978.0L1641.3,977.0L1641.6,976.0L1642.2,975.0L1644.4,973.0L1647.9,971.0L1655.9,967.5L1666.0,963.7L1672.5,961.8Z M1748.4,968.0L1750.0,967.7L1751.5,967.6L1753.0,967.7L1755.0,968.2L1756.8,969.0L1758.4,970.0L1759.7,971.0L1761.1,972.5L1761.8,973.5L1762.4,975.0L1762.4,977.0L1761.8,978.5L1761.1,979.5L1759.1,981.5L1757.0,982.9L1755.0,983.8L1753.0,984.3L1751.0,984.4L1749.0,984.2L1747.0,983.5L1745.4,982.5L1744.0,981.1L1743.0,979.5L1742.4,977.5L1742.3,975.5L1742.7,973.5L1743.6,971.5L1744.9,970.0L1746.5,968.8Z M1783.0,1061.7L1781.5,1063.5L1780.0,1064.6L1778.5,1065.4L1776.5,1065.8L1774.0,1065.8L1769.0,1065.1L1766.5,1064.9L1763.5,1065.2L1756.5,1066.7L1753.0,1067.1L1749.0,1067.1L1745.0,1066.5L1741.0,1065.3L1736.8,1063.5L1732.4,1061.0L1728.2,1058.0L1724.7,1055.0L1722.3,1052.5L1720.7,1050.0L1720.2,1048.5L1720.1,1047.5L1720.3,1046.0L1720.6,1045.0L1721.9,1043.0L1724.0,1041.0L1727.4,1038.5L1731.8,1036.0L1736.5,1033.8L1741.0,1032.3L1745.5,1031.3L1749.5,1031.0L1753.5,1031.2L1757.0,1031.8L1764.0,1033.5L1766.5,1033.9L1769.0,1034.0L1774.5,1033.6L1777.0,1033.8L1779.0,1034.5L1780.5,1035.4L1782.0,1036.8L1783.0,1038.1 M1683.3,961.5L1687.0,961.5L1691.0,961.9L1694.5,962.6L1698.0,963.8L1701.0,965.3L1703.5,967.0L1705.8,969.0L1707.9,971.5L1709.6,974.5L1710.7,977.5L1711.3,980.5L1711.3,983.5L1710.7,986.5L1709.7,989.0L1708.0,991.3L1706.0,993.0L1703.5,994.5L1701.0,995.5L1698.0,996.2L1695.0,996.6L1691.5,996.7L1688.0,996.5L1684.0,995.9L1680.0,995.1L1675.0,993.7L1670.0,992.0L1665.0,990.0L1659.6,987.5L1654.9,985.0L1651.7,983.0L1649.3,981.0L1647.9,979.0L1647.6,977.5L1647.8,976.5L1648.3,975.5L1649.2,974.5L1652.5,972.0L1657.1,969.5L1664.5,966.2L1671.0,963.8L1677.5,962.2Z M1750.1,970.5L1752.5,970.5L1754.5,971.2L1756.4,972.5L1757.3,973.5L1757.8,974.5L1758.0,975.5L1758.0,976.5L1757.8,977.5L1757.3,978.5L1755.8,980.0L1753.5,981.2L1751.0,981.6L1750.0,981.5L1748.5,981.0L1747.5,980.4L1746.5,979.5L1745.4,977.5L1745.2,976.5L1745.3,975.0L1746.1,973.0L1747.6,971.5L1748.5,971.0Z M1783.0,1057.1L1782.0,1059.0L1780.5,1060.9L1779.0,1062.1L1777.0,1062.9L1774.5,1063.2L1769.5,1062.8L1767.0,1062.8L1764.0,1063.2L1758.0,1064.8L1754.5,1065.4L1750.5,1065.7L1747.0,1065.3L1743.0,1064.3L1739.5,1062.9L1735.5,1060.7L1731.9,1058.0L1728.6,1055.0L1726.6,1052.5L1725.3,1050.0L1724.9,1047.5L1725.3,1045.5L1726.7,1043.0L1729.2,1040.5L1732.7,1038.0L1736.5,1035.9L1740.5,1034.2L1744.5,1033.1L1748.0,1032.6L1751.5,1032.6L1755.0,1033.0L1758.0,1033.7L1764.5,1035.6L1767.0,1036.1L1769.5,1036.3L1774.5,1036.2L1777.0,1036.6L1779.0,1037.6L1780.5,1038.8L1781.9,1040.5L1783.0,1042.7 M1681.1,963.0L1685.0,962.7L1688.5,962.9L1692.0,963.4L1695.0,964.2L1698.0,965.3L1700.5,966.7L1703.0,968.5L1705.1,970.5L1706.9,973.0L1708.2,975.5L1709.2,978.5L1709.5,981.5L1709.3,984.5L1708.5,987.0L1707.3,989.0L1705.5,991.1L1703.6,992.5L1701.5,993.6L1699.0,994.4L1696.0,995.0L1693.0,995.3L1689.5,995.2L1686.0,994.9L1682.0,994.2L1678.0,993.2L1673.5,991.7L1669.1,990.0L1664.8,988.0L1660.3,985.5L1657.4,983.5L1655.1,981.5L1653.9,980.0L1653.3,978.5L1653.2,977.5L1653.4,976.5L1653.9,975.5L1655.7,973.5L1659.2,971.0L1664.7,968.0L1670.0,965.7L1675.5,964.0Z M1748.4,1034.0L1752.0,1034.0L1755.5,1034.5L1758.5,1035.3L1766.5,1038.1L1769.5,1038.6L1775.0,1039.0L1777.0,1039.6L1778.5,1040.5L1780.0,1042.0L1781.0,1043.6L1781.9,1046.0L1782.3,1048.5L1782.3,1051.0L1781.9,1053.5L1781.0,1056.0L1780.0,1057.7L1779.0,1058.8L1778.0,1059.5L1776.0,1060.3L1774.0,1060.5L1769.5,1060.4L1767.0,1060.7L1764.5,1061.3L1757.0,1063.6L1754.5,1064.0L1752.0,1064.3L1748.0,1064.1L1744.0,1063.1L1740.0,1061.4L1736.1,1059.0L1734.3,1057.5L1732.2,1055.5L1730.6,1053.5L1729.4,1051.5L1728.7,1049.5L1728.6,1048.0L1728.7,1046.5L1729.2,1045.0L1730.5,1043.0L1732.3,1041.0L1734.5,1039.2L1737.0,1037.6L1739.5,1036.3L1742.5,1035.2L1745.5,1034.4Z M1683.9,964.0L1687.0,964.0L1690.0,964.3L1693.0,964.9L1696.0,965.9L1698.5,967.0L1701.0,968.7L1703.1,970.5L1704.8,972.5L1706.3,975.0L1707.2,977.5L1707.7,980.0L1707.7,982.5L1707.3,985.0L1706.4,987.0L1705.0,989.0L1703.0,990.8L1701.0,992.0L1699.0,992.8L1696.5,993.5L1694.0,993.8L1691.0,994.0L1688.0,993.8L1681.5,992.8L1674.5,990.7L1671.0,989.2L1667.4,987.5L1664.5,985.8L1662.0,984.0L1659.7,982.0L1658.6,980.5L1657.9,979.0L1657.7,978.0L1657.8,977.0L1658.1,976.0L1658.7,975.0L1660.0,973.5L1663.5,970.8L1668.5,968.0L1673.5,966.0L1678.5,964.7Z M1747.1,1035.5L1751.5,1035.3L1755.5,1035.9L1759.5,1037.2L1767.5,1040.6L1770.0,1041.2L1774.5,1041.9L1776.5,1042.7L1777.5,1043.5L1778.7,1045.0L1779.5,1046.5L1779.8,1048.0L1780.0,1049.5L1779.9,1051.5L1779.5,1053.0L1778.8,1054.5L1777.5,1056.1L1775.5,1057.2L1774.0,1057.5L1770.0,1057.9L1767.5,1058.3L1758.5,1061.7L1754.0,1062.8L1750.5,1063.0L1747.0,1062.6L1743.5,1061.5L1740.0,1059.7L1738.0,1058.4L1735.8,1056.5L1734.4,1055.0L1733.0,1053.0L1732.2,1051.5L1731.6,1049.5L1731.6,1047.5L1731.9,1046.0L1732.8,1044.0L1733.9,1042.5L1735.4,1041.0L1737.5,1039.3L1739.7,1038.0L1742.0,1036.9L1744.5,1036.1Z M1680.8,965.5L1684.0,965.2L1687.0,965.2L1690.0,965.5L1693.0,966.1L1695.5,967.0L1698.0,968.2L1700.0,969.6L1702.0,971.3L1703.7,973.5L1704.8,975.5L1705.7,978.0L1706.1,980.5L1705.9,983.0L1705.4,985.0L1704.4,987.0L1703.0,988.6L1701.3,990.0L1699.5,991.0L1697.5,991.8L1695.5,992.3L1693.0,992.6L1690.5,992.7L1685.0,992.2L1679.0,990.9L1672.7,988.5L1669.8,987.0L1667.3,985.5L1665.3,984.0L1663.6,982.5L1662.4,981.0L1661.8,980.0L1661.4,978.5L1661.4,977.5L1662.0,975.5L1662.6,974.5L1664.0,973.0L1667.3,970.5L1671.5,968.2L1676.0,966.6Z M1746.3,1037.0L1749.5,1036.6L1753.0,1036.7L1756.5,1037.5L1760.2,1039.0L1768.0,1043.4L1773.0,1045.5L1774.7,1046.5L1775.6,1047.5L1776.2,1049.0L1776.2,1050.5L1775.9,1051.5L1775.0,1052.6L1773.7,1053.5L1768.5,1055.3L1760.3,1059.5L1756.0,1061.1L1752.5,1061.7L1749.5,1061.7L1746.0,1061.0L1743.0,1059.8L1741.0,1058.7L1739.0,1057.2L1737.2,1055.5L1736.0,1054.0L1734.8,1052.0L1734.3,1050.5L1734.0,1049.0L1734.1,1047.5L1734.6,1045.5L1735.4,1044.0L1736.5,1042.5L1738.1,1041.0L1740.0,1039.6L1742.0,1038.5L1744.0,1037.7Z M1682.1,966.5L1685.0,966.3L1688.0,966.4L1690.5,966.7L1693.0,967.4L1695.5,968.3L1697.7,969.5L1699.7,971.0L1701.2,972.5L1702.7,974.5L1703.7,976.5L1704.2,978.5L1704.5,980.5L1704.3,982.5L1703.8,984.5L1702.6,986.5L1701.3,988.0L1700.0,989.0L1698.1,990.0L1694.5,991.1L1690.0,991.5L1685.0,991.0L1679.5,989.8L1674.5,987.8L1670.0,985.3L1668.2,984.0L1666.6,982.5L1665.7,981.5L1664.9,980.0L1664.4,978.0L1664.8,976.0L1665.7,974.5L1666.5,973.5L1669.6,971.0L1673.2,969.0L1677.5,967.4Z M1748.0,1038.0L1752.0,1037.9L1755.5,1038.5L1759.1,1040.0L1762.9,1042.5L1766.2,1045.5L1767.3,1047.0L1767.8,1048.0L1768.1,1049.0L1768.1,1050.0L1767.8,1051.0L1766.9,1052.5L1764.4,1055.0L1761.0,1057.5L1757.5,1059.2L1754.0,1060.2L1750.5,1060.5L1747.3,1060.0L1744.0,1058.8L1741.1,1057.0L1738.5,1054.5L1737.5,1053.0L1736.8,1051.5L1736.3,1050.0L1736.2,1048.5L1736.6,1046.0L1737.4,1044.5L1738.5,1043.0L1741.0,1040.8L1744.3,1039.0Z M1683.8,967.5L1686.5,967.4L1689.0,967.6L1691.5,968.1L1693.5,968.8L1695.5,969.7L1697.5,970.9L1699.0,972.1L1700.3,973.5L1701.3,975.0L1702.2,977.0L1702.7,979.0L1702.8,981.0L1702.5,983.0L1701.9,984.5L1700.9,986.0L1699.4,987.5L1696.5,989.1L1693.0,990.0L1689.0,990.2L1684.5,989.8L1680.0,988.7L1675.5,986.9L1671.5,984.5L1668.8,982.0L1667.8,980.5L1667.4,979.5L1667.2,977.5L1667.8,975.5L1669.5,973.3L1672.0,971.3L1675.5,969.5L1679.5,968.2Z M1747.2,1039.5L1749.0,1039.2L1751.0,1039.1L1753.0,1039.3L1755.0,1039.7L1757.0,1040.5L1758.9,1041.5L1760.3,1042.5L1762.0,1044.0L1763.2,1045.5L1764.1,1047.0L1764.6,1048.5L1764.6,1049.5L1764.4,1051.0L1763.7,1052.5L1761.6,1055.0L1759.0,1057.0L1756.5,1058.2L1753.7,1059.0L1751.0,1059.2L1748.0,1058.9L1745.5,1058.0L1743.0,1056.6L1741.0,1054.9L1739.5,1053.0L1738.4,1050.5L1738.2,1048.0L1738.7,1046.0L1739.9,1044.0L1741.9,1042.0L1744.3,1040.5Z M1681.4,969.0L1686.0,968.6L1688.5,968.8L1690.5,969.1L1692.5,969.7L1694.5,970.6L1696.5,971.8L1697.9,973.0L1699.2,974.5L1700.2,976.0L1700.8,977.5L1701.2,979.5L1701.2,981.0L1700.9,982.5L1700.2,984.0L1699.1,985.5L1697.0,987.2L1694.0,988.4L1690.5,989.0L1687.0,988.9L1683.0,988.2L1679.0,987.0L1675.0,985.0L1672.3,983.0L1670.6,981.0L1669.8,979.0L1669.8,977.0L1670.6,975.0L1672.5,973.0L1675.0,971.3L1678.0,969.9Z M1749.2,1040.5L1751.0,1040.4L1753.0,1040.6L1754.6,1041.0L1756.5,1041.8L1758.0,1042.7L1759.6,1044.0L1760.9,1045.5L1761.8,1047.0L1762.2,1048.5L1762.2,1050.0L1761.8,1051.5L1761.3,1052.5L1760.2,1054.0L1759.2,1055.0L1757.5,1056.2L1755.8,1057.0L1753.5,1057.7L1751.5,1057.9L1749.0,1057.7L1747.0,1057.2L1745.0,1056.2L1743.3,1055.0L1741.9,1053.5L1740.7,1051.5L1740.2,1050.0L1740.2,1048.0L1740.8,1046.0L1741.7,1044.5L1743.2,1043.0L1745.0,1041.8L1747.0,1041.0Z M1683.0,970.0L1687.0,969.8L1691.0,970.5L1694.4,972.0L1696.9,974.0L1698.7,976.5L1699.2,978.0L1699.5,979.5L1699.4,981.0L1699.0,982.5L1698.1,984.0L1697.2,985.0L1695.0,986.5L1692.5,987.3L1689.5,987.7L1686.0,987.6L1682.5,986.8L1679.0,985.6L1676.2,984.0L1673.8,982.0L1672.7,980.5L1672.1,978.5L1672.3,976.5L1673.2,975.0L1674.6,973.5L1677.0,971.9L1680.0,970.7Z M1748.9,1042.0L1752.0,1041.9L1755.0,1042.7L1756.5,1043.5L1757.8,1044.5L1758.7,1045.5L1759.5,1046.8L1760.1,1049.0L1760.0,1050.5L1759.7,1051.5L1759.0,1052.7L1758.0,1053.8L1755.6,1055.5L1754.0,1056.1L1752.0,1056.5L1750.0,1056.4L1748.0,1056.0L1746.5,1055.3L1745.0,1054.4L1743.6,1053.0L1742.7,1051.5L1742.2,1050.0L1742.1,1048.5L1742.4,1047.0L1743.2,1045.5L1744.0,1044.5L1745.5,1043.3L1747.1,1042.5Z M1682.2,971.5L1685.5,971.1L1689.0,971.4L1692.0,972.3L1694.7,974.0L1696.5,976.0L1697.1,977.0L1697.5,978.5L1697.6,980.0L1697.5,981.0L1697.0,982.3L1696.2,983.5L1694.5,984.9L1692.5,985.8L1690.0,986.3L1687.5,986.4L1684.5,986.0L1681.5,985.1L1679.1,984.0L1676.9,982.5L1675.5,981.0L1674.7,979.5L1674.5,978.0L1675.0,976.1L1676.0,974.7L1677.5,973.5L1679.5,972.4Z M1749.9,1043.5L1752.5,1043.6L1754.9,1044.5L1756.7,1046.0L1757.4,1047.0L1757.8,1048.0L1757.9,1050.0L1757.1,1052.0L1755.6,1053.5L1753.5,1054.5L1752.0,1054.8L1750.5,1054.9L1748.0,1054.2L1746.7,1053.5L1745.6,1052.5L1744.4,1050.5L1744.2,1049.0L1744.3,1048.0L1744.6,1047.0L1745.2,1046.0L1747.0,1044.5L1748.5,1043.8Z M1682.5,973.0L1685.5,972.5L1688.0,972.7L1690.5,973.3L1692.7,974.5L1694.3,976.0L1695.4,978.0L1695.5,980.0L1695.3,981.0L1694.8,982.0L1693.5,983.3L1692.0,984.1L1690.0,984.7L1688.0,984.9L1685.5,984.7L1683.5,984.2L1681.5,983.4L1679.5,982.2L1678.2,981.0L1677.3,979.5L1677.0,978.0L1677.2,977.0L1678.1,975.5L1679.3,974.5L1681.0,973.5Z M1748.9,1046.0L1750.5,1045.6L1752.0,1045.7L1753.5,1046.2L1754.5,1047.0L1755.1,1048.0L1755.4,1049.5L1755.1,1050.5L1754.4,1051.5L1753.0,1052.4L1751.0,1052.8L1749.5,1052.5L1747.9,1051.5L1746.9,1050.0L1746.8,1048.5L1747.6,1047.0Z M1684.3,974.5L1686.0,974.3L1688.1,974.5L1690.0,975.2L1691.5,976.1L1692.6,977.5L1693.0,979.0L1692.7,980.5L1692.0,981.5L1691.0,982.2L1690.0,982.6L1688.5,983.0L1687.0,983.0L1684.0,982.4L1682.5,981.7L1681.5,981.0L1680.6,980.0L1680.1,979.0L1680.0,978.0L1680.3,977.0L1681.0,976.1L1681.8,975.5L1683.0,974.9Z M1685.4,978.0L1686.5,977.6L1687.5,977.8L1688.2,978.5L1688.2,979.0L1687.5,979.6L1686.0,979.5L1685.3,979.0L1685.2,978.5Z" fill="none" stroke="#1a1a1a" stroke-width="1.3" stroke-linejoin="round" clip-path="url(#cp3)"/>
<line x1="1779.8" y1="1012.0" x2="1779.8" y2="1088.0" stroke="#1a1a1a" stroke-width="2.4" />
<line x1="1486.2" y1="952.0" x2="1486.2" y2="997.0" stroke="#1a1a1a" stroke-width="2.4" />
<rect x="1613.0" y="905.2" width="121.6" height="112.2" fill="none" stroke="#222" stroke-width="1.3" />
<rect x="1696.3" y="1016.6" width="83.2" height="74.8" fill="none" stroke="#222" stroke-width="1.3" />
<rect x="1485.0" y="883.7" width="296.0" height="295.7" fill="none" stroke="#222" stroke-width="1.5" />
<line x1="1479.5" y1="1179.4" x2="1485.0" y2="1179.4" stroke="#1a1a1a" stroke-width="1.4" />
<text font-size="19.6" text-anchor="end" x="1473.0" y="1186.3" >10<tspan font-size="12.2" dy="-8.2">0</tspan></text>
<line x1="1485.0" y1="1179.4" x2="1485.0" y2="1185.4" stroke="#1a1a1a" stroke-width="1.4" />
<text font-size="19.6" text-anchor="middle" x="1486.0" y="1205.8" >10<tspan font-size="12.2" dy="-8.2">0</tspan></text>
<line x1="1479.5" y1="1120.3" x2="1485.0" y2="1120.3" stroke="#1a1a1a" stroke-width="1.4" />
<text font-size="19.6" text-anchor="end" x="1473.0" y="1127.2" >10<tspan font-size="12.2" dy="-8.2">1</tspan></text>
<line x1="1544.2" y1="1179.4" x2="1544.2" y2="1185.4" stroke="#1a1a1a" stroke-width="1.4" />
<text font-size="19.6" text-anchor="middle" x="1545.2" y="1205.8" >10<tspan font-size="12.2" dy="-8.2">1</tspan></text>
<line x1="1479.5" y1="1061.1" x2="1485.0" y2="1061.1" stroke="#1a1a1a" stroke-width="1.4" />
<text font-size="19.6" text-anchor="end" x="1473.0" y="1068.0" >10<tspan font-size="12.2" dy="-8.2">2</tspan></text>
<line x1="1603.4" y1="1179.4" x2="1603.4" y2="1185.4" stroke="#1a1a1a" stroke-width="1.4" />
<text font-size="19.6" text-anchor="middle" x="1604.4" y="1205.8" >10<tspan font-size="12.2" dy="-8.2">2</tspan></text>
<line x1="1479.5" y1="1002.0" x2="1485.0" y2="1002.0" stroke="#1a1a1a" stroke-width="1.4" />
<text font-size="19.6" text-anchor="end" x="1473.0" y="1008.9" >10<tspan font-size="12.2" dy="-8.2">3</tspan></text>
<line x1="1662.6" y1="1179.4" x2="1662.6" y2="1185.4" stroke="#1a1a1a" stroke-width="1.4" />
<text font-size="19.6" text-anchor="middle" x="1663.6" y="1205.8" >10<tspan font-size="12.2" dy="-8.2">3</tspan></text>
<line x1="1479.5" y1="942.9" x2="1485.0" y2="942.9" stroke="#1a1a1a" stroke-width="1.4" />
<text font-size="19.6" text-anchor="end" x="1473.0" y="949.8" >10<tspan font-size="12.2" dy="-8.2">4</tspan></text>
<line x1="1721.8" y1="1179.4" x2="1721.8" y2="1185.4" stroke="#1a1a1a" stroke-width="1.4" />
<text font-size="19.6" text-anchor="middle" x="1722.8" y="1205.8" >10<tspan font-size="12.2" dy="-8.2">4</tspan></text>
<line x1="1479.5" y1="883.8" x2="1485.0" y2="883.8" stroke="#1a1a1a" stroke-width="1.4" />
<text font-size="19.6" text-anchor="end" x="1473.0" y="890.6" >10<tspan font-size="12.2" dy="-8.2">5</tspan></text>
<line x1="1781.0" y1="1179.4" x2="1781.0" y2="1185.4" stroke="#1a1a1a" stroke-width="1.4" />
<text font-size="19.6" text-anchor="middle" x="1782.0" y="1205.8" >10<tspan font-size="12.2" dy="-8.2">5</tspan></text>
<text font-size="19.5" text-anchor="middle" textLength="78.2" lengthAdjust="spacingAndGlyphs" x="1565.1" y="962.9" >Effectors</text>
<text font-size="19.5" text-anchor="middle" textLength="53.5" lengthAdjust="spacingAndGlyphs" x="1565.1" y="985.5" >36.9%</text>
<text font-size="19.5" text-anchor="middle" textLength="35.3" lengthAdjust="spacingAndGlyphs" x="1609.5" y="1050.7" >PCs</text>
<text font-size="19.5" text-anchor="middle" textLength="53.5" lengthAdjust="spacingAndGlyphs" x="1609.5" y="1073.3" >45.9%</text>
<path d="M2083.7,952.5L2089.5,952.6L2092.5,953.0L2095.0,953.6L2099.5,955.3L2104.0,957.9L2106.0,959.5L2108.1,961.5L2109.9,963.5L2111.7,966.0L2113.1,968.5L2114.3,971.0L2115.9,976.0L2116.4,978.5L2116.6,981.5L2116.3,986.5L2115.8,989.0L2114.8,992.0L2112.6,996.5L2111.0,999.0L2109.4,1001.0L2105.5,1004.7L2101.0,1007.7L2096.0,1010.0L2091.5,1011.3L2086.5,1012.2L2066.3,1014.0L2047.5,1016.4L2040.0,1018.1L2028.5,1022.2L2023.0,1023.8L2020.0,1024.3L2016.5,1024.7L2013.0,1024.7L2010.0,1024.4L2007.0,1023.9L2004.0,1023.1L2001.0,1022.0L1998.0,1020.5L1994.5,1018.3L1986.0,1012.0L1975.5,1005.5L1972.2,1003.0L1969.5,1000.3L1967.4,997.5L1966.0,994.5L1965.3,992.0L1965.1,990.0L1965.2,987.5L1965.6,985.5L1966.6,983.0L1967.7,981.0L1969.1,979.0L1970.8,977.0L1975.0,973.4L1981.0,969.7L1989.0,965.8L1998.0,962.2L2006.0,959.6L2015.0,957.3L2023.5,955.6L2032.5,954.3L2039.0,953.7L2046.0,953.4L2069.0,953.6Z M1852.0,963.5L1853.5,963.2L1855.0,963.2L1857.5,963.7L1860.0,965.1L1862.6,967.5L1864.6,970.5L1866.1,974.0L1867.0,978.0L1867.3,982.0L1867.0,986.0L1866.1,990.0L1864.6,993.5L1862.6,996.5L1860.0,998.9L1857.5,1000.3L1855.0,1000.8L1853.5,1000.8L1852.0,1000.5 M1852.0,1042.8L1853.0,1042.3L1854.0,1042.1L1855.5,1042.3L1856.5,1042.8L1857.5,1043.7L1858.3,1045.0L1858.6,1046.0L1858.7,1047.5L1858.5,1049.0L1858.1,1050.0L1857.4,1051.0L1856.5,1051.8L1855.5,1052.3L1854.0,1052.5L1853.0,1052.3L1852.0,1051.8 M2078.0,956.5L2085.0,956.2L2090.0,956.6L2095.0,957.8L2099.0,959.5L2103.0,962.2L2106.5,965.6L2108.3,968.0L2109.5,970.0L2111.4,974.5L2112.4,979.0L2112.6,981.5L2112.5,984.0L2112.2,986.5L2111.6,989.0L2109.8,993.5L2108.6,995.5L2107.0,997.7L2105.5,999.5L2103.3,1001.5L2101.0,1003.2L2099.0,1004.4L2094.0,1006.7L2090.0,1007.8L2084.5,1008.8L2063.0,1011.0L2049.8,1012.5L2043.5,1013.4L2036.5,1015.0L2026.0,1018.7L2022.0,1019.9L2017.0,1020.6L2012.0,1020.6L2009.5,1020.2L2007.0,1019.6L2004.5,1018.7L2002.1,1017.5L1999.0,1015.5L1990.5,1009.0L1979.5,1002.5L1976.8,1000.5L1974.5,998.3L1972.8,996.0L1971.6,993.5L1971.0,991.5L1970.8,989.5L1971.0,987.5L1971.5,985.5L1972.4,983.5L1973.7,981.5L1975.4,979.5L1977.0,978.0L1981.5,974.7L1987.5,971.4L1995.5,967.7L2004.5,964.2L2012.5,961.7L2020.0,959.9L2028.0,958.4L2035.5,957.4L2047.0,956.7L2067.5,956.9Z M1852.0,969.3L1854.0,968.9L1856.0,969.1L1858.0,970.0L1860.0,971.8L1861.5,974.0L1862.6,976.5L1863.2,979.0L1863.4,982.0L1863.2,985.0L1862.6,987.5L1861.5,990.0L1860.0,992.2L1858.0,994.0L1856.0,994.9L1854.0,995.1L1852.0,994.7 M2043.3,960.0L2052.0,959.7L2068.5,959.9L2085.0,959.8L2088.5,960.1L2091.5,960.7L2094.0,961.5L2096.5,962.5L2100.0,964.7L2103.0,967.5L2105.6,971.0L2107.5,975.0L2108.5,979.0L2108.7,981.0L2108.7,983.5L2108.1,987.5L2106.6,991.5L2105.1,994.0L2103.6,996.0L2102.0,997.7L2099.9,999.5L2097.5,1001.1L2095.0,1002.4L2092.5,1003.5L2089.5,1004.4L2085.0,1005.4L2079.5,1006.2L2046.5,1009.5L2039.0,1010.4L2032.0,1011.9L2021.0,1015.0L2018.5,1015.5L2016.0,1015.7L2013.0,1015.5L2010.5,1015.0L2008.0,1014.2L2005.7,1013.0L1996.0,1006.1L1986.5,1000.9L1983.4,999.0L1980.4,996.5L1979.1,995.0L1978.2,993.5L1977.3,991.0L1977.2,988.5L1977.9,986.0L1979.2,983.5L1981.5,981.0L1983.9,979.0L1987.5,976.6L1992.0,974.2L1999.0,970.8L2005.0,968.3L2011.0,966.1L2017.0,964.3L2023.5,962.7L2030.0,961.4L2036.5,960.6Z M1852.0,979.5L1852.8,978.5L1853.5,978.0L1854.5,977.9L1855.1,978.0L1856.0,978.6L1856.6,979.5L1857.0,980.5L1857.2,982.0L1857.0,983.5L1856.6,984.5L1856.0,985.4L1855.1,986.0L1854.5,986.1L1853.5,986.0L1852.8,985.5L1852.0,984.5 M2056.1,962.5L2078.0,962.7L2085.0,963.0L2088.5,963.6L2091.5,964.4L2094.0,965.4L2096.5,966.8L2099.5,969.2L2101.9,972.0L2103.5,975.0L2104.7,978.5L2105.1,982.0L2104.8,985.5L2103.7,989.0L2102.1,992.0L2100.6,994.0L2099.0,995.7L2097.0,997.4L2095.0,998.7L2092.5,1000.0L2090.0,1001.0L2084.0,1002.6L2077.5,1003.6L2068.0,1004.7L2037.2,1007.0L2022.5,1008.7L2018.5,1008.9L2015.5,1008.7L2013.0,1008.1L2010.5,1007.3L2007.0,1005.6L1993.6,998.5L1990.2,996.5L1987.2,994.0L1986.4,993.0L1985.5,991.5L1985.0,989.5L1985.1,988.5L1985.4,987.0L1986.9,984.5L1989.0,982.3L1992.8,979.5L1997.7,976.5L2003.5,973.4L2009.5,970.7L2014.5,968.8L2019.5,967.2L2025.0,965.8L2030.5,964.6L2036.0,963.8L2042.0,963.1L2048.5,962.7Z M2050.0,965.0L2063.5,964.6L2078.5,965.0L2082.5,965.3L2086.0,965.9L2089.0,966.6L2092.0,967.7L2095.0,969.5L2097.5,971.6L2099.4,974.0L2100.9,977.0L2101.7,980.0L2101.9,983.0L2101.4,986.0L2100.3,989.0L2099.2,991.0L2097.6,993.0L2095.5,994.9L2093.5,996.4L2091.0,997.7L2088.5,998.8L2082.5,1000.5L2074.5,1001.9L2064.0,1002.9L2050.5,1003.5L2031.5,1004.1L2025.0,1004.0L2020.5,1003.7L2016.0,1002.9L2012.0,1001.6L2006.0,999.0L1999.8,995.5L1996.6,993.0L1995.5,991.8L1994.8,990.5L1994.4,989.0L1994.6,987.0L1995.7,985.0L1997.4,983.0L2000.3,980.5L2003.8,978.0L2008.0,975.5L2012.5,973.2L2016.5,971.5L2020.5,970.1L2029.5,967.7L2039.0,966.0Z M2056.4,966.5L2067.5,966.3L2078.5,966.8L2082.0,967.3L2085.5,968.0L2088.5,968.9L2091.0,970.0L2093.5,971.6L2095.6,973.5L2097.1,975.5L2098.4,978.0L2099.0,980.5L2099.1,983.5L2098.7,986.0L2097.7,988.5L2095.6,991.5L2092.5,994.3L2089.0,996.3L2084.5,998.0L2079.0,999.4L2072.5,1000.4L2064.5,1001.1L2055.5,1001.4L2042.0,1001.4L2032.5,1001.2L2026.0,1000.7L2020.5,999.8L2014.7,998.0L2009.5,995.5L2006.0,993.0L2004.6,991.5L2003.6,990.0L2003.1,988.5L2003.2,986.5L2004.1,984.5L2005.6,982.5L2008.2,980.0L2010.9,978.0L2014.3,976.0L2018.0,974.2L2025.5,971.4L2034.5,969.1L2044.5,967.6Z M2057.1,968.0L2067.0,967.7L2076.5,968.2L2080.5,968.7L2084.0,969.5L2087.0,970.4L2089.3,971.5L2091.7,973.0L2093.5,974.7L2095.0,976.6L2096.1,979.0L2096.6,981.0L2096.7,983.5L2096.2,986.0L2095.3,988.0L2093.5,990.6L2090.8,993.0L2087.5,995.0L2083.5,996.6L2079.0,997.8L2073.0,998.9L2067.0,999.5L2060.0,999.7L2050.0,999.6L2037.5,999.0L2030.5,998.4L2025.0,997.4L2020.0,996.0L2015.6,994.0L2014.0,992.9L2012.3,991.5L2011.4,990.5L2010.6,989.0L2010.2,987.5L2010.4,985.5L2011.0,984.0L2012.5,982.0L2014.6,980.0L2016.6,978.5L2019.1,977.0L2022.1,975.5L2028.8,973.0L2036.5,971.0L2047.0,969.1Z M2062.2,969.0L2070.5,969.0L2078.0,969.8L2081.0,970.3L2084.0,971.2L2086.5,972.1L2088.5,973.2L2090.3,974.5L2092.0,976.2L2093.2,978.0L2094.1,980.0L2094.4,982.0L2094.3,984.0L2093.8,986.0L2092.9,988.0L2090.9,990.5L2088.5,992.4L2085.5,994.2L2082.0,995.5L2078.0,996.7L2073.0,997.6L2067.5,998.1L2062.0,998.3L2054.5,998.1L2043.5,997.3L2035.5,996.5L2029.7,995.5L2025.0,994.2L2021.2,992.5L2018.4,990.5L2017.0,988.5L2016.5,987.0L2016.6,985.5L2017.1,984.0L2018.0,982.5L2019.4,981.0L2021.5,979.4L2024.0,977.8L2027.0,976.4L2034.0,973.9L2043.0,971.7L2053.5,969.8Z M2058.3,970.5L2065.5,970.0L2073.0,970.3L2079.5,971.4L2082.5,972.2L2085.0,973.2L2087.3,974.5L2089.0,975.8L2090.5,977.4L2091.4,979.0L2092.0,980.5L2092.3,982.5L2092.1,984.5L2091.5,986.5L2090.0,988.8L2088.0,990.8L2085.5,992.5L2082.0,994.1L2078.5,995.3L2074.0,996.2L2069.0,996.9L2064.0,997.1L2058.0,997.0L2051.0,996.4L2041.5,995.1L2034.5,993.8L2029.9,992.5L2026.6,991.0L2024.4,989.5L2023.5,988.5L2022.9,987.5L2022.6,986.5L2022.7,985.0L2023.0,984.0L2023.9,982.5L2025.4,981.0L2026.7,980.0L2030.2,978.0L2036.0,975.6L2043.1,973.5L2051.0,971.6Z M2059.6,971.5L2066.5,971.1L2073.0,971.4L2079.0,972.5L2081.5,973.3L2084.0,974.3L2086.0,975.5L2087.7,977.0L2089.0,978.5L2089.8,980.0L2090.2,981.5L2090.3,983.0L2090.0,985.0L2089.4,986.5L2088.1,988.5L2086.0,990.4L2083.5,992.0L2080.5,993.4L2077.0,994.5L2073.0,995.3L2069.0,995.8L2064.5,996.0L2059.0,995.8L2053.5,995.2L2047.0,994.1L2040.5,992.7L2036.4,991.5L2032.8,990.0L2030.6,988.5L2029.3,987.0L2029.0,986.0L2028.9,985.0L2029.2,984.0L2029.7,983.0L2031.0,981.5L2032.3,980.5L2035.6,978.5L2041.5,976.0L2047.6,974.0L2054.0,972.4Z M2060.2,972.5L2066.5,972.1L2072.5,972.4L2078.0,973.4L2082.3,975.0L2084.0,976.0L2085.5,977.1L2086.8,978.5L2087.7,980.0L2088.2,981.5L2088.4,983.0L2088.2,984.5L2087.7,986.0L2086.4,988.0L2084.8,989.5L2082.5,991.1L2079.5,992.5L2076.5,993.5L2073.0,994.3L2069.0,994.8L2065.0,995.0L2060.5,994.8L2056.0,994.3L2051.6,993.5L2047.0,992.3L2042.9,991.0L2039.4,989.5L2037.1,988.0L2035.7,986.5L2035.3,985.0L2035.4,984.0L2035.8,983.0L2037.6,981.0L2040.4,979.0L2044.4,977.0L2050.0,974.8L2055.0,973.4Z M2060.5,973.5L2066.0,973.0L2071.5,973.3L2076.5,974.2L2079.0,974.9L2081.0,975.8L2083.0,977.0L2084.2,978.0L2085.1,979.0L2086.0,980.5L2086.4,981.5L2086.5,983.0L2086.4,984.5L2085.8,986.0L2084.8,987.5L2083.0,989.2L2081.0,990.5L2078.5,991.7L2075.5,992.7L2072.5,993.4L2069.0,993.8L2065.5,994.0L2062.0,993.9L2058.0,993.4L2054.5,992.7L2051.0,991.8L2048.0,990.8L2045.2,989.5L2042.9,988.0L2041.4,986.5L2040.8,985.0L2040.7,984.0L2041.0,983.0L2042.5,981.0L2045.0,979.0L2048.6,977.0L2052.3,975.5L2056.5,974.3Z M2065.7,974.0L2070.0,974.1L2074.5,974.7L2078.5,976.0L2081.3,977.5L2083.5,979.5L2084.1,980.5L2084.6,982.0L2084.7,983.0L2084.5,984.5L2083.6,986.5L2082.3,988.0L2081.0,989.1L2079.0,990.2L2076.5,991.3L2074.0,992.0L2071.0,992.6L2068.0,992.9L2065.0,993.0L2059.0,992.4L2056.0,991.8L2053.0,990.9L2050.5,989.9L2048.0,988.5L2046.7,987.5L2045.5,986.0L2045.0,984.5L2045.0,983.5L2045.3,982.5L2046.8,980.5L2049.5,978.5L2053.0,976.7L2057.0,975.3L2061.5,974.4Z M2064.8,975.0L2069.0,975.0L2073.0,975.5L2076.5,976.4L2079.5,977.9L2081.4,979.5L2082.7,981.5L2082.9,982.5L2082.9,984.0L2082.1,986.0L2081.0,987.3L2079.6,988.5L2077.9,989.5L2076.0,990.3L2071.5,991.6L2066.5,992.0L2061.0,991.7L2056.0,990.5L2052.0,988.7L2050.2,987.5L2049.3,986.5L2048.5,985.0L2048.3,984.0L2048.4,983.0L2048.8,982.0L2049.5,981.0L2051.1,979.5L2053.5,978.0L2057.1,976.5L2060.9,975.5Z M2064.6,976.0L2068.5,975.9L2072.0,976.3L2075.5,977.2L2078.0,978.5L2079.8,980.0L2080.5,981.0L2081.0,982.0L2081.1,983.0L2081.0,984.0L2080.5,985.5L2079.8,986.5L2078.7,987.5L2077.3,988.5L2075.5,989.4L2071.7,990.5L2067.5,991.0L2063.0,990.9L2058.5,990.0L2054.9,988.5L2053.4,987.5L2052.3,986.5L2051.4,985.0L2051.2,983.5L2051.4,982.5L2052.0,981.5L2053.4,980.0L2055.6,978.5L2058.0,977.4L2061.3,976.5Z M2064.9,977.0L2068.0,976.9L2071.0,977.2L2074.0,977.9L2076.3,979.0L2078.1,980.5L2079.0,982.0L2079.2,983.0L2079.2,984.0L2078.5,985.5L2077.0,987.1L2074.5,988.5L2071.4,989.5L2067.5,990.0L2064.0,989.9L2060.5,989.2L2057.3,988.0L2055.1,986.5L2054.1,985.0L2053.8,983.5L2054.3,982.0L2055.5,980.5L2057.5,979.1L2059.5,978.2L2062.0,977.5Z M2066.4,978.0L2069.0,978.1L2071.5,978.5L2073.5,979.1L2075.2,980.0L2076.3,981.0L2077.1,982.5L2077.1,984.0L2076.4,985.5L2074.6,987.0L2072.4,988.0L2069.5,988.7L2066.5,988.9L2063.5,988.6L2060.9,988.0L2058.8,987.0L2057.1,985.5L2056.5,984.5L2056.5,983.0L2057.2,981.5L2058.3,980.5L2060.0,979.5L2062.0,978.7L2064.0,978.3Z M2064.6,979.5L2067.0,979.3L2069.0,979.3L2071.0,979.7L2072.5,980.3L2073.6,981.0L2074.5,982.0L2074.9,983.0L2074.6,984.5L2073.8,985.5L2072.5,986.4L2071.0,987.0L2069.0,987.5L2067.0,987.6L2065.0,987.5L2063.0,987.1L2061.5,986.5L2060.1,985.5L2059.3,984.5L2059.1,983.5L2059.4,982.5L2060.2,981.5L2061.5,980.6L2062.8,980.0Z M2066.5,981.0L2068.5,981.0L2070.5,981.7L2071.5,982.5L2071.8,983.5L2071.6,984.0L2070.5,985.1L2069.5,985.5L2068.0,985.8L2065.5,985.7L2063.6,985.0L2062.7,984.0L2062.6,983.5L2063.0,982.5L2064.4,981.5Z" fill="none" stroke="#E8692B" stroke-width="1.25" stroke-linejoin="round" clip-path="url(#cp4)"/>
<rect x="1982.3" y="905.2" width="121.5" height="113.7" fill="none" stroke="#222" stroke-width="1.3" />
<rect x="2065.4" y="1016.5" width="83.0" height="74.9" fill="none" stroke="#222" stroke-width="1.3" />
<rect x="1854.3" y="883.7" width="296.0" height="295.7" fill="none" stroke="#222" stroke-width="1.5" />
<line x1="1848.8" y1="1179.4" x2="1854.3" y2="1179.4" stroke="#1a1a1a" stroke-width="1.4" />
<text font-size="19.6" text-anchor="end" x="1842.3" y="1186.3" >10<tspan font-size="12.2" dy="-8.2">0</tspan></text>
<line x1="1854.3" y1="1179.4" x2="1854.3" y2="1185.4" stroke="#1a1a1a" stroke-width="1.4" />
<text font-size="19.6" text-anchor="middle" x="1855.3" y="1205.8" >10<tspan font-size="12.2" dy="-8.2">0</tspan></text>
<line x1="1848.8" y1="1120.3" x2="1854.3" y2="1120.3" stroke="#1a1a1a" stroke-width="1.4" />
<text font-size="19.6" text-anchor="end" x="1842.3" y="1127.2" >10<tspan font-size="12.2" dy="-8.2">1</tspan></text>
<line x1="1913.5" y1="1179.4" x2="1913.5" y2="1185.4" stroke="#1a1a1a" stroke-width="1.4" />
<text font-size="19.6" text-anchor="middle" x="1914.5" y="1205.8" >10<tspan font-size="12.2" dy="-8.2">1</tspan></text>
<line x1="1848.8" y1="1061.1" x2="1854.3" y2="1061.1" stroke="#1a1a1a" stroke-width="1.4" />
<text font-size="19.6" text-anchor="end" x="1842.3" y="1068.0" >10<tspan font-size="12.2" dy="-8.2">2</tspan></text>
<line x1="1972.7" y1="1179.4" x2="1972.7" y2="1185.4" stroke="#1a1a1a" stroke-width="1.4" />
<text font-size="19.6" text-anchor="middle" x="1973.7" y="1205.8" >10<tspan font-size="12.2" dy="-8.2">2</tspan></text>
<line x1="1848.8" y1="1002.0" x2="1854.3" y2="1002.0" stroke="#1a1a1a" stroke-width="1.4" />
<text font-size="19.6" text-anchor="end" x="1842.3" y="1008.9" >10<tspan font-size="12.2" dy="-8.2">3</tspan></text>
<line x1="2031.9" y1="1179.4" x2="2031.9" y2="1185.4" stroke="#1a1a1a" stroke-width="1.4" />
<text font-size="19.6" text-anchor="middle" x="2032.9" y="1205.8" >10<tspan font-size="12.2" dy="-8.2">3</tspan></text>
<line x1="1848.8" y1="942.9" x2="1854.3" y2="942.9" stroke="#1a1a1a" stroke-width="1.4" />
<text font-size="19.6" text-anchor="end" x="1842.3" y="949.8" >10<tspan font-size="12.2" dy="-8.2">4</tspan></text>
<line x1="2091.1" y1="1179.4" x2="2091.1" y2="1185.4" stroke="#1a1a1a" stroke-width="1.4" />
<text font-size="19.6" text-anchor="middle" x="2092.1" y="1205.8" >10<tspan font-size="12.2" dy="-8.2">4</tspan></text>
<line x1="1848.8" y1="883.8" x2="1854.3" y2="883.8" stroke="#1a1a1a" stroke-width="1.4" />
<text font-size="19.6" text-anchor="end" x="1842.3" y="890.6" >10<tspan font-size="12.2" dy="-8.2">5</tspan></text>
<line x1="2150.3" y1="1179.4" x2="2150.3" y2="1185.4" stroke="#1a1a1a" stroke-width="1.4" />
<text font-size="19.6" text-anchor="middle" x="2151.3" y="1205.8" >10<tspan font-size="12.2" dy="-8.2">5</tspan></text>
<text font-size="19.5" text-anchor="middle" textLength="78.2" lengthAdjust="spacingAndGlyphs" x="1930.6" y="940.8" >Effectors</text>
<text font-size="19.5" text-anchor="middle" textLength="53.5" lengthAdjust="spacingAndGlyphs" x="1930.6" y="963.4" >88.8%</text>
<text font-size="19.5" text-anchor="middle" textLength="35.3" lengthAdjust="spacingAndGlyphs" x="2031.1" y="1054.8" >PCs</text>
<text font-size="19.5" text-anchor="middle" textLength="26.1" lengthAdjust="spacingAndGlyphs" x="2031.1" y="1077.4" >0%</text>
<!-- panels_jl -->
<text font-size="36" font-weight="bold" textLength="11.2" lengthAdjust="spacingAndGlyphs" x="-2.0" y="1313.5" stroke="#000" stroke-width="1.1" stroke-linejoin="round">j</text>
<line x1="78.0" y1="1496.4" x2="78.0" y2="1342.0" stroke="#4A5B76" stroke-width="2" />
<path d="M78.0,1334.0 L83.3,1346.8 L78.0,1343.6 L72.7,1346.8 Z" fill="#4A5B76"/>
<text font-size="22.5" textLength="138.9" lengthAdjust="spacingAndGlyphs" transform="translate(85.2,1643.5) rotate(-90)" >rhBCMA-APC</text>
<text font-size="22.5" textLength="46.2" lengthAdjust="spacingAndGlyphs" x="147.9" y="1705.0" >CD8</text>
<line x1="200.1" y1="1695.5" x2="836.3" y2="1695.5" stroke="#4A5B76" stroke-width="2" />
<path d="M844.3,1695.5 L831.5,1690.2 L834.7,1695.5 L831.5,1700.8 Z" fill="#4A5B76"/>
<path d="M355.1,1514.0L357.5,1513.8L359.5,1514.0L361.5,1514.5L363.5,1515.4L365.5,1516.7L370.9,1521.0L377.0,1525.2L380.0,1527.6L383.4,1531.0L386.2,1535.0L387.3,1537.0L388.3,1539.5L389.4,1544.0L389.5,1546.5L389.4,1549.0L389.1,1551.0L388.4,1553.5L387.4,1556.0L386.3,1558.0L384.9,1560.0L383.0,1562.2L381.0,1564.1L378.5,1566.0L376.5,1567.2L373.5,1568.7L368.0,1570.7L362.5,1571.8L359.0,1572.0L355.5,1572.1L351.5,1571.8L348.0,1571.2L344.5,1570.3L341.0,1569.1L338.0,1567.8L335.0,1566.2L332.5,1564.5L330.0,1562.5L328.0,1560.5L326.0,1558.0L324.5,1555.5L323.4,1553.0L322.6,1550.5L322.1,1548.0L322.0,1545.5L322.1,1542.5L322.6,1540.0L323.3,1537.5L324.4,1535.0L325.8,1532.5L327.6,1530.0L329.4,1528.0L333.0,1524.9L337.0,1522.4L344.0,1519.0L351.0,1515.2L353.0,1514.5Z M355.6,1519.5L357.0,1519.4L358.5,1519.5L361.0,1520.5L366.3,1524.5L373.0,1528.9L376.0,1531.3L378.9,1534.5L380.9,1537.5L382.4,1541.0L383.1,1544.5L383.0,1548.5L382.2,1552.0L380.6,1555.5L379.2,1557.5L377.8,1559.0L374.5,1561.8L370.5,1564.1L366.0,1565.7L361.0,1566.7L355.5,1566.9L350.0,1566.2L344.5,1564.6L342.0,1563.5L339.5,1562.2L335.5,1559.2L333.8,1557.5L332.2,1555.5L330.9,1553.5L330.0,1551.5L329.3,1549.5L328.8,1547.0L328.7,1545.0L328.8,1542.5L329.8,1538.5L330.6,1536.5L331.8,1534.5L334.5,1531.2L337.5,1528.6L340.5,1526.7L348.3,1523.0L353.0,1520.4Z M353.4,1525.0L356.5,1524.5L359.0,1524.9L363.0,1526.6L369.5,1530.2L372.7,1532.5L375.2,1535.0L377.3,1538.0L378.7,1541.0L379.4,1544.0L379.5,1547.5L378.9,1550.5L377.6,1553.5L375.5,1556.5L373.0,1558.8L370.0,1560.8L366.5,1562.4L364.0,1563.1L361.5,1563.6L356.5,1564.0L351.5,1563.5L346.5,1562.1L342.0,1559.9L340.0,1558.6L338.1,1557.0L336.5,1555.3L335.1,1553.5L333.4,1550.0L332.8,1548.0L332.5,1546.0L332.4,1544.0L332.6,1542.0L333.1,1540.0L333.9,1538.0L336.1,1534.5L339.0,1531.6L342.5,1529.2L347.0,1527.2Z M352.7,1528.0L356.0,1527.7L359.0,1528.0L362.5,1529.1L366.0,1530.7L369.5,1532.9L372.0,1535.0L374.1,1537.5L375.6,1540.0L376.6,1543.0L377.0,1546.0L376.6,1549.0L375.8,1551.5L374.3,1554.0L372.5,1556.1L370.0,1558.1L367.0,1559.8L362.5,1561.2L358.0,1561.8L353.5,1561.6L349.0,1560.6L346.5,1559.7L344.5,1558.7L341.2,1556.5L338.3,1553.5L336.4,1550.5L335.3,1547.0L335.2,1543.5L335.9,1540.0L336.8,1538.0L337.7,1536.5L338.9,1535.0L340.4,1533.5L343.5,1531.3L348.0,1529.2Z M352.9,1530.0L356.0,1529.8L359.0,1530.2L362.0,1531.0L365.0,1532.2L367.9,1534.0L370.3,1536.0L372.1,1538.0L373.6,1540.5L374.4,1543.0L374.8,1545.5L374.6,1548.0L373.9,1550.5L372.8,1552.5L371.0,1554.7L369.0,1556.4L366.5,1557.9L363.0,1559.3L359.0,1560.0L354.5,1560.0L350.5,1559.2L346.5,1557.7L343.0,1555.5L340.5,1553.0L338.6,1550.0L337.6,1547.0L337.4,1545.5L337.4,1543.5L337.7,1541.5L338.2,1540.0L339.9,1537.0L342.3,1534.5L345.5,1532.3L349.0,1530.9Z M351.1,1532.0L354.0,1531.6L356.5,1531.5L359.0,1531.9L362.0,1532.7L364.5,1533.8L367.0,1535.3L368.9,1537.0L370.6,1539.0L371.8,1541.0L372.6,1543.5L372.9,1546.0L372.6,1548.0L372.0,1550.0L370.9,1552.0L369.5,1553.7L367.5,1555.4L364.5,1557.0L361.0,1558.1L357.5,1558.5L353.5,1558.3L350.0,1557.4L346.5,1555.8L343.9,1554.0L341.6,1551.5L340.2,1549.0L339.4,1546.0L339.4,1543.0L340.3,1540.0L342.0,1537.3L344.5,1535.0L347.5,1533.2Z M351.3,1533.5L353.5,1533.1L356.0,1533.0L358.5,1533.3L361.0,1533.9L363.5,1534.9L365.5,1536.1L367.5,1537.8L369.0,1539.5L369.9,1541.0L370.7,1543.0L371.0,1545.0L371.0,1547.0L370.5,1549.0L369.5,1551.0L368.3,1552.5L366.6,1554.0L364.0,1555.6L361.0,1556.6L358.0,1557.0L354.5,1556.9L351.0,1556.2L348.0,1554.9L345.5,1553.2L343.4,1551.0L341.9,1548.5L341.2,1546.0L341.2,1543.0L342.0,1540.5L343.5,1538.2L345.5,1536.2L348.0,1534.7Z M353.8,1534.5L356.0,1534.4L358.5,1534.7L360.5,1535.2L362.5,1536.0L364.5,1537.2L366.0,1538.4L367.4,1540.0L368.3,1541.5L369.0,1543.0L369.3,1545.0L369.2,1547.0L368.9,1548.5L368.1,1550.0L367.0,1551.5L365.4,1553.0L363.5,1554.2L361.0,1555.1L358.0,1555.6L355.0,1555.6L352.0,1555.0L349.4,1554.0L347.0,1552.5L345.0,1550.5L343.7,1548.5L343.1,1546.5L342.9,1544.0L343.5,1541.5L344.5,1539.5L346.4,1537.5L348.5,1536.1L351.0,1535.1Z M353.2,1536.0L355.0,1535.8L357.0,1535.9L359.0,1536.2L361.0,1536.9L363.0,1537.9L364.4,1539.0L365.5,1540.1L366.5,1541.5L367.2,1543.0L367.6,1544.5L367.6,1546.0L367.4,1547.5L366.8,1549.0L366.0,1550.2L364.8,1551.5L363.5,1552.4L361.5,1553.4L359.0,1554.1L356.5,1554.3L354.0,1554.1L351.5,1553.4L349.5,1552.4L347.5,1550.9L345.9,1549.0L344.9,1547.0L344.6,1545.0L344.8,1543.0L345.5,1541.0L346.6,1539.5L348.5,1537.8L350.5,1536.8Z M353.1,1537.5L355.0,1537.2L356.5,1537.3L359.5,1537.9L361.0,1538.5L362.5,1539.4L364.6,1541.5L365.2,1542.5L365.7,1544.0L365.9,1545.5L365.8,1546.5L365.3,1548.0L364.8,1549.0L364.0,1550.0L362.8,1551.0L361.0,1552.0L359.0,1552.6L357.0,1552.9L354.5,1552.7L352.5,1552.2L350.5,1551.2L348.8,1550.0L347.6,1548.5L346.8,1547.0L346.4,1545.5L346.5,1543.5L347.0,1542.0L347.9,1540.5L349.5,1539.1L351.0,1538.2Z M353.6,1539.0L356.5,1538.8L359.0,1539.3L361.2,1540.5L362.8,1542.0L363.8,1544.0L363.9,1546.0L363.2,1548.0L362.5,1549.0L361.5,1549.8L360.0,1550.7L358.5,1551.1L357.0,1551.3L355.0,1551.2L353.0,1550.7L351.6,1550.0L350.3,1549.0L349.4,1548.0L348.8,1547.0L348.4,1545.5L348.4,1544.0L348.8,1542.5L349.5,1541.5L350.5,1540.5L352.0,1539.6Z" fill="none" stroke="#1a1a1a" stroke-width="1.5" stroke-linejoin="round" clip-path="url(#cp5)"/>
<text font-size="22.5" text-anchor="middle" textLength="123.4" lengthAdjust="spacingAndGlyphs" x="296.8" y="1314.0" >Unmodified</text>
<rect x="147.4" y="1336.5" width="308.7" height="308.3" fill="none" stroke="#222" stroke-width="1.5" />
<line x1="141.6" y1="1336.5" x2="147.4" y2="1336.5" stroke="#1a1a1a" stroke-width="1.4" />
<text font-size="19.6" text-anchor="end" x="133.4" y="1343.4" >10<tspan font-size="12.2" dy="-8.2">6</tspan></text>
<line x1="141.6" y1="1393.6" x2="147.4" y2="1393.6" stroke="#1a1a1a" stroke-width="1.4" />
<text font-size="19.6" text-anchor="end" x="133.4" y="1400.5" >10<tspan font-size="12.2" dy="-8.2">5</tspan></text>
<line x1="141.6" y1="1458.8" x2="147.4" y2="1458.8" stroke="#1a1a1a" stroke-width="1.4" />
<text font-size="19.6" text-anchor="end" x="133.4" y="1465.7" >10<tspan font-size="12.2" dy="-8.2">4</tspan></text>
<line x1="141.6" y1="1644.8" x2="147.4" y2="1644.8" stroke="#1a1a1a" stroke-width="1.4" />
<text font-size="19.6" text-anchor="end" x="133.4" y="1651.7" >10<tspan font-size="12.2" dy="-8.2">−4</tspan></text>
<line x1="141.6" y1="1552.7" x2="147.4" y2="1552.7" stroke="#1a1a1a" stroke-width="1.4" />
<text font-size="19.6" text-anchor="end" x="133.4" y="1560.0" >0</text>
<line x1="147.4" y1="1644.8" x2="147.4" y2="1651.2" stroke="#1a1a1a" stroke-width="1.4" />
<text font-size="19.6" text-anchor="middle" x="148.4" y="1671.9" >10<tspan font-size="12.2" dy="-8.2">2</tspan></text>
<line x1="208.6" y1="1644.8" x2="208.6" y2="1651.2" stroke="#1a1a1a" stroke-width="1.4" />
<text font-size="19.6" text-anchor="middle" x="209.6" y="1671.9" >10<tspan font-size="12.2" dy="-8.2">3</tspan></text>
<line x1="269.8" y1="1644.8" x2="269.8" y2="1651.2" stroke="#1a1a1a" stroke-width="1.4" />
<text font-size="19.6" text-anchor="middle" x="270.8" y="1671.9" >10<tspan font-size="12.2" dy="-8.2">4</tspan></text>
<line x1="331.0" y1="1644.8" x2="331.0" y2="1651.2" stroke="#1a1a1a" stroke-width="1.4" />
<text font-size="19.6" text-anchor="middle" x="332.0" y="1671.9" >10<tspan font-size="12.2" dy="-8.2">5</tspan></text>
<line x1="392.2" y1="1644.8" x2="392.2" y2="1651.2" stroke="#1a1a1a" stroke-width="1.4" />
<text font-size="19.6" text-anchor="middle" x="393.2" y="1671.9" >10<tspan font-size="12.2" dy="-8.2">6</tspan></text>
<line x1="456.1" y1="1644.8" x2="456.1" y2="1651.2" stroke="#1a1a1a" stroke-width="1.4" />
<text font-size="19.6" text-anchor="middle" x="457.1" y="1671.9" >10<tspan font-size="12.2" dy="-8.2">7</tspan></text>
<line x1="290.2" y1="1337.5" x2="290.2" y2="1644.8" stroke="#333" stroke-width="1.4" />
<line x1="148.4" y1="1495.9" x2="455.1" y2="1495.9" stroke="#333" stroke-width="1.4" />
<text font-size="19.5" textLength="25.5" lengthAdjust="spacingAndGlyphs" x="152.5" y="1357.8" >Q1</text>
<text font-size="19.5" textLength="42.1" lengthAdjust="spacingAndGlyphs" x="152.5" y="1380.5" >0.0%</text>
<text font-size="19.5" text-anchor="end" textLength="25.5" lengthAdjust="spacingAndGlyphs" x="450.7" y="1357.8" >Q2</text>
<text font-size="19.5" text-anchor="end" textLength="42.1" lengthAdjust="spacingAndGlyphs" x="450.7" y="1380.5" >0.0%</text>
<text font-size="19.5" textLength="25.5" lengthAdjust="spacingAndGlyphs" x="152.5" y="1612.1" >Q3</text>
<text font-size="19.5" textLength="42.1" lengthAdjust="spacingAndGlyphs" x="152.5" y="1634.1" >0.0%</text>
<text font-size="19.5" text-anchor="end" textLength="25.5" lengthAdjust="spacingAndGlyphs" x="451.5" y="1612.1" >Q4</text>
<text font-size="19.5" text-anchor="end" textLength="64.9" lengthAdjust="spacingAndGlyphs" x="451.5" y="1634.1" >100.0%</text>
<path d="M751.8,1395.0L755.5,1394.8L759.0,1395.5L762.0,1396.9L763.5,1398.0L765.0,1399.4L767.3,1402.5L769.2,1406.5L770.1,1410.5L770.5,1415.0L770.4,1420.5L769.6,1427.0L768.3,1433.5L766.7,1439.0L759.3,1460.0L756.7,1465.0L751.9,1472.0L750.5,1474.5L749.3,1477.5L748.7,1481.0L748.6,1484.5L749.2,1493.0L749.2,1498.0L748.8,1503.5L747.6,1511.0L747.5,1512.5L747.7,1514.0L748.6,1516.0L753.7,1521.5L755.0,1523.5L756.1,1525.5L757.2,1529.0L757.4,1532.0L757.2,1535.0L756.2,1540.0L756.3,1542.0L757.2,1543.5L761.0,1546.8L762.9,1549.0L764.4,1552.0L765.0,1555.0L765.1,1557.0L764.7,1559.0L763.9,1561.0L763.0,1562.4L761.9,1563.5L760.5,1564.5L759.0,1565.1L757.0,1565.4L754.5,1565.1L752.0,1564.0L749.5,1562.2L746.0,1558.8L744.5,1557.7L743.0,1556.9L738.0,1555.0L736.4,1554.0L734.8,1552.5L732.8,1549.5L731.3,1545.5L730.6,1542.0L729.5,1533.0L728.6,1530.0L727.8,1529.0L727.0,1528.4L721.5,1526.4L720.0,1525.7L718.5,1524.6L717.5,1523.5L716.4,1522.0L715.8,1520.5L715.4,1518.5L715.7,1516.0L716.8,1513.5L718.0,1512.0L719.0,1511.1L723.0,1508.7L723.8,1508.0L724.5,1506.8L724.7,1505.0L724.0,1496.0L723.4,1492.5L722.4,1490.0L719.5,1485.0L718.1,1482.0L716.9,1478.5L716.1,1474.5L715.7,1468.5L716.3,1459.0L716.3,1455.0L715.8,1451.5L714.2,1444.0L713.8,1439.5L714.0,1435.0L714.8,1431.0L715.7,1428.5L716.6,1426.5L718.0,1424.5L719.5,1422.8L721.0,1421.6L722.5,1420.7L728.5,1418.2L730.0,1417.1L731.0,1416.2L733.0,1413.5L738.3,1404.5L740.2,1402.0L742.0,1400.1L744.0,1398.4L746.5,1396.8L749.0,1395.7Z M751.9,1397.0L754.0,1396.8L756.5,1397.0L759.0,1397.8L761.0,1398.8L763.0,1400.3L764.5,1401.9L765.9,1404.0L766.9,1406.0L767.8,1408.5L768.3,1411.0L768.7,1416.5L768.1,1424.0L766.7,1432.0L764.9,1438.5L761.5,1447.8L758.9,1456.0L757.2,1460.0L755.6,1463.0L754.0,1465.4L748.3,1472.0L746.5,1474.5L744.9,1477.5L743.5,1481.0L742.9,1483.5L742.8,1485.5L743.2,1487.5L744.6,1493.5L744.9,1496.0L745.0,1498.5L744.8,1501.0L744.4,1503.5L743.6,1506.0L742.8,1508.0L741.7,1510.0L740.5,1511.6L738.5,1513.4L736.5,1514.2L733.0,1514.3L732.4,1514.5L732.0,1515.0L731.3,1518.5L730.8,1520.0L729.8,1521.5L728.8,1522.5L727.5,1523.4L726.0,1524.0L724.5,1524.3L722.5,1524.2L721.0,1523.7L720.0,1523.1L719.0,1522.3L718.1,1521.0L717.6,1520.0L717.3,1518.5L717.4,1517.0L717.8,1515.5L719.0,1513.8L721.0,1512.4L722.5,1511.8L724.0,1511.5L728.5,1511.5L729.1,1511.0L729.2,1510.0L727.7,1504.5L727.0,1501.5L726.7,1498.5L726.5,1492.5L726.1,1490.5L725.2,1488.5L722.0,1484.2L720.4,1481.5L718.9,1478.0L718.1,1474.5L717.7,1471.5L717.6,1468.0L718.2,1458.5L718.2,1455.0L717.8,1451.5L716.3,1444.0L715.9,1441.0L715.9,1437.0L716.4,1433.5L717.1,1431.0L718.0,1429.0L719.3,1427.0L720.5,1425.6L722.0,1424.4L723.5,1423.5L728.0,1421.8L729.5,1421.0L730.8,1420.0L732.0,1418.8L734.0,1415.9L739.1,1406.5L740.9,1404.0L742.5,1402.1L744.5,1400.3L747.0,1398.7L749.5,1397.6Z M742.0,1520.0L743.5,1519.8L745.5,1519.9L747.5,1520.3L749.5,1521.2L751.5,1522.7L752.8,1524.0L753.9,1525.5L754.8,1527.5L755.5,1530.5L755.6,1533.5L755.0,1536.5L753.2,1541.5L753.1,1542.5L753.1,1543.5L753.5,1544.3L754.2,1545.0L758.5,1547.5L760.7,1549.5L762.3,1552.0L762.8,1553.5L763.1,1555.0L762.9,1557.5L762.3,1559.5L761.0,1561.3L759.0,1562.6L757.5,1563.0L755.5,1563.0L753.5,1562.4L752.0,1561.5L749.5,1559.0L746.5,1554.7L745.5,1553.6L744.0,1552.7L740.7,1551.5L739.0,1550.5L737.5,1549.0L736.1,1546.5L735.3,1543.5L735.0,1539.5L735.2,1533.5L735.9,1528.5L737.0,1525.0L738.4,1522.5L740.0,1520.9Z M750.6,1399.0L752.5,1398.6L754.5,1398.6L756.5,1398.8L758.5,1399.5L760.5,1400.6L762.0,1401.8L763.2,1403.0L764.5,1404.9L766.1,1408.5L766.7,1411.0L766.9,1413.0L767.0,1418.0L766.3,1425.0L765.2,1431.0L763.9,1436.0L760.0,1447.1L757.4,1455.5L755.8,1459.5L754.0,1462.5L752.2,1465.0L746.3,1471.0L744.0,1473.7L741.0,1478.5L738.7,1483.0L738.3,1484.5L738.2,1486.0L738.7,1487.5L740.7,1491.5L741.6,1494.0L742.1,1497.5L741.9,1500.5L741.1,1503.5L739.5,1506.2L738.5,1507.1L737.5,1507.8L736.5,1508.1L735.0,1508.2L734.0,1507.9L733.0,1507.4L731.5,1506.1L730.2,1504.0L729.5,1502.0L729.0,1500.0L728.8,1498.0L728.9,1495.5L729.4,1490.5L729.4,1489.0L729.0,1488.0L728.0,1486.5L724.5,1483.3L722.6,1481.0L721.0,1478.0L719.9,1474.5L719.4,1471.5L719.2,1468.0L719.8,1457.5L719.8,1453.5L719.5,1450.0L718.0,1441.5L717.8,1438.5L718.0,1436.0L718.6,1433.5L719.3,1431.5L720.2,1430.0L721.5,1428.3L722.5,1427.4L724.0,1426.5L728.5,1424.7L729.9,1424.0L731.2,1423.0L732.5,1421.6L735.0,1417.8L740.0,1408.0L741.3,1406.0L742.8,1404.0L744.5,1402.3L746.5,1400.8L748.5,1399.7Z M721.6,1514.5L723.5,1514.1L725.0,1514.4L726.0,1515.0L727.0,1516.3L727.3,1518.0L727.0,1519.5L726.3,1520.5L725.0,1521.5L723.5,1521.9L722.0,1521.7L720.5,1520.7L719.6,1519.5L719.3,1518.0L719.6,1516.5L720.5,1515.3Z M743.9,1523.5L745.5,1523.1L747.5,1523.2L749.5,1524.0L751.0,1525.1L752.2,1526.5L753.3,1528.5L753.8,1530.5L753.9,1532.5L753.6,1534.5L753.0,1536.5L752.0,1538.6L750.5,1540.9L748.5,1543.2L747.0,1544.6L745.0,1545.7L743.5,1546.0L742.0,1545.7L741.0,1545.1L740.1,1544.0L739.6,1543.0L738.7,1539.5L738.3,1534.5L738.8,1530.5L739.8,1527.5L740.7,1526.0L741.6,1525.0L742.5,1524.3Z M753.4,1548.5L755.5,1548.7L757.5,1549.5L759.2,1551.0L760.5,1553.0L761.0,1555.5L760.7,1557.5L760.2,1558.5L759.5,1559.4L758.0,1560.4L756.0,1560.7L754.5,1560.3L753.5,1559.8L751.6,1558.0L750.2,1555.5L749.6,1553.0L749.7,1551.5L750.0,1550.5L750.5,1549.7L751.4,1549.0Z M750.7,1400.5L753.0,1400.1L755.0,1400.2L757.0,1400.6L759.0,1401.5L760.5,1402.5L762.0,1404.0L763.4,1406.0L764.4,1408.0L765.4,1412.0L765.6,1417.0L764.7,1425.0L763.3,1432.5L761.8,1437.5L758.6,1446.5L756.2,1455.0L754.7,1458.5L753.4,1461.0L751.9,1463.0L750.2,1465.0L744.7,1470.0L742.8,1472.0L738.0,1478.6L735.5,1481.5L734.0,1482.7L733.0,1483.2L731.5,1483.5L730.0,1483.3L728.5,1482.8L727.0,1482.0L725.5,1480.9L724.5,1479.8L723.5,1478.5L722.5,1476.5L721.2,1472.5L720.8,1469.5L720.8,1466.5L721.3,1457.0L721.4,1453.0L721.1,1449.0L720.0,1440.5L720.0,1438.0L720.4,1435.5L721.5,1432.7L723.2,1430.5L725.0,1429.3L730.0,1427.2L731.5,1426.1L733.0,1424.4L736.0,1419.4L740.7,1409.5L742.2,1407.0L743.8,1405.0L745.3,1403.5L747.0,1402.2L749.0,1401.1Z M733.6,1491.5L735.0,1491.1L736.0,1491.3L737.0,1492.0L738.5,1493.9L739.4,1496.5L739.4,1499.0L738.7,1501.5L737.5,1503.3L736.0,1504.1L734.5,1504.0L733.0,1503.0L732.0,1501.5L731.3,1499.5L731.2,1497.5L731.5,1495.0L732.5,1492.7Z M745.3,1526.0L746.5,1525.8L747.5,1525.8L749.0,1526.4L750.0,1527.1L751.0,1528.4L751.6,1529.5L752.0,1531.0L752.0,1532.5L751.8,1534.0L751.3,1535.5L750.5,1537.0L749.7,1538.0L748.5,1539.1L747.5,1539.7L746.0,1540.2L745.0,1540.3L743.5,1539.9L742.5,1539.0L742.0,1538.2L741.2,1536.0L740.9,1533.5L741.2,1531.0L742.2,1528.5L743.5,1527.0Z M754.4,1552.5L755.0,1552.3L756.0,1552.4L757.0,1553.0L757.5,1553.6L757.9,1554.5L757.9,1555.5L757.6,1556.5L757.0,1557.0L756.5,1557.2L755.5,1557.2L754.5,1556.7L753.9,1556.0L753.5,1555.0L753.4,1554.0L753.8,1553.0Z M752.3,1402.0L754.0,1401.9L756.0,1402.3L757.9,1403.0L759.4,1404.0L760.9,1405.5L762.0,1407.0L762.7,1408.5L763.4,1410.5L763.9,1414.5L763.7,1419.0L762.3,1428.5L760.7,1435.0L757.4,1444.5L754.3,1455.5L753.0,1458.5L751.5,1461.0L748.5,1464.3L741.3,1470.5L737.0,1475.5L735.0,1477.5L733.5,1478.5L732.0,1479.2L730.5,1479.4L729.0,1479.2L727.0,1478.1L726.0,1477.3L725.0,1476.0L723.6,1473.0L722.8,1469.5L722.6,1465.0L723.3,1451.5L723.0,1441.0L723.5,1437.5L724.1,1436.0L725.2,1434.5L726.5,1433.5L729.5,1431.9L731.0,1430.9L732.5,1429.4L733.5,1428.1L735.0,1425.6L737.0,1421.8L742.0,1410.5L743.2,1408.5L744.5,1406.7L746.1,1405.0L748.0,1403.5L750.0,1402.6Z M746.2,1530.5L747.0,1530.4L747.5,1530.5L748.1,1531.0L748.5,1532.0L748.2,1533.5L747.5,1534.4L747.0,1534.6L745.9,1534.5L745.4,1534.0L745.0,1533.0L745.3,1531.5L745.6,1531.0Z M751.4,1404.5L753.5,1404.3L755.5,1404.6L757.0,1405.2L758.7,1406.5L759.9,1408.0L760.9,1410.0L761.5,1412.0L761.8,1414.5L761.4,1419.5L759.5,1430.5L758.3,1435.0L755.2,1444.0L752.9,1454.0L751.9,1456.5L750.5,1459.0L749.0,1461.0L747.0,1463.0L739.6,1468.5L734.0,1473.4L732.5,1474.2L731.5,1474.5L730.5,1474.5L729.5,1474.3L728.0,1473.4L726.6,1471.5L725.7,1469.0L725.2,1466.0L725.2,1461.0L725.6,1452.0L726.2,1447.0L727.0,1443.5L727.8,1441.5L728.6,1440.0L733.0,1435.0L735.0,1431.9L740.0,1421.0L743.4,1412.5L745.0,1409.5L746.5,1407.6L748.0,1406.2L749.5,1405.2Z M751.8,1406.5L753.5,1406.4L755.0,1406.6L756.5,1407.4L757.8,1408.5L758.8,1410.0L759.4,1411.5L759.8,1413.5L759.9,1415.5L759.5,1419.5L757.4,1430.5L756.3,1434.5L753.6,1442.5L752.0,1451.0L751.2,1454.0L750.2,1456.5L748.7,1459.0L747.0,1460.9L745.0,1462.6L734.0,1469.4L732.0,1470.0L730.5,1469.8L729.4,1469.0L728.5,1467.5L727.7,1465.0L727.3,1462.0L727.2,1457.5L727.4,1453.0L727.9,1449.5L728.7,1446.5L730.4,1443.0L735.0,1437.0L737.0,1433.6L742.2,1421.0L744.8,1414.0L746.0,1411.4L747.3,1409.5L748.5,1408.2L750.0,1407.2Z M752.4,1408.5L753.6,1408.5L755.0,1408.9L756.0,1409.6L756.8,1410.5L757.4,1411.5L757.9,1413.0L758.1,1416.0L757.7,1419.0L755.2,1431.0L751.8,1442.0L750.7,1450.5L749.8,1454.0L748.7,1456.5L747.5,1458.3L746.0,1459.9L744.0,1461.5L741.0,1463.3L736.5,1465.2L734.0,1465.9L732.5,1465.8L731.5,1465.3L730.4,1464.0L729.6,1462.0L729.1,1459.5L728.9,1456.5L729.0,1453.5L729.4,1450.5L730.1,1448.0L731.0,1446.0L732.0,1444.2L737.0,1438.0L738.8,1435.0L744.2,1421.5L746.3,1415.0L747.5,1412.4L748.4,1411.0L749.5,1409.9L751.0,1408.9Z M751.1,1411.5L752.0,1411.1L753.0,1411.0L754.5,1411.6L755.2,1412.5L755.7,1413.5L756.0,1416.0L755.7,1418.0L754.2,1424.0L752.9,1431.0L750.1,1440.5L749.8,1443.0L749.5,1449.5L748.6,1453.5L747.8,1455.5L746.5,1457.5L745.0,1459.1L743.0,1460.6L740.5,1461.9L738.0,1462.7L736.0,1463.1L734.0,1462.9L733.0,1462.4L732.0,1461.4L731.3,1460.0L730.7,1458.0L730.5,1456.0L730.5,1453.5L730.8,1451.0L731.4,1449.0L732.2,1447.0L733.5,1444.9L738.7,1439.0L740.8,1436.0L746.3,1422.5L748.5,1415.0L749.6,1413.0Z M747.9,1429.0L748.5,1428.6L749.0,1428.9L749.2,1430.5L749.0,1431.6L747.8,1435.5L747.4,1437.5L747.4,1440.0L748.0,1445.5L748.2,1448.5L747.9,1451.5L747.1,1454.0L746.1,1456.0L745.0,1457.4L743.5,1458.7L742.0,1459.6L740.0,1460.5L738.0,1461.0L736.5,1461.0L735.0,1460.7L734.0,1460.0L733.1,1459.0L732.5,1457.7L732.1,1456.0L732.0,1452.5L732.9,1449.0L734.2,1446.5L736.0,1444.3L742.5,1438.5L744.3,1436.5L745.2,1435.0L747.0,1430.3Z M741.4,1442.5L743.0,1442.2L744.0,1442.4L745.0,1443.2L745.8,1444.5L746.4,1446.5L746.7,1448.5L746.7,1450.5L746.3,1452.5L745.8,1454.0L744.9,1455.5L744.0,1456.6L742.5,1457.8L741.0,1458.6L739.5,1459.1L738.0,1459.2L736.5,1459.0L734.9,1458.0L734.2,1457.0L733.8,1456.0L733.4,1453.5L733.8,1450.5L734.9,1448.0L736.5,1445.9L739.0,1443.8Z M739.8,1445.5L741.0,1445.1L742.0,1445.0L743.0,1445.3L744.0,1446.1L744.6,1447.0L745.1,1448.5L745.2,1450.0L745.1,1451.5L744.2,1454.0L743.5,1455.0L742.5,1456.0L740.5,1457.1L739.0,1457.4L738.0,1457.3L736.5,1456.6L735.6,1455.5L735.1,1454.0L735.1,1452.0L735.6,1450.0L736.5,1448.4L738.0,1446.7Z M739.8,1448.0L740.5,1447.8L741.5,1447.8L742.5,1448.4L743.2,1449.5L743.3,1451.0L743.0,1452.5L742.0,1454.0L740.5,1455.0L739.0,1455.2L738.0,1454.7L737.5,1454.2L737.0,1453.0L737.0,1452.0L737.4,1450.5L738.0,1449.5L738.9,1448.5Z" fill="none" stroke="#E8692B" stroke-width="1.25" stroke-linejoin="round" clip-path="url(#cp6)"/>
<text font-size="22.5" text-anchor="middle" textLength="66.9" lengthAdjust="spacingAndGlyphs" x="682.8" y="1314.0" >DC-08</text>
<rect x="535.7" y="1336.5" width="308.7" height="308.3" fill="none" stroke="#222" stroke-width="1.5" />
<line x1="529.9" y1="1336.5" x2="535.7" y2="1336.5" stroke="#1a1a1a" stroke-width="1.4" />
<text font-size="19.6" text-anchor="end" x="521.7" y="1343.4" >10<tspan font-size="12.2" dy="-8.2">6</tspan></text>
<line x1="529.9" y1="1393.6" x2="535.7" y2="1393.6" stroke="#1a1a1a" stroke-width="1.4" />
<text font-size="19.6" text-anchor="end" x="521.7" y="1400.5" >10<tspan font-size="12.2" dy="-8.2">5</tspan></text>
<line x1="529.9" y1="1458.8" x2="535.7" y2="1458.8" stroke="#1a1a1a" stroke-width="1.4" />
<text font-size="19.6" text-anchor="end" x="521.7" y="1465.7" >10<tspan font-size="12.2" dy="-8.2">4</tspan></text>
<line x1="529.9" y1="1644.8" x2="535.7" y2="1644.8" stroke="#1a1a1a" stroke-width="1.4" />
<text font-size="19.6" text-anchor="end" x="521.7" y="1651.7" >10<tspan font-size="12.2" dy="-8.2">−4</tspan></text>
<line x1="529.9" y1="1552.7" x2="535.7" y2="1552.7" stroke="#1a1a1a" stroke-width="1.4" />
<text font-size="19.6" text-anchor="end" x="521.7" y="1560.0" >0</text>
<line x1="535.7" y1="1644.8" x2="535.7" y2="1651.2" stroke="#1a1a1a" stroke-width="1.4" />
<text font-size="19.6" text-anchor="middle" x="536.7" y="1671.9" >10<tspan font-size="12.2" dy="-8.2">2</tspan></text>
<line x1="596.9" y1="1644.8" x2="596.9" y2="1651.2" stroke="#1a1a1a" stroke-width="1.4" />
<text font-size="19.6" text-anchor="middle" x="597.9" y="1671.9" >10<tspan font-size="12.2" dy="-8.2">3</tspan></text>
<line x1="658.1" y1="1644.8" x2="658.1" y2="1651.2" stroke="#1a1a1a" stroke-width="1.4" />
<text font-size="19.6" text-anchor="middle" x="659.1" y="1671.9" >10<tspan font-size="12.2" dy="-8.2">4</tspan></text>
<line x1="719.3" y1="1644.8" x2="719.3" y2="1651.2" stroke="#1a1a1a" stroke-width="1.4" />
<text font-size="19.6" text-anchor="middle" x="720.3" y="1671.9" >10<tspan font-size="12.2" dy="-8.2">5</tspan></text>
<line x1="780.5" y1="1644.8" x2="780.5" y2="1651.2" stroke="#1a1a1a" stroke-width="1.4" />
<text font-size="19.6" text-anchor="middle" x="781.5" y="1671.9" >10<tspan font-size="12.2" dy="-8.2">6</tspan></text>
<line x1="844.4" y1="1644.8" x2="844.4" y2="1651.2" stroke="#1a1a1a" stroke-width="1.4" />
<text font-size="19.6" text-anchor="middle" x="845.4" y="1671.9" >10<tspan font-size="12.2" dy="-8.2">7</tspan></text>
<line x1="678.5" y1="1337.5" x2="678.5" y2="1644.8" stroke="#333" stroke-width="1.4" />
<line x1="536.7" y1="1495.9" x2="843.4" y2="1495.9" stroke="#333" stroke-width="1.4" />
<text font-size="19.5" textLength="25.5" lengthAdjust="spacingAndGlyphs" x="540.8" y="1357.8" >Q1</text>
<text font-size="19.5" textLength="42.1" lengthAdjust="spacingAndGlyphs" x="540.8" y="1380.5" >0.0%</text>
<text font-size="19.5" text-anchor="end" textLength="25.5" lengthAdjust="spacingAndGlyphs" x="839.0" y="1357.8" >Q2</text>
<text font-size="19.5" text-anchor="end" textLength="53.5" lengthAdjust="spacingAndGlyphs" x="839.0" y="1380.5" >80.3%</text>
<text font-size="19.5" textLength="25.5" lengthAdjust="spacingAndGlyphs" x="540.8" y="1612.1" >Q3</text>
<text font-size="19.5" textLength="42.1" lengthAdjust="spacingAndGlyphs" x="540.8" y="1634.1" >0.0%</text>
<text font-size="19.5" text-anchor="end" textLength="25.5" lengthAdjust="spacingAndGlyphs" x="839.8" y="1612.1" >Q4</text>
<text font-size="19.5" text-anchor="end" textLength="53.5" lengthAdjust="spacingAndGlyphs" x="839.8" y="1634.1" >19.7%</text>
<text font-size="36" font-weight="bold" textLength="22.4" lengthAdjust="spacingAndGlyphs" x="1118.0" y="1313.8" stroke="#000" stroke-width="1.1" stroke-linejoin="round">k</text>
<text font-size="22.5" text-anchor="middle" textLength="209.5" lengthAdjust="spacingAndGlyphs" transform="translate(1137.7,1480.0) rotate(-90)" >CAR expression (%)</text>
<rect x="1394.6" y="1385.9" width="93.7" height="259.1" fill="#F5B08F" stroke="#E8692B" stroke-width="1.4" />
<line x1="1253.2" y1="1644.6" x2="1347.5" y2="1644.6" stroke="#333" stroke-width="1.8" />
<line x1="1205.6" y1="1313.6" x2="1205.6" y2="1645.0" stroke="#1a1a1a" stroke-width="1.5" />
<line x1="1196.4" y1="1645.0" x2="1536.8" y2="1645.0" stroke="#333" stroke-width="1.5" />
<line x1="1196.4" y1="1314.3" x2="1205.6" y2="1314.3" stroke="#1a1a1a" stroke-width="1.5" />
<text font-size="19.6" text-anchor="end" textLength="34.4" lengthAdjust="spacingAndGlyphs" x="1186.7" y="1322.4" >100</text>
<line x1="1196.4" y1="1380.6" x2="1205.6" y2="1380.6" stroke="#1a1a1a" stroke-width="1.5" />
<text font-size="19.6" text-anchor="end" textLength="23.0" lengthAdjust="spacingAndGlyphs" x="1186.7" y="1388.7" >80</text>
<line x1="1196.4" y1="1446.6" x2="1205.6" y2="1446.6" stroke="#1a1a1a" stroke-width="1.5" />
<text font-size="19.6" text-anchor="end" textLength="23.0" lengthAdjust="spacingAndGlyphs" x="1186.7" y="1454.7" >60</text>
<line x1="1196.4" y1="1512.8" x2="1205.6" y2="1512.8" stroke="#1a1a1a" stroke-width="1.5" />
<text font-size="19.6" text-anchor="end" textLength="23.0" lengthAdjust="spacingAndGlyphs" x="1186.7" y="1520.9" >40</text>
<line x1="1196.4" y1="1578.8" x2="1205.6" y2="1578.8" stroke="#1a1a1a" stroke-width="1.5" />
<text font-size="19.6" text-anchor="end" textLength="23.0" lengthAdjust="spacingAndGlyphs" x="1186.7" y="1586.9" >20</text>
<line x1="1196.4" y1="1645.0" x2="1205.6" y2="1645.0" stroke="#1a1a1a" stroke-width="1.5" />
<text font-size="19.6" text-anchor="end" x="1186.7" y="1653.1" >0</text>
<line x1="1299.8" y1="1645.0" x2="1299.8" y2="1654.5" stroke="#1a1a1a" stroke-width="1.5" />
<line x1="1441.4" y1="1645.0" x2="1441.4" y2="1654.5" stroke="#1a1a1a" stroke-width="1.5" />
<circle cx="1280.7" cy="1645.0" r="3" fill="#666" stroke="none" stroke-width="0" />
<circle cx="1290.4" cy="1645.0" r="3" fill="#666" stroke="none" stroke-width="0" />
<circle cx="1299.8" cy="1645.0" r="3" fill="#666" stroke="none" stroke-width="0" />
<circle cx="1309.5" cy="1645.0" r="3" fill="#666" stroke="none" stroke-width="0" />
<circle cx="1319.2" cy="1645.0" r="3" fill="#666" stroke="none" stroke-width="0" />
<line x1="1441.4" y1="1380.6" x2="1441.4" y2="1390.3" stroke="#E8692B" stroke-width="1.3" />
<line x1="1417.9" y1="1380.6" x2="1464.9" y2="1380.6" stroke="#E8692B" stroke-width="1.3" />
<line x1="1417.9" y1="1390.3" x2="1464.9" y2="1390.3" stroke="#E8692B" stroke-width="1.3" />
<circle cx="1441.4" cy="1369.0" r="3.2" fill="#E8692B" stroke="none" stroke-width="0" />
<circle cx="1441.4" cy="1380.9" r="3.2" fill="#E8692B" stroke="none" stroke-width="0" />
<circle cx="1436.7" cy="1390.0" r="3.2" fill="#E8692B" stroke="none" stroke-width="0" />
<circle cx="1446.4" cy="1390.9" r="3.2" fill="#E8692B" stroke="none" stroke-width="0" />
<circle cx="1441.4" cy="1397.0" r="3.2" fill="#E8692B" stroke="none" stroke-width="0" />
<text font-size="19.6" text-anchor="end" textLength="101.0" lengthAdjust="spacingAndGlyphs" transform="translate(1311.0,1673.5) rotate(-45)" >Unmodified</text>
<text font-size="19.6" text-anchor="end" textLength="114.8" lengthAdjust="spacingAndGlyphs" transform="translate(1452.5,1672.0) rotate(-45)" >DC-08 mRNA</text>
<text font-size="36" font-weight="bold" textLength="11.2" lengthAdjust="spacingAndGlyphs" x="1619.0" y="1313.8" stroke="#000" stroke-width="1.1" stroke-linejoin="round">l</text>
<text font-size="22.5" text-anchor="middle" textLength="229.8" lengthAdjust="spacingAndGlyphs" transform="translate(1638.2,1480.0) rotate(-90)" >CAR expression (MFI)</text>
<rect x="1785.4" y="1634.5" width="93.4" height="11.1" fill="#5C5C5C" stroke="#222" stroke-width="1.4" />
<rect x="1926.8" y="1357.3" width="93.6" height="288.3" fill="#F5B08F" stroke="#E8692B" stroke-width="1.4" />
<line x1="1737.7" y1="1314.2" x2="1737.7" y2="1645.6" stroke="#1a1a1a" stroke-width="1.5" />
<line x1="1728.6" y1="1645.6" x2="2068.7" y2="1645.6" stroke="#333" stroke-width="1.5" />
<line x1="1728.6" y1="1314.9" x2="1737.7" y2="1314.9" stroke="#1a1a1a" stroke-width="1.5" />
<text font-size="19.6" text-anchor="end" textLength="62.0" lengthAdjust="spacingAndGlyphs" x="1717.8" y="1323.0" >12,000</text>
<line x1="1728.6" y1="1370.1" x2="1737.7" y2="1370.1" stroke="#1a1a1a" stroke-width="1.5" />
<text font-size="19.6" text-anchor="end" textLength="62.0" lengthAdjust="spacingAndGlyphs" x="1717.8" y="1378.2" >10,000</text>
<line x1="1728.6" y1="1425.2" x2="1737.7" y2="1425.2" stroke="#1a1a1a" stroke-width="1.5" />
<text font-size="19.6" text-anchor="end" textLength="50.5" lengthAdjust="spacingAndGlyphs" x="1717.8" y="1433.3" >8,000</text>
<line x1="1728.6" y1="1480.4" x2="1737.7" y2="1480.4" stroke="#1a1a1a" stroke-width="1.5" />
<text font-size="19.6" text-anchor="end" textLength="50.5" lengthAdjust="spacingAndGlyphs" x="1717.8" y="1488.5" >6,000</text>
<line x1="1728.6" y1="1535.3" x2="1737.7" y2="1535.3" stroke="#1a1a1a" stroke-width="1.5" />
<text font-size="19.6" text-anchor="end" textLength="50.5" lengthAdjust="spacingAndGlyphs" x="1717.8" y="1543.4" >4,000</text>
<line x1="1728.6" y1="1590.4" x2="1737.7" y2="1590.4" stroke="#1a1a1a" stroke-width="1.5" />
<text font-size="19.6" text-anchor="end" textLength="50.5" lengthAdjust="spacingAndGlyphs" x="1717.8" y="1598.5" >2,000</text>
<line x1="1728.6" y1="1645.6" x2="1737.7" y2="1645.6" stroke="#1a1a1a" stroke-width="1.5" />
<text font-size="19.6" text-anchor="end" x="1717.8" y="1653.7" >0</text>
<line x1="1832.0" y1="1645.6" x2="1832.0" y2="1655.3" stroke="#1a1a1a" stroke-width="1.5" />
<line x1="1973.6" y1="1645.6" x2="1973.6" y2="1655.3" stroke="#1a1a1a" stroke-width="1.5" />
<line x1="1808.1" y1="1632.6" x2="1855.8" y2="1632.6" stroke="#555" stroke-width="1.2" />
<circle cx="1817.5" cy="1630.3" r="3.1" fill="#3a3a3a" stroke="none" stroke-width="0" />
<circle cx="1827.2" cy="1632.8" r="3.1" fill="#3a3a3a" stroke="none" stroke-width="0" />
<circle cx="1817.5" cy="1637.0" r="3.1" fill="#3a3a3a" stroke="none" stroke-width="0" />
<circle cx="1836.7" cy="1635.0" r="3.1" fill="#3a3a3a" stroke="none" stroke-width="0" />
<circle cx="1846.4" cy="1633.7" r="3.1" fill="#3a3a3a" stroke="none" stroke-width="0" />
<line x1="1973.6" y1="1348.4" x2="1973.6" y2="1365.4" stroke="#E8692B" stroke-width="1.3" />
<line x1="1949.9" y1="1348.4" x2="1997.3" y2="1348.4" stroke="#E8692B" stroke-width="1.3" />
<line x1="1949.9" y1="1365.4" x2="1997.3" y2="1365.4" stroke="#E8692B" stroke-width="1.3" />
<circle cx="1973.6" cy="1330.1" r="3.2" fill="#E8692B" stroke="none" stroke-width="0" />
<circle cx="1973.6" cy="1349.6" r="3.2" fill="#E8692B" stroke="none" stroke-width="0" />
<circle cx="1968.9" cy="1359.3" r="3.2" fill="#E8692B" stroke="none" stroke-width="0" />
<circle cx="1978.3" cy="1363.4" r="3.2" fill="#E8692B" stroke="none" stroke-width="0" />
<circle cx="1973.6" cy="1382.0" r="3.2" fill="#E8692B" stroke="none" stroke-width="0" />
<text font-size="19.6" text-anchor="end" textLength="101.0" lengthAdjust="spacingAndGlyphs" transform="translate(1843.0,1674.5) rotate(-45)" >Unmodified</text>
<text font-size="19.6" text-anchor="end" textLength="114.8" lengthAdjust="spacingAndGlyphs" transform="translate(1985.0,1673.0) rotate(-45)" >DC-08 mRNA</text>
<!-- panels_mn -->
<text font-size="36" font-weight="bold" textLength="35.9" lengthAdjust="spacingAndGlyphs" x="0.0" y="1827.2" stroke="#000" stroke-width="1.1" stroke-linejoin="round">m</text>
<line x1="212.2" y1="1850.0" x2="212.2" y2="2216.4" stroke="#1a1a1a" stroke-width="1.5" />
<line x1="200.6" y1="2216.4" x2="662.4" y2="2216.4" stroke="#1a1a1a" stroke-width="1.5" />
<line x1="200.6" y1="1850.7" x2="212.2" y2="1850.7" stroke="#1a1a1a" stroke-width="1.5" />
<text font-size="19.6" text-anchor="end" x="191.5" y="1858.9" >10<tspan font-size="12.2" dy="-8.2">9</tspan></text>
<line x1="200.6" y1="1972.6" x2="212.2" y2="1972.6" stroke="#1a1a1a" stroke-width="1.5" />
<text font-size="19.6" text-anchor="end" x="191.5" y="1980.8" >10<tspan font-size="12.2" dy="-8.2">8</tspan></text>
<line x1="200.6" y1="2094.5" x2="212.2" y2="2094.5" stroke="#1a1a1a" stroke-width="1.5" />
<text font-size="19.6" text-anchor="end" x="191.5" y="2102.7" >10<tspan font-size="12.2" dy="-8.2">7</tspan></text>
<line x1="200.6" y1="2216.4" x2="212.2" y2="2216.4" stroke="#1a1a1a" stroke-width="1.5" />
<text font-size="19.6" text-anchor="end" x="191.5" y="2224.6" >10<tspan font-size="12.2" dy="-8.2">6</tspan></text>
<line x1="257.0" y1="2216.4" x2="257.0" y2="2228.4" stroke="#1a1a1a" stroke-width="1.5" />
<text font-size="19.6" text-anchor="middle" x="257.0" y="2251.2" >6</text>
<line x1="347.1" y1="2216.4" x2="347.1" y2="2228.4" stroke="#1a1a1a" stroke-width="1.5" />
<text font-size="19.6" text-anchor="middle" x="347.1" y="2251.2" >8</text>
<line x1="437.1" y1="2216.4" x2="437.1" y2="2228.4" stroke="#1a1a1a" stroke-width="1.5" />
<text font-size="19.6" text-anchor="middle" textLength="23.0" lengthAdjust="spacingAndGlyphs" x="437.1" y="2251.2" >10</text>
<line x1="527.1" y1="2216.4" x2="527.1" y2="2228.4" stroke="#1a1a1a" stroke-width="1.5" />
<text font-size="19.6" text-anchor="middle" textLength="23.0" lengthAdjust="spacingAndGlyphs" x="527.1" y="2251.2" >12</text>
<line x1="617.2" y1="2216.4" x2="617.2" y2="2228.4" stroke="#1a1a1a" stroke-width="1.5" />
<text font-size="19.6" text-anchor="middle" textLength="23.0" lengthAdjust="spacingAndGlyphs" x="617.2" y="2251.2" >14</text>
<text font-size="22.5" text-anchor="middle" textLength="42.2" lengthAdjust="spacingAndGlyphs" x="437.0" y="2282.2" >Day</text>
<text font-size="22.5" text-anchor="middle" transform="translate(147.8,2033.7) rotate(-90)" >Flux (p s<tspan font-size="14" dy="-9">−1</tspan><tspan dy="9">)</tspan></text>
<line x1="257.0" y1="2089.3" x2="257.0" y2="2108.4" stroke="#E8692B" stroke-width="1.2" />
<line x1="252.5" y1="2089.3" x2="261.5" y2="2089.3" stroke="#E8692B" stroke-width="1.2" />
<line x1="252.5" y1="2108.4" x2="261.5" y2="2108.4" stroke="#E8692B" stroke-width="1.2" />
<line x1="346.9" y1="2127.8" x2="346.9" y2="2140.3" stroke="#E8692B" stroke-width="1.2" />
<line x1="342.4" y1="2127.8" x2="351.4" y2="2127.8" stroke="#E8692B" stroke-width="1.2" />
<line x1="342.4" y1="2140.3" x2="351.4" y2="2140.3" stroke="#E8692B" stroke-width="1.2" />
<line x1="571.9" y1="2132.8" x2="571.9" y2="2144.8" stroke="#E8692B" stroke-width="1.2" />
<line x1="567.4" y1="2132.8" x2="576.4" y2="2132.8" stroke="#E8692B" stroke-width="1.2" />
<line x1="567.4" y1="2144.8" x2="576.4" y2="2144.8" stroke="#E8692B" stroke-width="1.2" />
<line x1="257.0" y1="2098.0" x2="257.0" y2="2109.0" stroke="#1a1a1a" stroke-width="1.2" />
<line x1="252.5" y1="2098.0" x2="261.5" y2="2098.0" stroke="#1a1a1a" stroke-width="1.2" />
<line x1="252.5" y1="2109.0" x2="261.5" y2="2109.0" stroke="#1a1a1a" stroke-width="1.2" />
<line x1="346.9" y1="2075.0" x2="346.9" y2="2087.0" stroke="#1a1a1a" stroke-width="1.2" />
<line x1="342.4" y1="2075.0" x2="351.4" y2="2075.0" stroke="#1a1a1a" stroke-width="1.2" />
<line x1="342.4" y1="2087.0" x2="351.4" y2="2087.0" stroke="#1a1a1a" stroke-width="1.2" />
<line x1="571.9" y1="1973.1" x2="571.9" y2="1986.6" stroke="#1a1a1a" stroke-width="1.4" />
<line x1="567.4" y1="1973.1" x2="576.4" y2="1973.1" stroke="#1a1a1a" stroke-width="1.4" />
<line x1="567.4" y1="1986.6" x2="576.4" y2="1986.6" stroke="#1a1a1a" stroke-width="1.4" />
<line x1="257.0" y1="2094.9" x2="257.0" y2="2117.3" stroke="#A8A8A8" stroke-width="1.2" />
<line x1="252.5" y1="2094.9" x2="261.5" y2="2094.9" stroke="#A8A8A8" stroke-width="1.2" />
<line x1="252.5" y1="2117.3" x2="261.5" y2="2117.3" stroke="#A8A8A8" stroke-width="1.2" />
<line x1="346.9" y1="2071.3" x2="346.9" y2="2092.8" stroke="#A8A8A8" stroke-width="1.2" />
<line x1="342.4" y1="2071.3" x2="351.4" y2="2071.3" stroke="#A8A8A8" stroke-width="1.2" />
<line x1="342.4" y1="2092.8" x2="351.4" y2="2092.8" stroke="#A8A8A8" stroke-width="1.2" />
<line x1="437.0" y1="2009.0" x2="437.0" y2="2021.8" stroke="#A8A8A8" stroke-width="1.2" />
<line x1="432.5" y1="2009.0" x2="441.5" y2="2009.0" stroke="#A8A8A8" stroke-width="1.2" />
<line x1="432.5" y1="2021.8" x2="441.5" y2="2021.8" stroke="#A8A8A8" stroke-width="1.2" />
<line x1="571.9" y1="1937.3" x2="571.9" y2="1954.0" stroke="#A8A8A8" stroke-width="1.2" />
<line x1="567.4" y1="1937.3" x2="576.4" y2="1937.3" stroke="#A8A8A8" stroke-width="1.2" />
<line x1="567.4" y1="1954.0" x2="576.4" y2="1954.0" stroke="#A8A8A8" stroke-width="1.2" />
<path d="M257.0,2100.3 L346.9,2134.0 L437.0,2159.1 L571.9,2139.1" fill="none" stroke="#E8692B" stroke-width="1.5" />
<circle cx="257.0" cy="2100.3" r="4.9" fill="#E8692B" stroke="none" stroke-width="0" />
<circle cx="346.9" cy="2134.0" r="4.9" fill="#E8692B" stroke="none" stroke-width="0" />
<circle cx="437.0" cy="2159.1" r="4.9" fill="#E8692B" stroke="none" stroke-width="0" />
<circle cx="571.9" cy="2139.1" r="4.9" fill="#E8692B" stroke="none" stroke-width="0" />
<path d="M257.0,2103.3 L346.9,2080.9 L437.0,2027.8 L571.9,1980.0" fill="none" stroke="#111" stroke-width="1.5" />
<circle cx="257.0" cy="2103.3" r="4.9" fill="#000" stroke="none" stroke-width="0" />
<circle cx="346.9" cy="2080.9" r="4.9" fill="#000" stroke="none" stroke-width="0" />
<circle cx="437.0" cy="2027.8" r="4.9" fill="#000" stroke="none" stroke-width="0" />
<circle cx="571.9" cy="1980.0" r="4.9" fill="#000" stroke="none" stroke-width="0" />
<path d="M257.0,2105.4 L346.9,2081.8 L437.0,2015.2 L571.9,1945.7" fill="none" stroke="#A8A8A8" stroke-width="1.4" />
<circle cx="257.0" cy="2105.4" r="4.9" fill="#A8A8A8" stroke="none" stroke-width="0" />
<circle cx="346.9" cy="2081.8" r="4.9" fill="#A8A8A8" stroke="none" stroke-width="0" />
<circle cx="437.0" cy="2015.2" r="4.9" fill="#A8A8A8" stroke="none" stroke-width="0" />
<circle cx="571.9" cy="1945.7" r="4.9" fill="#A8A8A8" stroke="none" stroke-width="0" />
<path d="M592.5,1940.3 H609 V1974.3 H592.5" fill="none" stroke="#222" stroke-width="1.3" />
<path d="M592.5,1984.8 H609 V2139.1 H592.5" fill="none" stroke="#222" stroke-width="1.3" />
<path d="M627.5,1939.7 H741.5 V2139.1 H627.5" fill="none" stroke="#222" stroke-width="1.3" />
<text font-size="19.6" x="617.6" y="1965.2" ><tspan font-style="italic">P</tspan> = 0.030</text>
<text font-size="19.6" x="617.6" y="2069.0" ><tspan font-style="italic">P</tspan> &lt; 0.001</text>
<text font-size="19.6" x="750.4" y="2048.2" ><tspan font-style="italic">P</tspan> &lt; 0.001</text>
<line x1="775.8" y1="1829.6" x2="807.8" y2="1829.6" stroke="#A8A8A8" stroke-width="1.4" />
<circle cx="791.9" cy="1829.6" r="4.9" fill="#A8A8A8" stroke="none" stroke-width="0" />
<text font-size="19.6" textLength="100.4" lengthAdjust="spacingAndGlyphs" x="820.6" y="1836.8" >MM.1S only</text>
<line x1="775.8" y1="1869.6" x2="807.8" y2="1869.6" stroke="#000" stroke-width="1.4" />
<circle cx="791.9" cy="1869.6" r="4.9" fill="#000" stroke="none" stroke-width="0" />
<text font-size="19.6" textLength="96.5" lengthAdjust="spacingAndGlyphs" x="820.6" y="1876.8" >Unmodifed</text>
<line x1="775.8" y1="1910.1" x2="807.8" y2="1910.1" stroke="#E8692B" stroke-width="1.4" />
<circle cx="791.9" cy="1910.1" r="4.9" fill="#E8692B" stroke="none" stroke-width="0" />
<text font-size="19.6" textLength="114.8" lengthAdjust="spacingAndGlyphs" x="820.6" y="1917.3" >DC-08 mRNA</text>
<text font-size="36" font-weight="bold" textLength="24.6" lengthAdjust="spacingAndGlyphs" x="1118.0" y="1827.3" stroke="#000" stroke-width="1.1" stroke-linejoin="round">n</text>
<text font-size="22.5" text-anchor="middle" textLength="122.6" lengthAdjust="spacingAndGlyphs" x="1309.2" y="1827.3" >MM.1S only</text>
<text font-size="22.5" text-anchor="middle" textLength="123.4" lengthAdjust="spacingAndGlyphs" x="1552.6" y="1827.3" >Unmodified</text>
<text font-size="22.5" text-anchor="middle" textLength="66.9" lengthAdjust="spacingAndGlyphs" x="1795.0" y="1827.0" >DC-08</text>
<text font-size="22.5" text-anchor="middle" textLength="61.9" lengthAdjust="spacingAndGlyphs" transform="translate(1177.7,1910.3) rotate(-90)" >Day 8</text>
<text font-size="22.5" text-anchor="middle" textLength="75.9" lengthAdjust="spacingAndGlyphs" transform="translate(1177.7,2059.2) rotate(-90)" >Day 10</text>
<text font-size="22.5" text-anchor="middle" textLength="75.9" lengthAdjust="spacingAndGlyphs" transform="translate(1177.7,2206.3) rotate(-90)" >Day 13</text>
<g clip-path="url(#cp7)">
<rect x="1189.9" y="1839.1" width="237.3" height="142.3" fill="#2a2a2a" stroke="none" stroke-width="0" />
<rect x="1189.2" y="1839.1" width="3.6" height="27" fill="#0e0e0e"/><rect x="1193.4" y="1839.1" width="0.8" height="142.3" fill="#303030"/><rect x="1197.2" y="1839.1" width="3.6" height="27" fill="#0e0e0e"/><rect x="1201.4" y="1839.1" width="0.8" height="142.3" fill="#303030"/><rect x="1205.2" y="1839.1" width="3.6" height="27" fill="#0e0e0e"/><rect x="1209.4" y="1839.1" width="0.8" height="142.3" fill="#303030"/><rect x="1237.2" y="1839.1" width="3.6" height="27" fill="#0e0e0e"/><rect x="1241.4" y="1839.1" width="0.8" height="142.3" fill="#303030"/><rect x="1245.2" y="1839.1" width="3.6" height="27" fill="#0e0e0e"/><rect x="1249.4" y="1839.1" width="0.8" height="142.3" fill="#303030"/><rect x="1253.2" y="1839.1" width="3.6" height="27" fill="#0e0e0e"/><rect x="1257.4" y="1839.1" width="0.8" height="142.3" fill="#303030"/><rect x="1281.8" y="1839.1" width="3.6" height="27" fill="#0e0e0e"/><rect x="1286.0" y="1839.1" width="0.8" height="142.3" fill="#303030"/><rect x="1289.8" y="1839.1" width="3.6" height="27" fill="#0e0e0e"/><rect x="1294.0" y="1839.1" width="0.8" height="142.3" fill="#303030"/><rect x="1297.8" y="1839.1" width="3.6" height="27" fill="#0e0e0e"/><rect x="1302.0" y="1839.1" width="0.8" height="142.3" fill="#303030"/><rect x="1327.1" y="1839.1" width="3.6" height="27" fill="#0e0e0e"/><rect x="1331.3" y="1839.1" width="0.8" height="142.3" fill="#303030"/><rect x="1335.1" y="1839.1" width="3.6" height="27" fill="#0e0e0e"/><rect x="1339.3" y="1839.1" width="0.8" height="142.3" fill="#303030"/><rect x="1343.1" y="1839.1" width="3.6" height="27" fill="#0e0e0e"/><rect x="1347.3" y="1839.1" width="0.8" height="142.3" fill="#303030"/><rect x="1371.8" y="1839.1" width="3.6" height="27" fill="#0e0e0e"/><rect x="1376.0" y="1839.1" width="0.8" height="142.3" fill="#303030"/><rect x="1379.8" y="1839.1" width="3.6" height="27" fill="#0e0e0e"/><rect x="1384.0" y="1839.1" width="0.8" height="142.3" fill="#303030"/><rect x="1387.8" y="1839.1" width="3.6" height="27" fill="#0e0e0e"/><rect x="1392.0" y="1839.1" width="0.8" height="142.3" fill="#303030"/><rect x="1416.4" y="1839.1" width="3.6" height="27" fill="#0e0e0e"/><rect x="1420.6" y="1839.1" width="0.8" height="142.3" fill="#303030"/><rect x="1424.4" y="1839.1" width="3.6" height="27" fill="#0e0e0e"/><rect x="1428.6" y="1839.1" width="0.8" height="142.3" fill="#303030"/><rect x="1432.4" y="1839.1" width="3.6" height="27" fill="#0e0e0e"/><rect x="1436.6" y="1839.1" width="0.8" height="142.3" fill="#303030"/>
<g filter="url(#msoft)">
<use href="#mouse" transform="translate(1225.0,1841.8) scale(0.1333)"/>
<use href="#mouse" transform="translate(1269.0,1839.1) scale(0.1333)"/>
<use href="#mouse" transform="translate(1314.3,1836.4) scale(0.1333)"/>
<use href="#mouse" transform="translate(1359.6,1839.1) scale(0.1333)"/>
<use href="#mouse" transform="translate(1403.6,1839.1) scale(0.1333)"/>
</g>
<g filter="url(#speck)"><ellipse cx="1311.6" cy="1899.0" rx="2.0" ry="10.7" fill="#6a12ff"/><ellipse cx="1358.2" cy="1895.0" rx="8.0" ry="17.3" fill="#6a12ff"/><ellipse cx="1370.2" cy="1892.3" rx="3.3" ry="6.7" fill="#6a12ff"/><ellipse cx="1399.6" cy="1880.3" rx="5.3" ry="6.7" fill="#6a12ff"/><ellipse cx="1411.5" cy="1888.3" rx="2.7" ry="10.7" fill="#6a12ff"/></g>
<g filter="url(#rough)"><ellipse cx="1205.7" cy="1938.3" rx="3.7" ry="6.0" fill="#6a12ff"/><ellipse cx="1205.7" cy="1938.3" rx="3.4" ry="5.4" fill="#1420ff"/><ellipse cx="1237.0" cy="1942.9" rx="6.5" ry="8.6" fill="#6a12ff"/><ellipse cx="1237.0" cy="1942.9" rx="5.9" ry="7.8" fill="#1420ff"/><ellipse cx="1237.0" cy="1942.9" rx="3.6" ry="4.8" fill="#0a78ff"/><ellipse cx="1217.0" cy="1905.6" rx="1.3" ry="4.0" fill="#6a12ff"/><ellipse cx="1250.3" cy="1933.6" rx="1.9" ry="3.3" fill="#6a12ff"/><ellipse cx="1283.6" cy="1939.6" rx="3.7" ry="5.3" fill="#6a12ff"/><ellipse cx="1283.6" cy="1939.6" rx="3.4" ry="4.8" fill="#1420ff"/><ellipse cx="1264.3" cy="1903.0" rx="1.6" ry="2.7" fill="#6a12ff"/><ellipse cx="1295.6" cy="1933.6" rx="4.1" ry="8.6" fill="#6a12ff"/><ellipse cx="1295.6" cy="1933.6" rx="3.7" ry="7.8" fill="#1420ff"/><ellipse cx="1295.6" cy="1933.6" rx="2.2" ry="4.8" fill="#0a78ff"/><ellipse cx="1325.6" cy="1937.6" rx="4.0" ry="6.7" fill="#6a12ff"/><ellipse cx="1325.6" cy="1937.6" rx="3.6" ry="6.0" fill="#1420ff"/><ellipse cx="1312.9" cy="1881.0" rx="2.0" ry="2.7" fill="#6a12ff"/><ellipse cx="1342.9" cy="1932.3" rx="6.5" ry="11.0" fill="#6a12ff"/><ellipse cx="1342.9" cy="1932.3" rx="5.9" ry="9.9" fill="#1420ff"/><ellipse cx="1342.9" cy="1932.3" rx="3.6" ry="6.1" fill="#0a78ff"/><ellipse cx="1371.6" cy="1940.3" rx="8.9" ry="13.4" fill="#6a12ff"/><ellipse cx="1371.6" cy="1940.3" rx="8.3" ry="12.4" fill="#1420ff"/><ellipse cx="1371.6" cy="1940.3" rx="7.5" ry="11.2" fill="#0a78ff"/><ellipse cx="1371.6" cy="1940.3" rx="4.0" ry="6.0" fill="#00d8f8"/><ellipse cx="1387.6" cy="1928.9" rx="6.5" ry="10.2" fill="#6a12ff"/><ellipse cx="1387.6" cy="1928.9" rx="6.0" ry="9.5" fill="#1420ff"/><ellipse cx="1387.6" cy="1928.9" rx="5.5" ry="8.6" fill="#0a78ff"/><ellipse cx="1387.6" cy="1928.9" rx="2.9" ry="4.6" fill="#00d8f8"/><ellipse cx="1414.2" cy="1936.3" rx="8.1" ry="11.8" fill="#6a12ff"/><ellipse cx="1414.2" cy="1936.3" rx="7.6" ry="11.0" fill="#1420ff"/><ellipse cx="1414.2" cy="1936.3" rx="6.8" ry="9.9" fill="#0a78ff"/><ellipse cx="1414.2" cy="1936.3" rx="4.1" ry="5.9" fill="#00d8f8"/><ellipse cx="1414.2" cy="1936.3" rx="3.3" ry="4.7" fill="#28f070"/><ellipse cx="1403.6" cy="1899.0" rx="10.7" ry="12.7" fill="#6a12ff"/><ellipse cx="1403.6" cy="1899.0" rx="9.6" ry="11.4" fill="#1420ff"/></g>
</g>
<g clip-path="url(#cp8)">
<rect x="1189.9" y="1988.0" width="237.3" height="142.5" fill="#2a2a2a" stroke="none" stroke-width="0" />
<rect x="1185.9" y="1988.0" width="3.6" height="27" fill="#0e0e0e"/><rect x="1190.1" y="1988.0" width="0.8" height="142.5" fill="#303030"/><rect x="1193.9" y="1988.0" width="3.6" height="27" fill="#0e0e0e"/><rect x="1198.1" y="1988.0" width="0.8" height="142.5" fill="#303030"/><rect x="1201.9" y="1988.0" width="3.6" height="27" fill="#0e0e0e"/><rect x="1206.1" y="1988.0" width="0.8" height="142.5" fill="#303030"/><rect x="1230.5" y="1988.0" width="3.6" height="27" fill="#0e0e0e"/><rect x="1234.7" y="1988.0" width="0.8" height="142.5" fill="#303030"/><rect x="1238.5" y="1988.0" width="3.6" height="27" fill="#0e0e0e"/><rect x="1242.7" y="1988.0" width="0.8" height="142.5" fill="#303030"/><rect x="1246.5" y="1988.0" width="3.6" height="27" fill="#0e0e0e"/><rect x="1250.7" y="1988.0" width="0.8" height="142.5" fill="#303030"/><rect x="1275.2" y="1988.0" width="3.6" height="27" fill="#0e0e0e"/><rect x="1279.4" y="1988.0" width="0.8" height="142.5" fill="#303030"/><rect x="1283.1" y="1988.0" width="3.6" height="27" fill="#0e0e0e"/><rect x="1287.3" y="1988.0" width="0.8" height="142.5" fill="#303030"/><rect x="1291.1" y="1988.0" width="3.6" height="27" fill="#0e0e0e"/><rect x="1295.3" y="1988.0" width="0.8" height="142.5" fill="#303030"/><rect x="1321.1" y="1988.0" width="3.6" height="27" fill="#0e0e0e"/><rect x="1325.3" y="1988.0" width="0.8" height="142.5" fill="#303030"/><rect x="1329.1" y="1988.0" width="3.6" height="27" fill="#0e0e0e"/><rect x="1333.3" y="1988.0" width="0.8" height="142.5" fill="#303030"/><rect x="1337.1" y="1988.0" width="3.6" height="27" fill="#0e0e0e"/><rect x="1341.3" y="1988.0" width="0.8" height="142.5" fill="#303030"/><rect x="1367.8" y="1988.0" width="3.6" height="27" fill="#0e0e0e"/><rect x="1372.0" y="1988.0" width="0.8" height="142.5" fill="#303030"/><rect x="1375.8" y="1988.0" width="3.6" height="27" fill="#0e0e0e"/><rect x="1380.0" y="1988.0" width="0.8" height="142.5" fill="#303030"/><rect x="1383.8" y="1988.0" width="3.6" height="27" fill="#0e0e0e"/><rect x="1388.0" y="1988.0" width="0.8" height="142.5" fill="#303030"/><rect x="1415.1" y="1988.0" width="3.6" height="27" fill="#0e0e0e"/><rect x="1419.3" y="1988.0" width="0.8" height="142.5" fill="#303030"/><rect x="1423.1" y="1988.0" width="3.6" height="27" fill="#0e0e0e"/><rect x="1427.3" y="1988.0" width="0.8" height="142.5" fill="#303030"/><rect x="1431.1" y="1988.0" width="3.6" height="27" fill="#0e0e0e"/><rect x="1435.3" y="1988.0" width="0.8" height="142.5" fill="#303030"/>
<g filter="url(#msoft)">
<use href="#mouse" transform="translate(1218.3,1996.0) scale(0.1333)"/>
<use href="#mouse" transform="translate(1262.3,1988.0) scale(0.1333)"/>
<use href="#mouse" transform="translate(1307.6,1986.7) scale(0.1333)"/>
<use href="#mouse" transform="translate(1354.2,1988.0) scale(0.1333)"/>
<use href="#mouse" transform="translate(1400.9,1986.7) scale(0.1333)"/>
</g>
<g filter="url(#speck)"><ellipse cx="1217.0" cy="2045.6" rx="13.3" ry="21.3" fill="#6a12ff"/><ellipse cx="1218.3" cy="2100.3" rx="14.7" ry="8.0" fill="#6a12ff"/><ellipse cx="1261.0" cy="2040.3" rx="14.7" ry="23.3" fill="#6a12ff"/><ellipse cx="1261.0" cy="2093.6" rx="17.3" ry="10.7" fill="#6a12ff"/><ellipse cx="1306.3" cy="2031.0" rx="16.7" ry="26.0" fill="#6a12ff"/><ellipse cx="1306.3" cy="2092.3" rx="14.7" ry="9.3" fill="#6a12ff"/><ellipse cx="1354.2" cy="2039.0" rx="16.0" ry="21.3" fill="#6a12ff"/><ellipse cx="1351.6" cy="2093.6" rx="14.7" ry="9.3" fill="#6a12ff"/><ellipse cx="1400.9" cy="2031.0" rx="16.7" ry="31.3" fill="#6a12ff"/><ellipse cx="1396.9" cy="2093.6" rx="14.7" ry="9.3" fill="#6a12ff"/></g>
<g filter="url(#rough)"><ellipse cx="1217.0" cy="2045.6" rx="7.4" ry="11.9" fill="#1420ff"/><ellipse cx="1217.0" cy="2045.6" rx="2.5" ry="4.0" fill="#0a78ff"/><ellipse cx="1201.0" cy="2098.9" rx="9.8" ry="14.9" fill="#6a12ff"/><ellipse cx="1201.0" cy="2098.9" rx="9.1" ry="13.9" fill="#1420ff"/><ellipse cx="1201.0" cy="2098.9" rx="8.2" ry="12.5" fill="#00d8f8"/><ellipse cx="1201.0" cy="2098.9" rx="5.6" ry="8.5" fill="#28f070"/><ellipse cx="1201.0" cy="2098.9" rx="2.9" ry="4.5" fill="#e8f000"/><ellipse cx="1201.0" cy="2098.9" rx="2.0" ry="3.0" fill="#ff1800"/><ellipse cx="1234.3" cy="2090.9" rx="8.9" ry="13.4" fill="#6a12ff"/><ellipse cx="1234.3" cy="2090.9" rx="8.3" ry="12.4" fill="#1420ff"/><ellipse cx="1234.3" cy="2090.9" rx="7.5" ry="11.2" fill="#00d8f8"/><ellipse cx="1234.3" cy="2090.9" rx="5.2" ry="7.8" fill="#28f070"/><ellipse cx="1234.3" cy="2090.9" rx="2.9" ry="4.3" fill="#e8f000"/><ellipse cx="1234.3" cy="2090.9" rx="2.0" ry="2.9" fill="#ff1800"/><ellipse cx="1261.0" cy="2040.3" rx="8.7" ry="13.9" fill="#1420ff"/><ellipse cx="1261.0" cy="2040.3" rx="2.9" ry="4.6" fill="#0a78ff"/><ellipse cx="1243.6" cy="2082.3" rx="6.8" ry="10.2" fill="#6a12ff"/><ellipse cx="1243.6" cy="2082.3" rx="6.4" ry="9.5" fill="#1420ff"/><ellipse cx="1243.6" cy="2082.3" rx="5.7" ry="8.6" fill="#0a78ff"/><ellipse cx="1243.6" cy="2082.3" rx="3.1" ry="4.6" fill="#00d8f8"/><ellipse cx="1277.0" cy="2090.9" rx="8.9" ry="13.4" fill="#6a12ff"/><ellipse cx="1277.0" cy="2090.9" rx="8.3" ry="12.4" fill="#1420ff"/><ellipse cx="1277.0" cy="2090.9" rx="7.5" ry="11.2" fill="#00d8f8"/><ellipse cx="1277.0" cy="2090.9" rx="5.3" ry="8.0" fill="#28f070"/><ellipse cx="1277.0" cy="2090.9" rx="3.1" ry="4.7" fill="#e8f000"/><ellipse cx="1277.0" cy="2090.9" rx="2.2" ry="3.3" fill="#ff1800"/><ellipse cx="1306.3" cy="2031.0" rx="11.2" ry="17.4" fill="#1420ff"/><ellipse cx="1306.3" cy="2031.0" rx="10.1" ry="15.7" fill="#0a78ff"/><ellipse cx="1306.3" cy="2031.0" rx="3.6" ry="5.6" fill="#00d8f8"/><ellipse cx="1289.6" cy="2077.6" rx="8.5" ry="13.4" fill="#6a12ff"/><ellipse cx="1289.6" cy="2077.6" rx="7.9" ry="12.4" fill="#1420ff"/><ellipse cx="1289.6" cy="2077.6" rx="7.1" ry="11.2" fill="#00d8f8"/><ellipse cx="1289.6" cy="2077.6" rx="5.7" ry="9.1" fill="#28f070"/><ellipse cx="1289.6" cy="2077.6" rx="4.4" ry="7.0" fill="#e8f000"/><ellipse cx="1289.6" cy="2077.6" rx="3.6" ry="5.6" fill="#ff1800"/><ellipse cx="1322.3" cy="2084.3" rx="8.5" ry="13.4" fill="#6a12ff"/><ellipse cx="1322.3" cy="2084.3" rx="7.9" ry="12.4" fill="#1420ff"/><ellipse cx="1322.3" cy="2084.3" rx="7.1" ry="11.2" fill="#00d8f8"/><ellipse cx="1322.3" cy="2084.3" rx="5.7" ry="9.0" fill="#28f070"/><ellipse cx="1322.3" cy="2084.3" rx="4.2" ry="6.7" fill="#e8f000"/><ellipse cx="1322.3" cy="2084.3" rx="3.4" ry="5.3" fill="#ff1800"/><ellipse cx="1354.2" cy="2039.0" rx="9.5" ry="12.7" fill="#1420ff"/><ellipse cx="1354.2" cy="2039.0" rx="3.2" ry="4.2" fill="#0a78ff"/><ellipse cx="1336.9" cy="2077.6" rx="8.1" ry="13.4" fill="#6a12ff"/><ellipse cx="1336.9" cy="2077.6" rx="7.6" ry="12.4" fill="#1420ff"/><ellipse cx="1336.9" cy="2077.6" rx="6.8" ry="11.2" fill="#0a78ff"/><ellipse cx="1336.9" cy="2077.6" rx="3.7" ry="6.0" fill="#00d8f8"/><ellipse cx="1367.6" cy="2085.6" rx="8.9" ry="14.9" fill="#6a12ff"/><ellipse cx="1367.6" cy="2085.6" rx="8.3" ry="13.9" fill="#1420ff"/><ellipse cx="1367.6" cy="2085.6" rx="7.5" ry="12.5" fill="#00d8f8"/><ellipse cx="1367.6" cy="2085.6" rx="5.8" ry="9.6" fill="#28f070"/><ellipse cx="1367.6" cy="2085.6" rx="4.0" ry="6.7" fill="#e8f000"/><ellipse cx="1367.6" cy="2085.6" rx="3.1" ry="5.2" fill="#ff1800"/><ellipse cx="1400.9" cy="2031.0" rx="12.1" ry="22.7" fill="#1420ff"/><ellipse cx="1400.9" cy="2031.0" rx="10.9" ry="20.5" fill="#0a78ff"/><ellipse cx="1400.9" cy="2031.0" rx="2.9" ry="5.4" fill="#00d8f8"/><ellipse cx="1383.6" cy="2077.6" rx="9.4" ry="14.2" fill="#6a12ff"/><ellipse cx="1383.6" cy="2077.6" rx="8.8" ry="13.2" fill="#1420ff"/><ellipse cx="1383.6" cy="2077.6" rx="7.9" ry="11.9" fill="#00d8f8"/><ellipse cx="1383.6" cy="2077.6" rx="6.8" ry="10.2" fill="#28f070"/><ellipse cx="1383.6" cy="2077.6" rx="5.7" ry="8.5" fill="#e8f000"/><ellipse cx="1383.6" cy="2077.6" rx="4.7" ry="7.1" fill="#ff1800"/><ellipse cx="1411.5" cy="2081.6" rx="8.5" ry="14.2" fill="#6a12ff"/><ellipse cx="1411.5" cy="2081.6" rx="7.9" ry="13.2" fill="#1420ff"/><ellipse cx="1411.5" cy="2081.6" rx="7.1" ry="11.9" fill="#00d8f8"/><ellipse cx="1411.5" cy="2081.6" rx="6.0" ry="10.0" fill="#28f070"/><ellipse cx="1411.5" cy="2081.6" rx="4.9" ry="8.2" fill="#e8f000"/><ellipse cx="1411.5" cy="2081.6" rx="4.1" ry="6.8" fill="#ff1800"/></g>
</g>
<g clip-path="url(#cp9)">
<rect x="1189.9" y="2135.0" width="237.3" height="142.3" fill="#2a2a2a" stroke="none" stroke-width="0" />
<rect x="1191.2" y="2135.0" width="3.6" height="27" fill="#0e0e0e"/><rect x="1195.4" y="2135.0" width="0.8" height="142.3" fill="#303030"/><rect x="1199.2" y="2135.0" width="3.6" height="27" fill="#0e0e0e"/><rect x="1203.4" y="2135.0" width="0.8" height="142.3" fill="#303030"/><rect x="1207.2" y="2135.0" width="3.6" height="27" fill="#0e0e0e"/><rect x="1211.4" y="2135.0" width="0.8" height="142.3" fill="#303030"/><rect x="1241.2" y="2135.0" width="3.6" height="27" fill="#0e0e0e"/><rect x="1245.4" y="2135.0" width="0.8" height="142.3" fill="#303030"/><rect x="1249.2" y="2135.0" width="3.6" height="27" fill="#0e0e0e"/><rect x="1253.4" y="2135.0" width="0.8" height="142.3" fill="#303030"/><rect x="1257.2" y="2135.0" width="3.6" height="27" fill="#0e0e0e"/><rect x="1261.4" y="2135.0" width="0.8" height="142.3" fill="#303030"/><rect x="1283.8" y="2135.0" width="3.6" height="27" fill="#0e0e0e"/><rect x="1288.0" y="2135.0" width="0.8" height="142.3" fill="#303030"/><rect x="1291.8" y="2135.0" width="3.6" height="27" fill="#0e0e0e"/><rect x="1296.0" y="2135.0" width="0.8" height="142.3" fill="#303030"/><rect x="1299.8" y="2135.0" width="3.6" height="27" fill="#0e0e0e"/><rect x="1304.0" y="2135.0" width="0.8" height="142.3" fill="#303030"/><rect x="1327.1" y="2135.0" width="3.6" height="27" fill="#0e0e0e"/><rect x="1331.3" y="2135.0" width="0.8" height="142.3" fill="#303030"/><rect x="1335.1" y="2135.0" width="3.6" height="27" fill="#0e0e0e"/><rect x="1339.3" y="2135.0" width="0.8" height="142.3" fill="#303030"/><rect x="1343.1" y="2135.0" width="3.6" height="27" fill="#0e0e0e"/><rect x="1347.3" y="2135.0" width="0.8" height="142.3" fill="#303030"/><rect x="1371.8" y="2135.0" width="3.6" height="27" fill="#0e0e0e"/><rect x="1376.0" y="2135.0" width="0.8" height="142.3" fill="#303030"/><rect x="1379.8" y="2135.0" width="3.6" height="27" fill="#0e0e0e"/><rect x="1384.0" y="2135.0" width="0.8" height="142.3" fill="#303030"/><rect x="1387.8" y="2135.0" width="3.6" height="27" fill="#0e0e0e"/><rect x="1392.0" y="2135.0" width="0.8" height="142.3" fill="#303030"/><rect x="1416.4" y="2135.0" width="3.6" height="27" fill="#0e0e0e"/><rect x="1420.6" y="2135.0" width="0.8" height="142.3" fill="#303030"/><rect x="1424.4" y="2135.0" width="3.6" height="27" fill="#0e0e0e"/><rect x="1428.6" y="2135.0" width="0.8" height="142.3" fill="#303030"/><rect x="1432.4" y="2135.0" width="3.6" height="27" fill="#0e0e0e"/><rect x="1436.6" y="2135.0" width="0.8" height="142.3" fill="#303030"/>
<g filter="url(#msoft)">
<use href="#mouse" transform="translate(1229.0,2143.0) scale(0.1333)"/>
<use href="#mouse" transform="translate(1273.0,2137.7) scale(0.1333)"/>
<use href="#mouse" transform="translate(1314.3,2135.0) scale(0.1333)"/>
<use href="#mouse" transform="translate(1359.6,2137.7) scale(0.1333)"/>
<use href="#mouse" transform="translate(1403.6,2139.0) scale(0.1333)"/>
</g>
<g filter="url(#rough)"><ellipse cx="1229.0" cy="2186.0" rx="14.7" ry="30.0" fill="#6a12ff"/><ellipse cx="1229.0" cy="2186.0" rx="13.6" ry="27.9" fill="#1420ff"/><ellipse cx="1229.0" cy="2186.0" rx="12.3" ry="25.2" fill="#0a78ff"/><ellipse cx="1229.0" cy="2186.0" rx="5.1" ry="10.5" fill="#00d8f8"/><ellipse cx="1229.0" cy="2186.0" rx="3.7" ry="7.5" fill="#28f070"/><ellipse cx="1228.3" cy="2190.0" rx="2.7" ry="12.0" fill="#ff1800" transform="rotate(8 1228.3 2190.0)"/><ellipse cx="1221.6" cy="2244.6" rx="22.7" ry="18.7" fill="#6a12ff"/><ellipse cx="1221.6" cy="2244.6" rx="20.4" ry="16.8" fill="#1420ff"/><ellipse cx="1221.6" cy="2244.6" rx="12.5" ry="10.3" fill="#0a78ff"/><ellipse cx="1206.3" cy="2237.9" rx="8.3" ry="12.2" fill="#6a12ff"/><ellipse cx="1206.3" cy="2237.9" rx="7.8" ry="11.4" fill="#1420ff"/><ellipse cx="1206.3" cy="2237.9" rx="7.0" ry="10.3" fill="#00d8f8"/><ellipse cx="1206.3" cy="2237.9" rx="6.9" ry="10.2" fill="#28f070"/><ellipse cx="1206.3" cy="2237.9" rx="6.8" ry="10.0" fill="#e8f000"/><ellipse cx="1206.3" cy="2237.9" rx="6.0" ry="8.8" fill="#ff1800"/><ellipse cx="1237.6" cy="2241.9" rx="8.3" ry="13.0" fill="#6a12ff"/><ellipse cx="1237.6" cy="2241.9" rx="7.8" ry="12.0" fill="#1420ff"/><ellipse cx="1237.6" cy="2241.9" rx="7.1" ry="11.0" fill="#00d8f8"/><ellipse cx="1237.6" cy="2241.9" rx="7.1" ry="11.0" fill="#28f070"/><ellipse cx="1237.6" cy="2241.9" rx="7.1" ry="11.0" fill="#e8f000"/><ellipse cx="1237.6" cy="2241.9" rx="6.3" ry="9.7" fill="#ff1800"/><ellipse cx="1273.0" cy="2183.3" rx="16.7" ry="32.6" fill="#6a12ff"/><ellipse cx="1273.0" cy="2183.3" rx="15.5" ry="30.4" fill="#1420ff"/><ellipse cx="1273.0" cy="2183.3" rx="14.0" ry="27.4" fill="#0a78ff"/><ellipse cx="1273.0" cy="2183.3" rx="7.5" ry="14.7" fill="#00d8f8"/><ellipse cx="1273.0" cy="2183.3" rx="5.8" ry="11.4" fill="#28f070"/><ellipse cx="1271.0" cy="2186.0" rx="4.0" ry="16.0" fill="#ff1800" transform="rotate(3 1271.0 2186.0)"/><ellipse cx="1271.6" cy="2239.3" rx="21.3" ry="24.0" fill="#6a12ff"/><ellipse cx="1271.6" cy="2239.3" rx="19.8" ry="22.3" fill="#1420ff"/><ellipse cx="1271.6" cy="2239.3" rx="17.9" ry="20.1" fill="#0a78ff"/><ellipse cx="1271.6" cy="2239.3" rx="9.6" ry="10.8" fill="#00d8f8"/><ellipse cx="1257.6" cy="2232.6" rx="8.3" ry="13.0" fill="#6a12ff"/><ellipse cx="1257.6" cy="2232.6" rx="7.8" ry="12.0" fill="#1420ff"/><ellipse cx="1257.6" cy="2232.6" rx="7.0" ry="10.9" fill="#00d8f8"/><ellipse cx="1257.6" cy="2232.6" rx="6.9" ry="10.8" fill="#28f070"/><ellipse cx="1257.6" cy="2232.6" rx="6.8" ry="10.6" fill="#e8f000"/><ellipse cx="1257.6" cy="2232.6" rx="6.0" ry="9.3" fill="#ff1800"/><ellipse cx="1286.3" cy="2240.6" rx="8.9" ry="14.4" fill="#6a12ff"/><ellipse cx="1286.3" cy="2240.6" rx="8.3" ry="13.4" fill="#1420ff"/><ellipse cx="1286.3" cy="2240.6" rx="7.6" ry="12.2" fill="#00d8f8"/><ellipse cx="1286.3" cy="2240.6" rx="7.6" ry="12.2" fill="#28f070"/><ellipse cx="1286.3" cy="2240.6" rx="7.6" ry="12.2" fill="#e8f000"/><ellipse cx="1286.3" cy="2240.6" rx="6.7" ry="10.8" fill="#ff1800"/><ellipse cx="1314.3" cy="2179.3" rx="17.3" ry="32.6" fill="#6a12ff"/><ellipse cx="1314.3" cy="2179.3" rx="16.1" ry="30.4" fill="#1420ff"/><ellipse cx="1314.3" cy="2179.3" rx="14.6" ry="27.4" fill="#0a78ff"/><ellipse cx="1314.3" cy="2179.3" rx="11.3" ry="21.2" fill="#00d8f8"/><ellipse cx="1314.3" cy="2179.3" rx="9.5" ry="18.0" fill="#28f070"/><ellipse cx="1311.6" cy="2182.0" rx="8.3" ry="15.3" fill="#ff1800"/><ellipse cx="1312.9" cy="2236.6" rx="20.0" ry="24.0" fill="#6a12ff"/><ellipse cx="1312.9" cy="2236.6" rx="18.6" ry="22.3" fill="#1420ff"/><ellipse cx="1312.9" cy="2236.6" rx="16.8" ry="20.1" fill="#0a78ff"/><ellipse cx="1312.9" cy="2236.6" rx="9.0" ry="10.8" fill="#00d8f8"/><ellipse cx="1300.9" cy="2229.9" rx="8.3" ry="15.8" fill="#6a12ff"/><ellipse cx="1300.9" cy="2229.9" rx="7.8" ry="14.7" fill="#1420ff"/><ellipse cx="1300.9" cy="2229.9" rx="7.1" ry="13.5" fill="#00d8f8"/><ellipse cx="1300.9" cy="2229.9" rx="7.1" ry="13.5" fill="#28f070"/><ellipse cx="1300.9" cy="2229.9" rx="7.1" ry="13.5" fill="#e8f000"/><ellipse cx="1300.9" cy="2229.9" rx="6.3" ry="11.9" fill="#ff1800"/><ellipse cx="1324.9" cy="2236.6" rx="9.8" ry="17.3" fill="#6a12ff"/><ellipse cx="1324.9" cy="2236.6" rx="9.1" ry="16.1" fill="#1420ff"/><ellipse cx="1324.9" cy="2236.6" rx="8.3" ry="14.7" fill="#00d8f8"/><ellipse cx="1324.9" cy="2236.6" rx="8.3" ry="14.7" fill="#28f070"/><ellipse cx="1324.9" cy="2236.6" rx="8.3" ry="14.7" fill="#e8f000"/><ellipse cx="1324.9" cy="2236.6" rx="7.3" ry="13.0" fill="#ff1800"/><ellipse cx="1360.9" cy="2183.3" rx="17.3" ry="33.3" fill="#6a12ff"/><ellipse cx="1360.9" cy="2183.3" rx="16.1" ry="31.0" fill="#1420ff"/><ellipse cx="1360.9" cy="2183.3" rx="14.6" ry="28.0" fill="#0a78ff"/><ellipse cx="1360.9" cy="2183.3" rx="6.9" ry="13.3" fill="#00d8f8"/><ellipse cx="1360.9" cy="2183.3" rx="5.2" ry="10.0" fill="#28f070"/><ellipse cx="1356.2" cy="2186.0" rx="3.3" ry="12.0" fill="#ff1800"/><ellipse cx="1370.2" cy="2187.3" rx="3.3" ry="3.7" fill="#ff1800"/><ellipse cx="1358.2" cy="2236.6" rx="21.3" ry="25.3" fill="#6a12ff"/><ellipse cx="1358.2" cy="2236.6" rx="19.8" ry="23.5" fill="#1420ff"/><ellipse cx="1358.2" cy="2236.6" rx="17.9" ry="21.3" fill="#0a78ff"/><ellipse cx="1358.2" cy="2236.6" rx="9.6" ry="11.4" fill="#00d8f8"/><ellipse cx="1344.9" cy="2231.3" rx="8.3" ry="17.3" fill="#6a12ff"/><ellipse cx="1344.9" cy="2231.3" rx="7.8" ry="16.1" fill="#1420ff"/><ellipse cx="1344.9" cy="2231.3" rx="7.0" ry="14.5" fill="#00d8f8"/><ellipse cx="1344.9" cy="2231.3" rx="6.9" ry="14.3" fill="#28f070"/><ellipse cx="1344.9" cy="2231.3" rx="6.8" ry="14.2" fill="#e8f000"/><ellipse cx="1344.9" cy="2231.3" rx="6.0" ry="12.4" fill="#ff1800"/><ellipse cx="1368.9" cy="2239.3" rx="11.8" ry="17.3" fill="#6a12ff"/><ellipse cx="1368.9" cy="2239.3" rx="11.0" ry="16.1" fill="#1420ff"/><ellipse cx="1368.9" cy="2239.3" rx="10.4" ry="15.2" fill="#00d8f8"/><ellipse cx="1368.9" cy="2239.3" rx="10.4" ry="15.2" fill="#28f070"/><ellipse cx="1368.9" cy="2239.3" rx="10.4" ry="15.2" fill="#e8f000"/><ellipse cx="1368.9" cy="2239.3" rx="9.2" ry="13.5" fill="#ff1800"/><ellipse cx="1402.2" cy="2180.6" rx="16.7" ry="33.3" fill="#6a12ff"/><ellipse cx="1402.2" cy="2180.6" rx="15.5" ry="31.0" fill="#1420ff"/><ellipse cx="1402.2" cy="2180.6" rx="14.0" ry="28.0" fill="#0a78ff"/><ellipse cx="1402.2" cy="2180.6" rx="10.0" ry="20.0" fill="#00d8f8"/><ellipse cx="1402.2" cy="2180.6" rx="8.3" ry="16.7" fill="#28f070"/><ellipse cx="1402.2" cy="2187.3" rx="6.9" ry="17.3" fill="#ff1800"/><ellipse cx="1401.6" cy="2237.9" rx="21.3" ry="25.3" fill="#6a12ff"/><ellipse cx="1401.6" cy="2237.9" rx="19.8" ry="23.5" fill="#1420ff"/><ellipse cx="1401.6" cy="2237.9" rx="17.9" ry="21.3" fill="#0a78ff"/><ellipse cx="1401.6" cy="2237.9" rx="9.6" ry="11.4" fill="#00d8f8"/><ellipse cx="1388.9" cy="2233.9" rx="8.9" ry="17.3" fill="#6a12ff"/><ellipse cx="1388.9" cy="2233.9" rx="8.3" ry="16.1" fill="#1420ff"/><ellipse cx="1388.9" cy="2233.9" rx="7.5" ry="14.5" fill="#00d8f8"/><ellipse cx="1388.9" cy="2233.9" rx="7.4" ry="14.3" fill="#28f070"/><ellipse cx="1388.9" cy="2233.9" rx="7.3" ry="14.2" fill="#e8f000"/><ellipse cx="1388.9" cy="2233.9" rx="6.4" ry="12.4" fill="#ff1800"/><ellipse cx="1411.5" cy="2240.6" rx="11.8" ry="16.6" fill="#6a12ff"/><ellipse cx="1411.5" cy="2240.6" rx="11.0" ry="15.4" fill="#1420ff"/><ellipse cx="1411.5" cy="2240.6" rx="10.4" ry="14.6" fill="#00d8f8"/><ellipse cx="1411.5" cy="2240.6" rx="10.4" ry="14.6" fill="#28f070"/><ellipse cx="1411.5" cy="2240.6" rx="10.4" ry="14.6" fill="#e8f000"/><ellipse cx="1411.5" cy="2240.6" rx="9.2" ry="12.9" fill="#ff1800"/></g>
</g>
<g clip-path="url(#cp10)">
<rect x="1432.9" y="1839.1" width="238.0" height="142.3" fill="#2a2a2a" stroke="none" stroke-width="0" />
<rect x="1432.2" y="1839.1" width="3.6" height="27" fill="#0e0e0e"/><rect x="1436.4" y="1839.1" width="0.8" height="142.3" fill="#303030"/><rect x="1440.2" y="1839.1" width="3.6" height="27" fill="#0e0e0e"/><rect x="1444.4" y="1839.1" width="0.8" height="142.3" fill="#303030"/><rect x="1448.2" y="1839.1" width="3.6" height="27" fill="#0e0e0e"/><rect x="1452.4" y="1839.1" width="0.8" height="142.3" fill="#303030"/><rect x="1480.8" y="1839.1" width="3.6" height="27" fill="#0e0e0e"/><rect x="1485.0" y="1839.1" width="0.8" height="142.3" fill="#303030"/><rect x="1488.8" y="1839.1" width="3.6" height="27" fill="#0e0e0e"/><rect x="1493.0" y="1839.1" width="0.8" height="142.3" fill="#303030"/><rect x="1496.8" y="1839.1" width="3.6" height="27" fill="#0e0e0e"/><rect x="1501.0" y="1839.1" width="0.8" height="142.3" fill="#303030"/><rect x="1524.8" y="1839.1" width="3.6" height="27" fill="#0e0e0e"/><rect x="1529.0" y="1839.1" width="0.8" height="142.3" fill="#303030"/><rect x="1532.8" y="1839.1" width="3.6" height="27" fill="#0e0e0e"/><rect x="1537.0" y="1839.1" width="0.8" height="142.3" fill="#303030"/><rect x="1540.8" y="1839.1" width="3.6" height="27" fill="#0e0e0e"/><rect x="1545.0" y="1839.1" width="0.8" height="142.3" fill="#303030"/><rect x="1568.8" y="1839.1" width="3.6" height="27" fill="#0e0e0e"/><rect x="1573.0" y="1839.1" width="0.8" height="142.3" fill="#303030"/><rect x="1576.8" y="1839.1" width="3.6" height="27" fill="#0e0e0e"/><rect x="1581.0" y="1839.1" width="0.8" height="142.3" fill="#303030"/><rect x="1584.8" y="1839.1" width="3.6" height="27" fill="#0e0e0e"/><rect x="1589.0" y="1839.1" width="0.8" height="142.3" fill="#303030"/><rect x="1613.4" y="1839.1" width="3.6" height="27" fill="#0e0e0e"/><rect x="1617.6" y="1839.1" width="0.8" height="142.3" fill="#303030"/><rect x="1621.4" y="1839.1" width="3.6" height="27" fill="#0e0e0e"/><rect x="1625.6" y="1839.1" width="0.8" height="142.3" fill="#303030"/><rect x="1629.4" y="1839.1" width="3.6" height="27" fill="#0e0e0e"/><rect x="1633.6" y="1839.1" width="0.8" height="142.3" fill="#303030"/><rect x="1658.7" y="1839.1" width="3.6" height="27" fill="#0e0e0e"/><rect x="1662.9" y="1839.1" width="0.8" height="142.3" fill="#303030"/><rect x="1666.7" y="1839.1" width="3.6" height="27" fill="#0e0e0e"/><rect x="1670.9" y="1839.1" width="0.8" height="142.3" fill="#303030"/><rect x="1674.7" y="1839.1" width="3.6" height="27" fill="#0e0e0e"/><rect x="1678.9" y="1839.1" width="0.8" height="142.3" fill="#303030"/>
<g filter="url(#msoft)">
<use href="#mouse" transform="translate(1468.0,1843.1) scale(0.1333)"/>
<use href="#mouse" transform="translate(1513.3,1840.4) scale(0.1333)"/>
<use href="#mouse" transform="translate(1555.9,1839.1) scale(0.1333)"/>
<use href="#mouse" transform="translate(1601.2,1837.8) scale(0.1333)"/>
<use href="#mouse" transform="translate(1645.2,1839.1) scale(0.1333)"/>
</g>
<g filter="url(#speck)"><ellipse cx="1464.6" cy="1907.6" rx="6.7" ry="6.0" fill="#6a12ff"/><ellipse cx="1509.3" cy="1899.0" rx="1.3" ry="8.0" fill="#6a12ff"/><ellipse cx="1540.6" cy="1933.6" rx="2.0" ry="5.3" fill="#6a12ff"/><ellipse cx="1600.6" cy="1888.3" rx="1.3" ry="9.3" fill="#6a12ff"/><ellipse cx="1648.5" cy="1905.6" rx="2.7" ry="5.3" fill="#6a12ff"/><ellipse cx="1641.2" cy="1941.6" rx="9.3" ry="2.9" fill="#6a12ff"/></g>
<g filter="url(#rough)"><ellipse cx="1450.0" cy="1934.3" rx="4.0" ry="6.0" fill="#6a12ff"/><ellipse cx="1450.0" cy="1934.3" rx="3.6" ry="5.4" fill="#1420ff"/><ellipse cx="1474.6" cy="1943.6" rx="6.2" ry="9.1" fill="#6a12ff"/><ellipse cx="1474.6" cy="1943.6" rx="5.6" ry="8.2" fill="#1420ff"/><ellipse cx="1474.6" cy="1943.6" rx="3.4" ry="5.0" fill="#0a78ff"/><ellipse cx="1496.6" cy="1931.6" rx="4.0" ry="5.3" fill="#6a12ff"/><ellipse cx="1496.6" cy="1931.6" rx="3.6" ry="4.8" fill="#1420ff"/><ellipse cx="1524.6" cy="1941.6" rx="5.9" ry="10.2" fill="#6a12ff"/><ellipse cx="1524.6" cy="1941.6" rx="5.3" ry="9.2" fill="#1420ff"/><ellipse cx="1524.6" cy="1941.6" rx="3.2" ry="5.6" fill="#0a78ff"/><ellipse cx="1514.6" cy="1880.3" rx="1.6" ry="1.6" fill="#6a12ff"/><ellipse cx="1571.9" cy="1940.3" rx="3.3" ry="6.0" fill="#6a12ff"/><ellipse cx="1571.9" cy="1940.3" rx="3.0" ry="5.4" fill="#1420ff"/><ellipse cx="1561.3" cy="1938.9" rx="2.0" ry="1.6" fill="#6a12ff"/><ellipse cx="1600.6" cy="1907.6" rx="8.7" ry="6.7" fill="#6a12ff"/><ellipse cx="1600.6" cy="1907.6" rx="7.8" ry="6.0" fill="#1420ff"/><ellipse cx="1584.6" cy="1936.9" rx="5.9" ry="9.4" fill="#6a12ff"/><ellipse cx="1584.6" cy="1936.9" rx="5.4" ry="8.8" fill="#1420ff"/><ellipse cx="1584.6" cy="1936.9" rx="4.9" ry="7.9" fill="#0a78ff"/><ellipse cx="1584.6" cy="1936.9" rx="2.6" ry="4.2" fill="#00d8f8"/><ellipse cx="1613.9" cy="1942.9" rx="6.2" ry="9.7" fill="#6a12ff"/><ellipse cx="1613.9" cy="1942.9" rx="5.7" ry="9.1" fill="#1420ff"/><ellipse cx="1613.9" cy="1942.9" rx="5.2" ry="8.2" fill="#0a78ff"/><ellipse cx="1613.9" cy="1942.9" rx="2.8" ry="4.4" fill="#00d8f8"/><ellipse cx="1629.2" cy="1934.3" rx="5.9" ry="7.9" fill="#6a12ff"/><ellipse cx="1629.2" cy="1934.3" rx="5.3" ry="7.1" fill="#1420ff"/><ellipse cx="1629.2" cy="1934.3" rx="3.2" ry="4.3" fill="#0a78ff"/><ellipse cx="1657.9" cy="1941.6" rx="4.9" ry="7.9" fill="#6a12ff"/><ellipse cx="1657.9" cy="1941.6" rx="4.4" ry="7.1" fill="#1420ff"/><ellipse cx="1657.9" cy="1941.6" rx="2.7" ry="4.3" fill="#0a78ff"/></g>
</g>
<g clip-path="url(#cp11)">
<rect x="1432.9" y="1988.0" width="238.0" height="142.5" fill="#2a2a2a" stroke="none" stroke-width="0" />
<rect x="1432.2" y="1988.0" width="3.6" height="27" fill="#0e0e0e"/><rect x="1436.4" y="1988.0" width="0.8" height="142.5" fill="#303030"/><rect x="1440.2" y="1988.0" width="3.6" height="27" fill="#0e0e0e"/><rect x="1444.4" y="1988.0" width="0.8" height="142.5" fill="#303030"/><rect x="1448.2" y="1988.0" width="3.6" height="27" fill="#0e0e0e"/><rect x="1452.4" y="1988.0" width="0.8" height="142.5" fill="#303030"/><rect x="1480.8" y="1988.0" width="3.6" height="27" fill="#0e0e0e"/><rect x="1485.0" y="1988.0" width="0.8" height="142.5" fill="#303030"/><rect x="1488.8" y="1988.0" width="3.6" height="27" fill="#0e0e0e"/><rect x="1493.0" y="1988.0" width="0.8" height="142.5" fill="#303030"/><rect x="1496.8" y="1988.0" width="3.6" height="27" fill="#0e0e0e"/><rect x="1501.0" y="1988.0" width="0.8" height="142.5" fill="#303030"/><rect x="1525.5" y="1988.0" width="3.6" height="27" fill="#0e0e0e"/><rect x="1529.7" y="1988.0" width="0.8" height="142.5" fill="#303030"/><rect x="1533.5" y="1988.0" width="3.6" height="27" fill="#0e0e0e"/><rect x="1537.7" y="1988.0" width="0.8" height="142.5" fill="#303030"/><rect x="1541.5" y="1988.0" width="3.6" height="27" fill="#0e0e0e"/><rect x="1545.7" y="1988.0" width="0.8" height="142.5" fill="#303030"/><rect x="1571.5" y="1988.0" width="3.6" height="27" fill="#0e0e0e"/><rect x="1575.7" y="1988.0" width="0.8" height="142.5" fill="#303030"/><rect x="1579.5" y="1988.0" width="3.6" height="27" fill="#0e0e0e"/><rect x="1583.7" y="1988.0" width="0.8" height="142.5" fill="#303030"/><rect x="1587.4" y="1988.0" width="3.6" height="27" fill="#0e0e0e"/><rect x="1591.6" y="1988.0" width="0.8" height="142.5" fill="#303030"/><rect x="1617.4" y="1988.0" width="3.6" height="27" fill="#0e0e0e"/><rect x="1621.6" y="1988.0" width="0.8" height="142.5" fill="#303030"/><rect x="1625.4" y="1988.0" width="3.6" height="27" fill="#0e0e0e"/><rect x="1629.6" y="1988.0" width="0.8" height="142.5" fill="#303030"/><rect x="1633.4" y="1988.0" width="3.6" height="27" fill="#0e0e0e"/><rect x="1637.6" y="1988.0" width="0.8" height="142.5" fill="#303030"/><rect x="1660.7" y="1988.0" width="3.6" height="27" fill="#0e0e0e"/><rect x="1664.9" y="1988.0" width="0.8" height="142.5" fill="#303030"/><rect x="1668.7" y="1988.0" width="3.6" height="27" fill="#0e0e0e"/><rect x="1672.9" y="1988.0" width="0.8" height="142.5" fill="#303030"/><rect x="1676.7" y="1988.0" width="3.6" height="27" fill="#0e0e0e"/><rect x="1680.9" y="1988.0" width="0.8" height="142.5" fill="#303030"/>
<g filter="url(#msoft)">
<use href="#mouse" transform="translate(1468.0,1990.7) scale(0.1333)"/>
<use href="#mouse" transform="translate(1513.3,1990.7) scale(0.1333)"/>
<use href="#mouse" transform="translate(1557.3,1986.7) scale(0.1333)"/>
<use href="#mouse" transform="translate(1605.2,1988.0) scale(0.1333)"/>
<use href="#mouse" transform="translate(1649.2,1989.3) scale(0.1333)"/>
</g>
<g filter="url(#speck)"><ellipse cx="1467.3" cy="2045.6" rx="12.7" ry="25.3" fill="#6a12ff"/><ellipse cx="1461.3" cy="2100.3" rx="14.7" ry="8.0" fill="#6a12ff"/><ellipse cx="1513.3" cy="2041.6" rx="13.3" ry="17.3" fill="#6a12ff"/><ellipse cx="1508.0" cy="2096.3" rx="14.7" ry="8.0" fill="#6a12ff"/><ellipse cx="1555.9" cy="2039.0" rx="13.3" ry="20.0" fill="#6a12ff"/><ellipse cx="1554.6" cy="2092.3" rx="13.3" ry="8.0" fill="#6a12ff"/><ellipse cx="1603.9" cy="2044.3" rx="14.7" ry="24.0" fill="#6a12ff"/><ellipse cx="1601.2" cy="2102.9" rx="14.7" ry="9.3" fill="#6a12ff"/><ellipse cx="1647.9" cy="2041.6" rx="12.0" ry="21.3" fill="#6a12ff"/><ellipse cx="1646.6" cy="2093.6" rx="13.3" ry="9.3" fill="#6a12ff"/></g>
<g filter="url(#rough)"><ellipse cx="1467.3" cy="2045.6" rx="7.1" ry="14.1" fill="#1420ff"/><ellipse cx="1467.3" cy="2045.6" rx="2.0" ry="3.9" fill="#0a78ff"/><ellipse cx="1446.7" cy="2088.3" rx="8.9" ry="12.6" fill="#6a12ff"/><ellipse cx="1446.7" cy="2088.3" rx="8.3" ry="11.7" fill="#1420ff"/><ellipse cx="1446.7" cy="2088.3" rx="7.5" ry="10.6" fill="#00d8f8"/><ellipse cx="1446.7" cy="2088.3" rx="5.2" ry="7.3" fill="#28f070"/><ellipse cx="1446.7" cy="2088.3" rx="2.9" ry="4.0" fill="#e8f000"/><ellipse cx="1446.7" cy="2088.3" rx="2.0" ry="2.8" fill="#ff1800"/><ellipse cx="1478.0" cy="2092.3" rx="8.9" ry="14.9" fill="#6a12ff"/><ellipse cx="1478.0" cy="2092.3" rx="8.3" ry="13.9" fill="#1420ff"/><ellipse cx="1478.0" cy="2092.3" rx="7.5" ry="12.5" fill="#00d8f8"/><ellipse cx="1478.0" cy="2092.3" rx="5.5" ry="9.3" fill="#28f070"/><ellipse cx="1478.0" cy="2092.3" rx="3.6" ry="6.0" fill="#e8f000"/><ellipse cx="1478.0" cy="2092.3" rx="2.7" ry="4.5" fill="#ff1800"/><ellipse cx="1513.3" cy="2041.6" rx="7.2" ry="9.4" fill="#1420ff"/><ellipse cx="1495.3" cy="2085.6" rx="6.8" ry="10.7" fill="#6a12ff"/><ellipse cx="1495.3" cy="2085.6" rx="6.4" ry="9.9" fill="#1420ff"/><ellipse cx="1495.3" cy="2085.6" rx="5.7" ry="9.0" fill="#00d8f8"/><ellipse cx="1495.3" cy="2085.6" rx="3.8" ry="6.0" fill="#28f070"/><ellipse cx="1495.3" cy="2085.6" rx="1.9" ry="3.0" fill="#e8f000"/><ellipse cx="1495.3" cy="2085.6" rx="1.2" ry="1.9" fill="#ff1800"/><ellipse cx="1522.6" cy="2093.6" rx="8.9" ry="14.2" fill="#6a12ff"/><ellipse cx="1522.6" cy="2093.6" rx="8.3" ry="13.2" fill="#1420ff"/><ellipse cx="1522.6" cy="2093.6" rx="7.5" ry="11.9" fill="#00d8f8"/><ellipse cx="1522.6" cy="2093.6" rx="5.3" ry="8.4" fill="#28f070"/><ellipse cx="1522.6" cy="2093.6" rx="3.1" ry="5.0" fill="#e8f000"/><ellipse cx="1522.6" cy="2093.6" rx="2.2" ry="3.5" fill="#ff1800"/><ellipse cx="1555.9" cy="2039.0" rx="7.4" ry="11.2" fill="#1420ff"/><ellipse cx="1555.9" cy="2039.0" rx="2.1" ry="3.1" fill="#0a78ff"/><ellipse cx="1540.6" cy="2076.3" rx="6.8" ry="12.6" fill="#6a12ff"/><ellipse cx="1540.6" cy="2076.3" rx="6.4" ry="11.7" fill="#1420ff"/><ellipse cx="1540.6" cy="2076.3" rx="5.7" ry="10.6" fill="#0a78ff"/><ellipse cx="1540.6" cy="2076.3" rx="2.7" ry="5.0" fill="#00d8f8"/><ellipse cx="1540.6" cy="2076.3" rx="2.0" ry="3.8" fill="#28f070"/><ellipse cx="1567.9" cy="2089.6" rx="9.4" ry="14.2" fill="#6a12ff"/><ellipse cx="1567.9" cy="2089.6" rx="8.8" ry="13.2" fill="#1420ff"/><ellipse cx="1567.9" cy="2089.6" rx="7.9" ry="11.9" fill="#00d8f8"/><ellipse cx="1567.9" cy="2089.6" rx="5.4" ry="8.1" fill="#28f070"/><ellipse cx="1567.9" cy="2089.6" rx="2.8" ry="4.2" fill="#e8f000"/><ellipse cx="1567.9" cy="2089.6" rx="1.9" ry="2.8" fill="#ff1800"/><ellipse cx="1603.9" cy="2044.3" rx="9.5" ry="15.5" fill="#1420ff"/><ellipse cx="1603.9" cy="2044.3" rx="3.2" ry="5.2" fill="#0a78ff"/><ellipse cx="1587.9" cy="2092.3" rx="7.8" ry="13.4" fill="#6a12ff"/><ellipse cx="1587.9" cy="2092.3" rx="7.3" ry="12.4" fill="#1420ff"/><ellipse cx="1587.9" cy="2092.3" rx="6.6" ry="11.2" fill="#00d8f8"/><ellipse cx="1587.9" cy="2092.3" rx="4.6" ry="8.0" fill="#28f070"/><ellipse cx="1587.9" cy="2092.3" rx="2.7" ry="4.7" fill="#e8f000"/><ellipse cx="1587.9" cy="2092.3" rx="2.0" ry="3.3" fill="#ff1800"/><ellipse cx="1617.2" cy="2094.9" rx="8.5" ry="14.9" fill="#6a12ff"/><ellipse cx="1617.2" cy="2094.9" rx="7.9" ry="13.9" fill="#1420ff"/><ellipse cx="1617.2" cy="2094.9" rx="7.1" ry="12.5" fill="#00d8f8"/><ellipse cx="1617.2" cy="2094.9" rx="5.0" ry="8.9" fill="#28f070"/><ellipse cx="1617.2" cy="2094.9" rx="3.0" ry="5.2" fill="#e8f000"/><ellipse cx="1617.2" cy="2094.9" rx="2.1" ry="3.7" fill="#ff1800"/><ellipse cx="1647.9" cy="2041.6" rx="7.1" ry="12.7" fill="#1420ff"/><ellipse cx="1647.9" cy="2041.6" rx="2.0" ry="3.5" fill="#0a78ff"/><ellipse cx="1632.6" cy="2082.9" rx="6.8" ry="13.4" fill="#6a12ff"/><ellipse cx="1632.6" cy="2082.9" rx="6.4" ry="12.4" fill="#1420ff"/><ellipse cx="1632.6" cy="2082.9" rx="5.7" ry="11.2" fill="#0a78ff"/><ellipse cx="1632.6" cy="2082.9" rx="3.1" ry="6.0" fill="#00d8f8"/><ellipse cx="1632.6" cy="2082.9" rx="2.4" ry="4.7" fill="#28f070"/><ellipse cx="1662.5" cy="2093.6" rx="9.4" ry="14.9" fill="#6a12ff"/><ellipse cx="1662.5" cy="2093.6" rx="8.8" ry="13.9" fill="#1420ff"/><ellipse cx="1662.5" cy="2093.6" rx="7.9" ry="12.5" fill="#00d8f8"/><ellipse cx="1662.5" cy="2093.6" rx="5.6" ry="8.9" fill="#28f070"/><ellipse cx="1662.5" cy="2093.6" rx="3.3" ry="5.2" fill="#e8f000"/><ellipse cx="1662.5" cy="2093.6" rx="2.4" ry="3.7" fill="#ff1800"/></g>
</g>
<g clip-path="url(#cp12)">
<rect x="1432.9" y="2135.0" width="238.0" height="142.3" fill="#2a2a2a" stroke="none" stroke-width="0" />
<rect x="1431.9" y="2135.0" width="3.6" height="27" fill="#0e0e0e"/><rect x="1436.1" y="2135.0" width="0.8" height="142.3" fill="#303030"/><rect x="1439.9" y="2135.0" width="3.6" height="27" fill="#0e0e0e"/><rect x="1444.1" y="2135.0" width="0.8" height="142.3" fill="#303030"/><rect x="1447.9" y="2135.0" width="3.6" height="27" fill="#0e0e0e"/><rect x="1452.1" y="2135.0" width="0.8" height="142.3" fill="#303030"/><rect x="1479.2" y="2135.0" width="3.6" height="27" fill="#0e0e0e"/><rect x="1483.4" y="2135.0" width="0.8" height="142.3" fill="#303030"/><rect x="1487.2" y="2135.0" width="3.6" height="27" fill="#0e0e0e"/><rect x="1491.4" y="2135.0" width="0.8" height="142.3" fill="#303030"/><rect x="1495.2" y="2135.0" width="3.6" height="27" fill="#0e0e0e"/><rect x="1499.4" y="2135.0" width="0.8" height="142.3" fill="#303030"/><rect x="1523.5" y="2135.0" width="3.6" height="27" fill="#0e0e0e"/><rect x="1527.7" y="2135.0" width="0.8" height="142.3" fill="#303030"/><rect x="1531.5" y="2135.0" width="3.6" height="27" fill="#0e0e0e"/><rect x="1535.7" y="2135.0" width="0.8" height="142.3" fill="#303030"/><rect x="1539.5" y="2135.0" width="3.6" height="27" fill="#0e0e0e"/><rect x="1543.7" y="2135.0" width="0.8" height="142.3" fill="#303030"/><rect x="1568.8" y="2135.0" width="3.6" height="27" fill="#0e0e0e"/><rect x="1573.0" y="2135.0" width="0.8" height="142.3" fill="#303030"/><rect x="1576.8" y="2135.0" width="3.6" height="27" fill="#0e0e0e"/><rect x="1581.0" y="2135.0" width="0.8" height="142.3" fill="#303030"/><rect x="1584.8" y="2135.0" width="3.6" height="27" fill="#0e0e0e"/><rect x="1589.0" y="2135.0" width="0.8" height="142.3" fill="#303030"/><rect x="1613.4" y="2135.0" width="3.6" height="27" fill="#0e0e0e"/><rect x="1617.6" y="2135.0" width="0.8" height="142.3" fill="#303030"/><rect x="1621.4" y="2135.0" width="3.6" height="27" fill="#0e0e0e"/><rect x="1625.6" y="2135.0" width="0.8" height="142.3" fill="#303030"/><rect x="1629.4" y="2135.0" width="3.6" height="27" fill="#0e0e0e"/><rect x="1633.6" y="2135.0" width="0.8" height="142.3" fill="#303030"/><rect x="1658.7" y="2135.0" width="3.6" height="27" fill="#0e0e0e"/><rect x="1662.9" y="2135.0" width="0.8" height="142.3" fill="#303030"/><rect x="1666.7" y="2135.0" width="3.6" height="27" fill="#0e0e0e"/><rect x="1670.9" y="2135.0" width="0.8" height="142.3" fill="#303030"/><rect x="1674.7" y="2135.0" width="3.6" height="27" fill="#0e0e0e"/><rect x="1678.9" y="2135.0" width="0.8" height="142.3" fill="#303030"/>
<g filter="url(#msoft)">
<use href="#mouse" transform="translate(1467.3,2141.7) scale(0.1333)"/>
<use href="#mouse" transform="translate(1510.6,2137.7) scale(0.1333)"/>
<use href="#mouse" transform="translate(1555.9,2136.3) scale(0.1333)"/>
<use href="#mouse" transform="translate(1601.2,2137.7) scale(0.1333)"/>
<use href="#mouse" transform="translate(1645.2,2139.0) scale(0.1333)"/>
</g>
<g filter="url(#rough)"><ellipse cx="1466.6" cy="2186.0" rx="16.0" ry="36.0" fill="#6a12ff"/><ellipse cx="1466.6" cy="2186.0" rx="14.9" ry="33.5" fill="#1420ff"/><ellipse cx="1466.6" cy="2186.0" rx="13.4" ry="30.2" fill="#0a78ff"/><ellipse cx="1466.6" cy="2186.0" rx="4.0" ry="9.0" fill="#00d8f8"/><ellipse cx="1468.0" cy="2190.0" rx="2.0" ry="8.0" fill="#ff1800"/><ellipse cx="1461.3" cy="2239.3" rx="24.0" ry="18.7" fill="#6a12ff"/><ellipse cx="1461.3" cy="2239.3" rx="22.3" ry="17.4" fill="#1420ff"/><ellipse cx="1461.3" cy="2239.3" rx="20.1" ry="15.7" fill="#0a78ff"/><ellipse cx="1461.3" cy="2239.3" rx="10.8" ry="8.4" fill="#00d8f8"/><ellipse cx="1448.0" cy="2235.3" rx="8.9" ry="10.8" fill="#6a12ff"/><ellipse cx="1448.0" cy="2235.3" rx="8.3" ry="10.0" fill="#1420ff"/><ellipse cx="1448.0" cy="2235.3" rx="8.0" ry="9.7" fill="#00d8f8"/><ellipse cx="1448.0" cy="2235.3" rx="8.0" ry="9.7" fill="#28f070"/><ellipse cx="1448.0" cy="2235.3" rx="8.0" ry="9.7" fill="#e8f000"/><ellipse cx="1448.0" cy="2235.3" rx="7.1" ry="8.6" fill="#ff1800"/><ellipse cx="1480.0" cy="2233.9" rx="6.9" ry="12.2" fill="#6a12ff"/><ellipse cx="1480.0" cy="2233.9" rx="6.4" ry="11.4" fill="#1420ff"/><ellipse cx="1480.0" cy="2233.9" rx="5.9" ry="10.4" fill="#00d8f8"/><ellipse cx="1480.0" cy="2233.9" rx="5.9" ry="10.4" fill="#28f070"/><ellipse cx="1480.0" cy="2233.9" rx="5.9" ry="10.4" fill="#e8f000"/><ellipse cx="1480.0" cy="2233.9" rx="5.2" ry="9.2" fill="#ff1800"/><ellipse cx="1509.3" cy="2183.3" rx="15.3" ry="28.0" fill="#6a12ff"/><ellipse cx="1509.3" cy="2183.3" rx="14.3" ry="26.0" fill="#1420ff"/><ellipse cx="1509.3" cy="2183.3" rx="12.9" ry="23.5" fill="#0a78ff"/><ellipse cx="1509.3" cy="2183.3" rx="3.1" ry="5.6" fill="#00d8f8"/><ellipse cx="1506.6" cy="2235.3" rx="18.7" ry="17.3" fill="#6a12ff"/><ellipse cx="1506.6" cy="2235.3" rx="16.8" ry="15.6" fill="#1420ff"/><ellipse cx="1506.6" cy="2235.3" rx="10.3" ry="9.5" fill="#0a78ff"/><ellipse cx="1493.3" cy="2225.3" rx="5.0" ry="8.6" fill="#6a12ff"/><ellipse cx="1493.3" cy="2225.3" rx="4.7" ry="8.0" fill="#1420ff"/><ellipse cx="1493.3" cy="2225.3" rx="4.2" ry="7.3" fill="#00d8f8"/><ellipse cx="1493.3" cy="2225.3" rx="3.9" ry="6.6" fill="#28f070"/><ellipse cx="1493.3" cy="2225.3" rx="3.5" ry="6.0" fill="#e8f000"/><ellipse cx="1493.3" cy="2225.3" rx="3.0" ry="5.2" fill="#ff1800"/><ellipse cx="1520.6" cy="2231.3" rx="5.8" ry="7.9" fill="#6a12ff"/><ellipse cx="1520.6" cy="2231.3" rx="5.4" ry="7.4" fill="#1420ff"/><ellipse cx="1520.6" cy="2231.3" rx="4.8" ry="6.6" fill="#00d8f8"/><ellipse cx="1520.6" cy="2231.3" rx="4.5" ry="6.2" fill="#28f070"/><ellipse cx="1520.6" cy="2231.3" rx="4.1" ry="5.7" fill="#e8f000"/><ellipse cx="1520.6" cy="2231.3" rx="3.6" ry="4.9" fill="#ff1800"/><ellipse cx="1511.3" cy="2155.3" rx="2.9" ry="5.3" fill="#6a12ff"/><ellipse cx="1511.3" cy="2155.3" rx="2.7" ry="5.0" fill="#1420ff"/><ellipse cx="1511.3" cy="2155.3" rx="2.5" ry="4.5" fill="#0a78ff"/><ellipse cx="1511.3" cy="2155.3" rx="1.3" ry="2.4" fill="#00d8f8"/><ellipse cx="1555.9" cy="2182.0" rx="16.0" ry="30.7" fill="#6a12ff"/><ellipse cx="1555.9" cy="2182.0" rx="14.9" ry="28.5" fill="#1420ff"/><ellipse cx="1555.9" cy="2182.0" rx="13.4" ry="25.7" fill="#0a78ff"/><ellipse cx="1555.9" cy="2182.0" rx="4.8" ry="9.2" fill="#00d8f8"/><ellipse cx="1553.3" cy="2231.3" rx="18.7" ry="20.0" fill="#6a12ff"/><ellipse cx="1553.3" cy="2231.3" rx="16.8" ry="18.0" fill="#1420ff"/><ellipse cx="1553.3" cy="2231.3" rx="10.3" ry="11.0" fill="#0a78ff"/><ellipse cx="1537.9" cy="2220.6" rx="4.6" ry="9.4" fill="#6a12ff"/><ellipse cx="1537.9" cy="2220.6" rx="4.3" ry="8.7" fill="#1420ff"/><ellipse cx="1537.9" cy="2220.6" rx="3.9" ry="7.9" fill="#00d8f8"/><ellipse cx="1537.9" cy="2220.6" rx="3.3" ry="6.7" fill="#28f070"/><ellipse cx="1537.9" cy="2220.6" rx="2.8" ry="5.6" fill="#e8f000"/><ellipse cx="1537.9" cy="2220.6" rx="2.3" ry="4.7" fill="#ff1800"/><ellipse cx="1565.9" cy="2229.3" rx="6.5" ry="11.5" fill="#6a12ff"/><ellipse cx="1565.9" cy="2229.3" rx="6.0" ry="10.7" fill="#1420ff"/><ellipse cx="1565.9" cy="2229.3" rx="5.4" ry="9.7" fill="#00d8f8"/><ellipse cx="1565.9" cy="2229.3" rx="5.2" ry="9.3" fill="#28f070"/><ellipse cx="1565.9" cy="2229.3" rx="5.1" ry="9.0" fill="#e8f000"/><ellipse cx="1565.9" cy="2229.3" rx="4.4" ry="7.8" fill="#ff1800"/><ellipse cx="1558.6" cy="2158.7" rx="3.6" ry="4.0" fill="#6a12ff"/><ellipse cx="1558.6" cy="2158.7" rx="3.3" ry="3.7" fill="#1420ff"/><ellipse cx="1558.6" cy="2158.7" rx="3.0" ry="3.4" fill="#00d8f8"/><ellipse cx="1558.6" cy="2158.7" rx="2.4" ry="2.7" fill="#28f070"/><ellipse cx="1558.6" cy="2158.7" rx="1.8" ry="2.0" fill="#e8f000"/><ellipse cx="1558.6" cy="2158.7" rx="1.4" ry="1.6" fill="#ff1800"/><ellipse cx="1602.6" cy="2186.0" rx="16.0" ry="30.7" fill="#6a12ff"/><ellipse cx="1602.6" cy="2186.0" rx="14.9" ry="28.5" fill="#1420ff"/><ellipse cx="1602.6" cy="2186.0" rx="13.4" ry="25.7" fill="#0a78ff"/><ellipse cx="1602.6" cy="2186.0" rx="6.4" ry="12.3" fill="#00d8f8"/><ellipse cx="1596.6" cy="2196.0" rx="1.6" ry="2.4" fill="#ff1800"/><ellipse cx="1600.6" cy="2239.3" rx="21.3" ry="21.3" fill="#6a12ff"/><ellipse cx="1600.6" cy="2239.3" rx="19.8" ry="19.8" fill="#1420ff"/><ellipse cx="1600.6" cy="2239.3" rx="17.9" ry="17.9" fill="#0a78ff"/><ellipse cx="1600.6" cy="2239.3" rx="9.6" ry="9.6" fill="#00d8f8"/><ellipse cx="1584.6" cy="2232.6" rx="7.2" ry="11.5" fill="#6a12ff"/><ellipse cx="1584.6" cy="2232.6" rx="6.7" ry="10.7" fill="#1420ff"/><ellipse cx="1584.6" cy="2232.6" rx="6.0" ry="9.7" fill="#00d8f8"/><ellipse cx="1584.6" cy="2232.6" rx="6.0" ry="9.6" fill="#28f070"/><ellipse cx="1584.6" cy="2232.6" rx="5.9" ry="9.4" fill="#e8f000"/><ellipse cx="1584.6" cy="2232.6" rx="5.2" ry="8.3" fill="#ff1800"/><ellipse cx="1614.6" cy="2237.9" rx="9.4" ry="11.5" fill="#6a12ff"/><ellipse cx="1614.6" cy="2237.9" rx="8.7" ry="10.7" fill="#1420ff"/><ellipse cx="1614.6" cy="2237.9" rx="8.2" ry="10.1" fill="#00d8f8"/><ellipse cx="1614.6" cy="2237.9" rx="8.2" ry="10.1" fill="#28f070"/><ellipse cx="1614.6" cy="2237.9" rx="8.2" ry="10.1" fill="#e8f000"/><ellipse cx="1614.6" cy="2237.9" rx="7.3" ry="9.0" fill="#ff1800"/><ellipse cx="1645.2" cy="2183.3" rx="16.0" ry="30.7" fill="#6a12ff"/><ellipse cx="1645.2" cy="2183.3" rx="14.9" ry="28.5" fill="#1420ff"/><ellipse cx="1645.2" cy="2183.3" rx="13.4" ry="25.7" fill="#0a78ff"/><ellipse cx="1645.2" cy="2183.3" rx="4.8" ry="9.2" fill="#00d8f8"/><ellipse cx="1643.9" cy="2186.0" rx="2.4" ry="10.7" fill="#ff1800"/><ellipse cx="1645.2" cy="2236.6" rx="21.3" ry="20.0" fill="#6a12ff"/><ellipse cx="1645.2" cy="2236.6" rx="19.8" ry="18.6" fill="#1420ff"/><ellipse cx="1645.2" cy="2236.6" rx="17.9" ry="16.8" fill="#0a78ff"/><ellipse cx="1645.2" cy="2236.6" rx="9.6" ry="9.0" fill="#00d8f8"/><ellipse cx="1629.9" cy="2227.3" rx="6.5" ry="13.0" fill="#6a12ff"/><ellipse cx="1629.9" cy="2227.3" rx="6.0" ry="12.0" fill="#1420ff"/><ellipse cx="1629.9" cy="2227.3" rx="5.4" ry="10.9" fill="#00d8f8"/><ellipse cx="1629.9" cy="2227.3" rx="5.2" ry="10.5" fill="#28f070"/><ellipse cx="1629.9" cy="2227.3" rx="5.1" ry="10.1" fill="#e8f000"/><ellipse cx="1629.9" cy="2227.3" rx="4.4" ry="8.8" fill="#ff1800"/><ellipse cx="1660.5" cy="2239.3" rx="6.5" ry="11.5" fill="#6a12ff"/><ellipse cx="1660.5" cy="2239.3" rx="6.0" ry="10.7" fill="#1420ff"/><ellipse cx="1660.5" cy="2239.3" rx="5.4" ry="9.7" fill="#00d8f8"/><ellipse cx="1660.5" cy="2239.3" rx="5.2" ry="9.3" fill="#28f070"/><ellipse cx="1660.5" cy="2239.3" rx="5.1" ry="9.0" fill="#e8f000"/><ellipse cx="1660.5" cy="2239.3" rx="4.4" ry="7.8" fill="#ff1800"/></g>
</g>
<g clip-path="url(#cp13)">
<rect x="1676.2" y="1839.1" width="236.7" height="142.3" fill="#2a2a2a" stroke="none" stroke-width="0" />
<rect x="1674.9" y="1839.1" width="3.6" height="27" fill="#0e0e0e"/><rect x="1679.1" y="1839.1" width="0.8" height="142.3" fill="#303030"/><rect x="1682.9" y="1839.1" width="3.6" height="27" fill="#0e0e0e"/><rect x="1687.1" y="1839.1" width="0.8" height="142.3" fill="#303030"/><rect x="1690.9" y="1839.1" width="3.6" height="27" fill="#0e0e0e"/><rect x="1695.1" y="1839.1" width="0.8" height="142.3" fill="#303030"/><rect x="1722.8" y="1839.1" width="3.6" height="27" fill="#0e0e0e"/><rect x="1727.0" y="1839.1" width="0.8" height="142.3" fill="#303030"/><rect x="1730.8" y="1839.1" width="3.6" height="27" fill="#0e0e0e"/><rect x="1735.0" y="1839.1" width="0.8" height="142.3" fill="#303030"/><rect x="1738.8" y="1839.1" width="3.6" height="27" fill="#0e0e0e"/><rect x="1743.0" y="1839.1" width="0.8" height="142.3" fill="#303030"/><rect x="1768.1" y="1839.1" width="3.6" height="27" fill="#0e0e0e"/><rect x="1772.3" y="1839.1" width="0.8" height="142.3" fill="#303030"/><rect x="1776.1" y="1839.1" width="3.6" height="27" fill="#0e0e0e"/><rect x="1780.3" y="1839.1" width="0.8" height="142.3" fill="#303030"/><rect x="1784.1" y="1839.1" width="3.6" height="27" fill="#0e0e0e"/><rect x="1788.3" y="1839.1" width="0.8" height="142.3" fill="#303030"/><rect x="1813.5" y="1839.1" width="3.6" height="27" fill="#0e0e0e"/><rect x="1817.7" y="1839.1" width="0.8" height="142.3" fill="#303030"/><rect x="1821.5" y="1839.1" width="3.6" height="27" fill="#0e0e0e"/><rect x="1825.7" y="1839.1" width="0.8" height="142.3" fill="#303030"/><rect x="1829.4" y="1839.1" width="3.6" height="27" fill="#0e0e0e"/><rect x="1833.6" y="1839.1" width="0.8" height="142.3" fill="#303030"/><rect x="1857.8" y="1839.1" width="3.6" height="27" fill="#0e0e0e"/><rect x="1862.0" y="1839.1" width="0.8" height="142.3" fill="#303030"/><rect x="1865.8" y="1839.1" width="3.6" height="27" fill="#0e0e0e"/><rect x="1870.0" y="1839.1" width="0.8" height="142.3" fill="#303030"/><rect x="1873.8" y="1839.1" width="3.6" height="27" fill="#0e0e0e"/><rect x="1878.0" y="1839.1" width="0.8" height="142.3" fill="#303030"/><rect x="1902.4" y="1839.1" width="3.6" height="27" fill="#0e0e0e"/><rect x="1906.6" y="1839.1" width="0.8" height="142.3" fill="#303030"/><rect x="1910.4" y="1839.1" width="3.6" height="27" fill="#0e0e0e"/><rect x="1914.6" y="1839.1" width="0.8" height="142.3" fill="#303030"/><rect x="1918.4" y="1839.1" width="3.6" height="27" fill="#0e0e0e"/><rect x="1922.6" y="1839.1" width="0.8" height="142.3" fill="#303030"/>
<g filter="url(#msoft)">
<use href="#mouse" transform="translate(1710.3,1843.1) scale(0.1333)"/>
<use href="#mouse" transform="translate(1755.0,1839.1) scale(0.1333)"/>
<use href="#mouse" transform="translate(1800.9,1839.1) scale(0.1333)"/>
<use href="#mouse" transform="translate(1845.6,1837.8) scale(0.1333)"/>
<use href="#mouse" transform="translate(1889.6,1837.8) scale(0.1333)"/>
</g>
<g filter="url(#rough)"><ellipse cx="1815.6" cy="1934.9" rx="1.3" ry="2.7" fill="#6a12ff"/><ellipse cx="1859.6" cy="1929.9" rx="1.6" ry="1.9" fill="#6a12ff"/><ellipse cx="1873.6" cy="1924.0" rx="1.3" ry="2.4" fill="#6a12ff"/><ellipse cx="1902.9" cy="1936.5" rx="1.6" ry="2.1" fill="#6a12ff"/></g>
</g>
<g clip-path="url(#cp14)">
<rect x="1676.2" y="1988.0" width="236.7" height="142.5" fill="#2a2a2a" stroke="none" stroke-width="0" />
<rect x="1676.5" y="1988.0" width="3.6" height="27" fill="#0e0e0e"/><rect x="1680.7" y="1988.0" width="0.8" height="142.5" fill="#303030"/><rect x="1684.5" y="1988.0" width="3.6" height="27" fill="#0e0e0e"/><rect x="1688.7" y="1988.0" width="0.8" height="142.5" fill="#303030"/><rect x="1692.5" y="1988.0" width="3.6" height="27" fill="#0e0e0e"/><rect x="1696.7" y="1988.0" width="0.8" height="142.5" fill="#303030"/><rect x="1726.5" y="1988.0" width="3.6" height="27" fill="#0e0e0e"/><rect x="1730.7" y="1988.0" width="0.8" height="142.5" fill="#303030"/><rect x="1734.5" y="1988.0" width="3.6" height="27" fill="#0e0e0e"/><rect x="1738.7" y="1988.0" width="0.8" height="142.5" fill="#303030"/><rect x="1742.5" y="1988.0" width="3.6" height="27" fill="#0e0e0e"/><rect x="1746.7" y="1988.0" width="0.8" height="142.5" fill="#303030"/><rect x="1771.1" y="1988.0" width="3.6" height="27" fill="#0e0e0e"/><rect x="1775.3" y="1988.0" width="0.8" height="142.5" fill="#303030"/><rect x="1779.1" y="1988.0" width="3.6" height="27" fill="#0e0e0e"/><rect x="1783.3" y="1988.0" width="0.8" height="142.5" fill="#303030"/><rect x="1787.1" y="1988.0" width="3.6" height="27" fill="#0e0e0e"/><rect x="1791.3" y="1988.0" width="0.8" height="142.5" fill="#303030"/><rect x="1815.1" y="1988.0" width="3.6" height="27" fill="#0e0e0e"/><rect x="1819.3" y="1988.0" width="0.8" height="142.5" fill="#303030"/><rect x="1823.1" y="1988.0" width="3.6" height="27" fill="#0e0e0e"/><rect x="1827.3" y="1988.0" width="0.8" height="142.5" fill="#303030"/><rect x="1831.1" y="1988.0" width="3.6" height="27" fill="#0e0e0e"/><rect x="1835.3" y="1988.0" width="0.8" height="142.5" fill="#303030"/><rect x="1859.8" y="1988.0" width="3.6" height="27" fill="#0e0e0e"/><rect x="1864.0" y="1988.0" width="0.8" height="142.5" fill="#303030"/><rect x="1867.8" y="1988.0" width="3.6" height="27" fill="#0e0e0e"/><rect x="1872.0" y="1988.0" width="0.8" height="142.5" fill="#303030"/><rect x="1875.8" y="1988.0" width="3.6" height="27" fill="#0e0e0e"/><rect x="1880.0" y="1988.0" width="0.8" height="142.5" fill="#303030"/><rect x="1903.7" y="1988.0" width="3.6" height="27" fill="#0e0e0e"/><rect x="1907.9" y="1988.0" width="0.8" height="142.5" fill="#303030"/><rect x="1911.7" y="1988.0" width="3.6" height="27" fill="#0e0e0e"/><rect x="1915.9" y="1988.0" width="0.8" height="142.5" fill="#303030"/><rect x="1919.7" y="1988.0" width="3.6" height="27" fill="#0e0e0e"/><rect x="1923.9" y="1988.0" width="0.8" height="142.5" fill="#303030"/>
<g filter="url(#msoft)">
<use href="#mouse" transform="translate(1713.6,1996.0) scale(0.1333)"/>
<use href="#mouse" transform="translate(1759.0,1992.0) scale(0.1333)"/>
<use href="#mouse" transform="translate(1802.9,1989.3) scale(0.1333)"/>
<use href="#mouse" transform="translate(1846.9,1989.3) scale(0.1333)"/>
<use href="#mouse" transform="translate(1892.2,1990.7) scale(0.1333)"/>
</g>
<g filter="url(#rough)"><ellipse cx="1699.7" cy="2087.6" rx="2.7" ry="2.4" fill="#6a12ff"/><ellipse cx="1894.9" cy="2086.3" rx="1.6" ry="1.1" fill="#6a12ff"/></g>
</g>
<g clip-path="url(#cp15)">
<rect x="1676.2" y="2135.0" width="236.7" height="142.3" fill="#2a2a2a" stroke="none" stroke-width="0" />
<rect x="1676.5" y="2135.0" width="3.6" height="27" fill="#0e0e0e"/><rect x="1680.7" y="2135.0" width="0.8" height="142.3" fill="#303030"/><rect x="1684.5" y="2135.0" width="3.6" height="27" fill="#0e0e0e"/><rect x="1688.7" y="2135.0" width="0.8" height="142.3" fill="#303030"/><rect x="1692.5" y="2135.0" width="3.6" height="27" fill="#0e0e0e"/><rect x="1696.7" y="2135.0" width="0.8" height="142.3" fill="#303030"/><rect x="1725.2" y="2135.0" width="3.6" height="27" fill="#0e0e0e"/><rect x="1729.4" y="2135.0" width="0.8" height="142.3" fill="#303030"/><rect x="1733.2" y="2135.0" width="3.6" height="27" fill="#0e0e0e"/><rect x="1737.4" y="2135.0" width="0.8" height="142.3" fill="#303030"/><rect x="1741.2" y="2135.0" width="3.6" height="27" fill="#0e0e0e"/><rect x="1745.4" y="2135.0" width="0.8" height="142.3" fill="#303030"/><rect x="1769.1" y="2135.0" width="3.6" height="27" fill="#0e0e0e"/><rect x="1773.3" y="2135.0" width="0.8" height="142.3" fill="#303030"/><rect x="1777.1" y="2135.0" width="3.6" height="27" fill="#0e0e0e"/><rect x="1781.3" y="2135.0" width="0.8" height="142.3" fill="#303030"/><rect x="1785.1" y="2135.0" width="3.6" height="27" fill="#0e0e0e"/><rect x="1789.3" y="2135.0" width="0.8" height="142.3" fill="#303030"/><rect x="1813.8" y="2135.0" width="3.6" height="27" fill="#0e0e0e"/><rect x="1818.0" y="2135.0" width="0.8" height="142.3" fill="#303030"/><rect x="1821.8" y="2135.0" width="3.6" height="27" fill="#0e0e0e"/><rect x="1826.0" y="2135.0" width="0.8" height="142.3" fill="#303030"/><rect x="1829.8" y="2135.0" width="3.6" height="27" fill="#0e0e0e"/><rect x="1834.0" y="2135.0" width="0.8" height="142.3" fill="#303030"/><rect x="1858.4" y="2135.0" width="3.6" height="27" fill="#0e0e0e"/><rect x="1862.6" y="2135.0" width="0.8" height="142.3" fill="#303030"/><rect x="1866.4" y="2135.0" width="3.6" height="27" fill="#0e0e0e"/><rect x="1870.6" y="2135.0" width="0.8" height="142.3" fill="#303030"/><rect x="1874.4" y="2135.0" width="3.6" height="27" fill="#0e0e0e"/><rect x="1878.6" y="2135.0" width="0.8" height="142.3" fill="#303030"/><rect x="1903.1" y="2135.0" width="3.6" height="27" fill="#0e0e0e"/><rect x="1907.3" y="2135.0" width="0.8" height="142.3" fill="#303030"/><rect x="1911.1" y="2135.0" width="3.6" height="27" fill="#0e0e0e"/><rect x="1915.3" y="2135.0" width="0.8" height="142.3" fill="#303030"/><rect x="1919.1" y="2135.0" width="3.6" height="27" fill="#0e0e0e"/><rect x="1923.3" y="2135.0" width="0.8" height="142.3" fill="#303030"/>
<g filter="url(#msoft)">
<use href="#mouse" transform="translate(1713.6,2143.0) scale(0.1333)"/>
<use href="#mouse" transform="translate(1756.3,2136.3) scale(0.1333)"/>
<use href="#mouse" transform="translate(1801.6,2135.0) scale(0.1333)"/>
<use href="#mouse" transform="translate(1845.6,2135.0) scale(0.1333)"/>
<use href="#mouse" transform="translate(1890.9,2137.7) scale(0.1333)"/>
</g>
<g filter="url(#rough)"><ellipse cx="1711.6" cy="2216.0" rx="1.3" ry="3.3" fill="#6a12ff"/><ellipse cx="1749.0" cy="2208.0" rx="2.9" ry="3.2" fill="#6a12ff"/><ellipse cx="1749.0" cy="2208.0" rx="2.6" ry="2.9" fill="#1420ff"/><ellipse cx="1804.3" cy="2209.3" rx="4.8" ry="4.0" fill="#6a12ff"/><ellipse cx="1804.3" cy="2209.3" rx="4.3" ry="3.6" fill="#1420ff"/><ellipse cx="1796.9" cy="2235.9" rx="4.0" ry="2.9" fill="#6a12ff"/><ellipse cx="1848.2" cy="2207.3" rx="2.0" ry="1.1" fill="#6a12ff"/><ellipse cx="1895.5" cy="2212.0" rx="2.4" ry="2.7" fill="#6a12ff"/><ellipse cx="1895.5" cy="2212.0" rx="2.2" ry="2.4" fill="#1420ff"/><ellipse cx="1889.6" cy="2233.9" rx="9.1" ry="6.9" fill="#6a12ff"/><ellipse cx="1889.6" cy="2233.9" rx="8.2" ry="6.2" fill="#1420ff"/><ellipse cx="1848.2" cy="2158.7" rx="1.3" ry="1.3" fill="#6a12ff"/><ellipse cx="1848.2" cy="2158.7" rx="1.2" ry="1.2" fill="#1420ff"/><ellipse cx="1890.6" cy="2154.7" rx="1.3" ry="2.9" fill="#6a12ff"/><ellipse cx="1890.6" cy="2154.7" rx="1.2" ry="2.6" fill="#1420ff"/></g>
</g>
<rect x="1958.2" y="1892.5" width="10.3" height="281.5" fill="url(#cb)" stroke="#333" stroke-width="1" />
<line x1="1968.5" y1="1892.5" x2="1976.0" y2="1892.5" stroke="#1a1a1a" stroke-width="1.2" />
<line x1="1968.5" y1="1905.0" x2="1972.2" y2="1905.0" stroke="#1a1a1a" stroke-width="1.2" />
<line x1="1968.5" y1="1917.5" x2="1972.2" y2="1917.5" stroke="#1a1a1a" stroke-width="1.2" />
<line x1="1968.5" y1="1930.0" x2="1972.2" y2="1930.0" stroke="#1a1a1a" stroke-width="1.2" />
<line x1="1968.5" y1="1942.5" x2="1972.2" y2="1942.5" stroke="#1a1a1a" stroke-width="1.2" />
<line x1="1968.5" y1="1955.0" x2="1976.0" y2="1955.0" stroke="#1a1a1a" stroke-width="1.2" />
<line x1="1968.5" y1="1967.6" x2="1972.2" y2="1967.6" stroke="#1a1a1a" stroke-width="1.2" />
<line x1="1968.5" y1="1980.1" x2="1972.2" y2="1980.1" stroke="#1a1a1a" stroke-width="1.2" />
<line x1="1968.5" y1="1992.6" x2="1972.2" y2="1992.6" stroke="#1a1a1a" stroke-width="1.2" />
<line x1="1968.5" y1="2005.1" x2="1972.2" y2="2005.1" stroke="#1a1a1a" stroke-width="1.2" />
<line x1="1968.5" y1="2017.6" x2="1976.0" y2="2017.6" stroke="#1a1a1a" stroke-width="1.2" />
<line x1="1968.5" y1="2030.1" x2="1972.2" y2="2030.1" stroke="#1a1a1a" stroke-width="1.2" />
<line x1="1968.5" y1="2042.6" x2="1972.2" y2="2042.6" stroke="#1a1a1a" stroke-width="1.2" />
<line x1="1968.5" y1="2055.1" x2="1972.2" y2="2055.1" stroke="#1a1a1a" stroke-width="1.2" />
<line x1="1968.5" y1="2067.6" x2="1972.2" y2="2067.6" stroke="#1a1a1a" stroke-width="1.2" />
<line x1="1968.5" y1="2080.2" x2="1976.0" y2="2080.2" stroke="#1a1a1a" stroke-width="1.2" />
<line x1="1968.5" y1="2092.7" x2="1972.2" y2="2092.7" stroke="#1a1a1a" stroke-width="1.2" />
<line x1="1968.5" y1="2105.2" x2="1972.2" y2="2105.2" stroke="#1a1a1a" stroke-width="1.2" />
<line x1="1968.5" y1="2117.7" x2="1972.2" y2="2117.7" stroke="#1a1a1a" stroke-width="1.2" />
<line x1="1968.5" y1="2130.2" x2="1972.2" y2="2130.2" stroke="#1a1a1a" stroke-width="1.2" />
<line x1="1968.5" y1="2142.7" x2="1976.0" y2="2142.7" stroke="#1a1a1a" stroke-width="1.2" />
<line x1="1968.5" y1="2155.2" x2="1972.2" y2="2155.2" stroke="#1a1a1a" stroke-width="1.2" />
<line x1="1968.5" y1="2167.7" x2="1972.2" y2="2167.7" stroke="#1a1a1a" stroke-width="1.2" />
<text font-size="19.6" textLength="66.0" lengthAdjust="spacingAndGlyphs" x="1984.8" y="1899.1" >10 × 10<tspan font-size="12" dy="-8">5</tspan></text>
<text font-size="19.6" textLength="55.5" lengthAdjust="spacingAndGlyphs" x="1984.8" y="1961.6" >8 × 10<tspan font-size="12" dy="-8">5</tspan></text>
<text font-size="19.6" textLength="55.5" lengthAdjust="spacingAndGlyphs" x="1984.8" y="2024.2" >6 × 10<tspan font-size="12" dy="-8">5</tspan></text>
<text font-size="19.6" textLength="55.5" lengthAdjust="spacingAndGlyphs" x="1984.8" y="2086.8" >4 × 10<tspan font-size="12" dy="-8">5</tspan></text>
<text font-size="19.6" textLength="55.5" lengthAdjust="spacingAndGlyphs" x="1984.8" y="2149.3" >2 × 10<tspan font-size="12" dy="-8">5</tspan></text>
<text font-size="22.5" text-anchor="middle" textLength="102.8" lengthAdjust="spacingAndGlyphs" x="2000.2" y="2214.6" >Radiance</text>
<text font-size="22.5" text-anchor="middle" x="2000.2" y="2241.2" >(p s<tspan font-size="14" dy="-9">−1</tspan><tspan dy="9"> cm</tspan><tspan font-size="14" dy="-9">−2</tspan><tspan dy="9"> sr</tspan><tspan font-size="14" dy="-9">−1</tspan><tspan dy="9">)</tspan></text>
</svg>
</body>
</html>
